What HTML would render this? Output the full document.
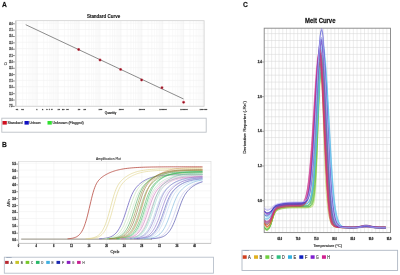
<!DOCTYPE html>
<html><head><meta charset="utf-8"><style>
html,body{margin:0;padding:0;background:#fff;}
body{width:400px;height:275px;overflow:hidden;font-family:"Liberation Sans", sans-serif;}
svg{display:block;will-change:transform;}
</style></head><body>
<svg width="400" height="275" viewBox="0 0 400 275">
<rect x="0" y="0" width="400" height="275" fill="#fff"/>
<text x="2" y="6.95" font-size="6.7" fill="#111" text-anchor="start" font-weight="bold" font-family='"Liberation Sans", sans-serif' stroke="#111" stroke-width="0.28" stroke-opacity="0.55">A</text>
<text x="103.6" y="18.4" font-size="4.7" fill="#1a1a1a" text-anchor="middle" font-weight="bold" font-family='"Liberation Sans", sans-serif' stroke="#1a1a1a" stroke-width="0.22" stroke-opacity="0.55" textLength="33.4" lengthAdjust="spacingAndGlyphs">Standard Curve</text>
<line x1="15.8" y1="23.2" x2="204.1" y2="23.2" stroke="#eeeeee" stroke-width="0.5"/>
<line x1="15.8" y1="29.55" x2="204.1" y2="29.55" stroke="#eeeeee" stroke-width="0.5"/>
<line x1="15.8" y1="35.91" x2="204.1" y2="35.91" stroke="#eeeeee" stroke-width="0.5"/>
<line x1="15.8" y1="42.26" x2="204.1" y2="42.26" stroke="#eeeeee" stroke-width="0.5"/>
<line x1="15.8" y1="48.61" x2="204.1" y2="48.61" stroke="#eeeeee" stroke-width="0.5"/>
<line x1="15.8" y1="54.97" x2="204.1" y2="54.97" stroke="#eeeeee" stroke-width="0.5"/>
<line x1="15.8" y1="61.32" x2="204.1" y2="61.32" stroke="#eeeeee" stroke-width="0.5"/>
<line x1="15.8" y1="67.67" x2="204.1" y2="67.67" stroke="#eeeeee" stroke-width="0.5"/>
<line x1="15.8" y1="74.02" x2="204.1" y2="74.02" stroke="#eeeeee" stroke-width="0.5"/>
<line x1="15.8" y1="80.38" x2="204.1" y2="80.38" stroke="#eeeeee" stroke-width="0.5"/>
<line x1="15.8" y1="86.73" x2="204.1" y2="86.73" stroke="#eeeeee" stroke-width="0.5"/>
<line x1="15.8" y1="93.08" x2="204.1" y2="93.08" stroke="#eeeeee" stroke-width="0.5"/>
<line x1="15.8" y1="99.44" x2="204.1" y2="99.44" stroke="#eeeeee" stroke-width="0.5"/>
<line x1="15.8" y1="105.79" x2="204.1" y2="105.79" stroke="#eeeeee" stroke-width="0.5"/>
<line x1="16.4" y1="20.7" x2="16.4" y2="106.3" stroke="#ececec" stroke-width="0.5"/>
<line x1="22.69" y1="20.7" x2="22.69" y2="106.3" stroke="#f3f3f3" stroke-width="0.5"/>
<line x1="26.37" y1="20.7" x2="26.37" y2="106.3" stroke="#f3f3f3" stroke-width="0.5"/>
<line x1="28.98" y1="20.7" x2="28.98" y2="106.3" stroke="#f3f3f3" stroke-width="0.5"/>
<line x1="31.01" y1="20.7" x2="31.01" y2="106.3" stroke="#f3f3f3" stroke-width="0.5"/>
<line x1="32.66" y1="20.7" x2="32.66" y2="106.3" stroke="#f3f3f3" stroke-width="0.5"/>
<line x1="34.06" y1="20.7" x2="34.06" y2="106.3" stroke="#f3f3f3" stroke-width="0.5"/>
<line x1="35.27" y1="20.7" x2="35.27" y2="106.3" stroke="#f3f3f3" stroke-width="0.5"/>
<line x1="36.34" y1="20.7" x2="36.34" y2="106.3" stroke="#f3f3f3" stroke-width="0.5"/>
<line x1="37.3" y1="20.7" x2="37.3" y2="106.3" stroke="#ececec" stroke-width="0.5"/>
<line x1="43.59" y1="20.7" x2="43.59" y2="106.3" stroke="#f3f3f3" stroke-width="0.5"/>
<line x1="47.27" y1="20.7" x2="47.27" y2="106.3" stroke="#f3f3f3" stroke-width="0.5"/>
<line x1="49.88" y1="20.7" x2="49.88" y2="106.3" stroke="#f3f3f3" stroke-width="0.5"/>
<line x1="51.91" y1="20.7" x2="51.91" y2="106.3" stroke="#f3f3f3" stroke-width="0.5"/>
<line x1="53.56" y1="20.7" x2="53.56" y2="106.3" stroke="#f3f3f3" stroke-width="0.5"/>
<line x1="54.96" y1="20.7" x2="54.96" y2="106.3" stroke="#f3f3f3" stroke-width="0.5"/>
<line x1="56.17" y1="20.7" x2="56.17" y2="106.3" stroke="#f3f3f3" stroke-width="0.5"/>
<line x1="57.24" y1="20.7" x2="57.24" y2="106.3" stroke="#f3f3f3" stroke-width="0.5"/>
<line x1="58.2" y1="20.7" x2="58.2" y2="106.3" stroke="#ececec" stroke-width="0.5"/>
<line x1="64.49" y1="20.7" x2="64.49" y2="106.3" stroke="#f3f3f3" stroke-width="0.5"/>
<line x1="68.17" y1="20.7" x2="68.17" y2="106.3" stroke="#f3f3f3" stroke-width="0.5"/>
<line x1="70.78" y1="20.7" x2="70.78" y2="106.3" stroke="#f3f3f3" stroke-width="0.5"/>
<line x1="72.81" y1="20.7" x2="72.81" y2="106.3" stroke="#f3f3f3" stroke-width="0.5"/>
<line x1="74.46" y1="20.7" x2="74.46" y2="106.3" stroke="#f3f3f3" stroke-width="0.5"/>
<line x1="75.86" y1="20.7" x2="75.86" y2="106.3" stroke="#f3f3f3" stroke-width="0.5"/>
<line x1="77.07" y1="20.7" x2="77.07" y2="106.3" stroke="#f3f3f3" stroke-width="0.5"/>
<line x1="78.14" y1="20.7" x2="78.14" y2="106.3" stroke="#f3f3f3" stroke-width="0.5"/>
<line x1="79.1" y1="20.7" x2="79.1" y2="106.3" stroke="#ececec" stroke-width="0.5"/>
<line x1="85.39" y1="20.7" x2="85.39" y2="106.3" stroke="#f3f3f3" stroke-width="0.5"/>
<line x1="89.07" y1="20.7" x2="89.07" y2="106.3" stroke="#f3f3f3" stroke-width="0.5"/>
<line x1="91.68" y1="20.7" x2="91.68" y2="106.3" stroke="#f3f3f3" stroke-width="0.5"/>
<line x1="93.71" y1="20.7" x2="93.71" y2="106.3" stroke="#f3f3f3" stroke-width="0.5"/>
<line x1="95.36" y1="20.7" x2="95.36" y2="106.3" stroke="#f3f3f3" stroke-width="0.5"/>
<line x1="96.76" y1="20.7" x2="96.76" y2="106.3" stroke="#f3f3f3" stroke-width="0.5"/>
<line x1="97.97" y1="20.7" x2="97.97" y2="106.3" stroke="#f3f3f3" stroke-width="0.5"/>
<line x1="99.04" y1="20.7" x2="99.04" y2="106.3" stroke="#f3f3f3" stroke-width="0.5"/>
<line x1="100" y1="20.7" x2="100" y2="106.3" stroke="#ececec" stroke-width="0.5"/>
<line x1="106.29" y1="20.7" x2="106.29" y2="106.3" stroke="#f3f3f3" stroke-width="0.5"/>
<line x1="109.97" y1="20.7" x2="109.97" y2="106.3" stroke="#f3f3f3" stroke-width="0.5"/>
<line x1="112.58" y1="20.7" x2="112.58" y2="106.3" stroke="#f3f3f3" stroke-width="0.5"/>
<line x1="114.61" y1="20.7" x2="114.61" y2="106.3" stroke="#f3f3f3" stroke-width="0.5"/>
<line x1="116.26" y1="20.7" x2="116.26" y2="106.3" stroke="#f3f3f3" stroke-width="0.5"/>
<line x1="117.66" y1="20.7" x2="117.66" y2="106.3" stroke="#f3f3f3" stroke-width="0.5"/>
<line x1="118.87" y1="20.7" x2="118.87" y2="106.3" stroke="#f3f3f3" stroke-width="0.5"/>
<line x1="119.94" y1="20.7" x2="119.94" y2="106.3" stroke="#f3f3f3" stroke-width="0.5"/>
<line x1="120.9" y1="20.7" x2="120.9" y2="106.3" stroke="#ececec" stroke-width="0.5"/>
<line x1="127.19" y1="20.7" x2="127.19" y2="106.3" stroke="#f3f3f3" stroke-width="0.5"/>
<line x1="130.87" y1="20.7" x2="130.87" y2="106.3" stroke="#f3f3f3" stroke-width="0.5"/>
<line x1="133.48" y1="20.7" x2="133.48" y2="106.3" stroke="#f3f3f3" stroke-width="0.5"/>
<line x1="135.51" y1="20.7" x2="135.51" y2="106.3" stroke="#f3f3f3" stroke-width="0.5"/>
<line x1="137.16" y1="20.7" x2="137.16" y2="106.3" stroke="#f3f3f3" stroke-width="0.5"/>
<line x1="138.56" y1="20.7" x2="138.56" y2="106.3" stroke="#f3f3f3" stroke-width="0.5"/>
<line x1="139.77" y1="20.7" x2="139.77" y2="106.3" stroke="#f3f3f3" stroke-width="0.5"/>
<line x1="140.84" y1="20.7" x2="140.84" y2="106.3" stroke="#f3f3f3" stroke-width="0.5"/>
<line x1="141.8" y1="20.7" x2="141.8" y2="106.3" stroke="#ececec" stroke-width="0.5"/>
<line x1="148.09" y1="20.7" x2="148.09" y2="106.3" stroke="#f3f3f3" stroke-width="0.5"/>
<line x1="151.77" y1="20.7" x2="151.77" y2="106.3" stroke="#f3f3f3" stroke-width="0.5"/>
<line x1="154.38" y1="20.7" x2="154.38" y2="106.3" stroke="#f3f3f3" stroke-width="0.5"/>
<line x1="156.41" y1="20.7" x2="156.41" y2="106.3" stroke="#f3f3f3" stroke-width="0.5"/>
<line x1="158.06" y1="20.7" x2="158.06" y2="106.3" stroke="#f3f3f3" stroke-width="0.5"/>
<line x1="159.46" y1="20.7" x2="159.46" y2="106.3" stroke="#f3f3f3" stroke-width="0.5"/>
<line x1="160.67" y1="20.7" x2="160.67" y2="106.3" stroke="#f3f3f3" stroke-width="0.5"/>
<line x1="161.74" y1="20.7" x2="161.74" y2="106.3" stroke="#f3f3f3" stroke-width="0.5"/>
<line x1="162.7" y1="20.7" x2="162.7" y2="106.3" stroke="#ececec" stroke-width="0.5"/>
<line x1="168.99" y1="20.7" x2="168.99" y2="106.3" stroke="#f3f3f3" stroke-width="0.5"/>
<line x1="172.67" y1="20.7" x2="172.67" y2="106.3" stroke="#f3f3f3" stroke-width="0.5"/>
<line x1="175.28" y1="20.7" x2="175.28" y2="106.3" stroke="#f3f3f3" stroke-width="0.5"/>
<line x1="177.31" y1="20.7" x2="177.31" y2="106.3" stroke="#f3f3f3" stroke-width="0.5"/>
<line x1="178.96" y1="20.7" x2="178.96" y2="106.3" stroke="#f3f3f3" stroke-width="0.5"/>
<line x1="180.36" y1="20.7" x2="180.36" y2="106.3" stroke="#f3f3f3" stroke-width="0.5"/>
<line x1="181.57" y1="20.7" x2="181.57" y2="106.3" stroke="#f3f3f3" stroke-width="0.5"/>
<line x1="182.64" y1="20.7" x2="182.64" y2="106.3" stroke="#f3f3f3" stroke-width="0.5"/>
<line x1="183.6" y1="20.7" x2="183.6" y2="106.3" stroke="#ececec" stroke-width="0.5"/>
<line x1="189.89" y1="20.7" x2="189.89" y2="106.3" stroke="#f3f3f3" stroke-width="0.5"/>
<line x1="193.57" y1="20.7" x2="193.57" y2="106.3" stroke="#f3f3f3" stroke-width="0.5"/>
<line x1="196.18" y1="20.7" x2="196.18" y2="106.3" stroke="#f3f3f3" stroke-width="0.5"/>
<line x1="198.21" y1="20.7" x2="198.21" y2="106.3" stroke="#f3f3f3" stroke-width="0.5"/>
<line x1="199.86" y1="20.7" x2="199.86" y2="106.3" stroke="#f3f3f3" stroke-width="0.5"/>
<line x1="201.26" y1="20.7" x2="201.26" y2="106.3" stroke="#f3f3f3" stroke-width="0.5"/>
<line x1="202.47" y1="20.7" x2="202.47" y2="106.3" stroke="#f3f3f3" stroke-width="0.5"/>
<line x1="203.54" y1="20.7" x2="203.54" y2="106.3" stroke="#f3f3f3" stroke-width="0.5"/>
<rect x="15.8" y="20.7" width="188.3" height="85.6" fill="none" stroke="#cfcfcf" stroke-width="0.8"/>
<line x1="15.8" y1="20.7" x2="15.8" y2="106.3" stroke="#bdbdbd" stroke-width="1"/>
<text x="12.7" y="24.75" font-size="2.6" fill="#222" text-anchor="end" font-weight="bold" font-family='"Liberation Sans", sans-serif' stroke="#222" stroke-width="0.28" stroke-opacity="0.55" textLength="3.4" lengthAdjust="spacingAndGlyphs">40.0</text>
<line x1="13.1" y1="23.8" x2="14.7" y2="23.8" stroke="#444" stroke-width="0.7"/>
<text x="12.7" y="31.1" font-size="2.6" fill="#222" text-anchor="end" font-weight="bold" font-family='"Liberation Sans", sans-serif' stroke="#222" stroke-width="0.28" stroke-opacity="0.55" textLength="3.4" lengthAdjust="spacingAndGlyphs">37.5</text>
<line x1="13.1" y1="30.15" x2="14.7" y2="30.15" stroke="#444" stroke-width="0.7"/>
<text x="12.7" y="37.46" font-size="2.6" fill="#222" text-anchor="end" font-weight="bold" font-family='"Liberation Sans", sans-serif' stroke="#222" stroke-width="0.28" stroke-opacity="0.55" textLength="3.4" lengthAdjust="spacingAndGlyphs">35.0</text>
<line x1="13.1" y1="36.51" x2="14.7" y2="36.51" stroke="#444" stroke-width="0.7"/>
<text x="12.7" y="43.81" font-size="2.6" fill="#222" text-anchor="end" font-weight="bold" font-family='"Liberation Sans", sans-serif' stroke="#222" stroke-width="0.28" stroke-opacity="0.55" textLength="3.4" lengthAdjust="spacingAndGlyphs">32.5</text>
<line x1="13.1" y1="42.86" x2="14.7" y2="42.86" stroke="#444" stroke-width="0.7"/>
<text x="12.7" y="50.16" font-size="2.6" fill="#222" text-anchor="end" font-weight="bold" font-family='"Liberation Sans", sans-serif' stroke="#222" stroke-width="0.28" stroke-opacity="0.55" textLength="3.4" lengthAdjust="spacingAndGlyphs">30.0</text>
<line x1="13.1" y1="49.21" x2="14.7" y2="49.21" stroke="#444" stroke-width="0.7"/>
<text x="12.7" y="56.52" font-size="2.6" fill="#222" text-anchor="end" font-weight="bold" font-family='"Liberation Sans", sans-serif' stroke="#222" stroke-width="0.28" stroke-opacity="0.55" textLength="3.4" lengthAdjust="spacingAndGlyphs">27.5</text>
<line x1="13.1" y1="55.57" x2="14.7" y2="55.57" stroke="#444" stroke-width="0.7"/>
<text x="12.7" y="62.87" font-size="2.6" fill="#222" text-anchor="end" font-weight="bold" font-family='"Liberation Sans", sans-serif' stroke="#222" stroke-width="0.28" stroke-opacity="0.55" textLength="3.4" lengthAdjust="spacingAndGlyphs">25.0</text>
<line x1="13.1" y1="61.92" x2="14.7" y2="61.92" stroke="#444" stroke-width="0.7"/>
<text x="12.7" y="69.22" font-size="2.6" fill="#222" text-anchor="end" font-weight="bold" font-family='"Liberation Sans", sans-serif' stroke="#222" stroke-width="0.28" stroke-opacity="0.55" textLength="3.4" lengthAdjust="spacingAndGlyphs">22.5</text>
<line x1="13.1" y1="68.27" x2="14.7" y2="68.27" stroke="#444" stroke-width="0.7"/>
<text x="12.7" y="75.57" font-size="2.6" fill="#222" text-anchor="end" font-weight="bold" font-family='"Liberation Sans", sans-serif' stroke="#222" stroke-width="0.28" stroke-opacity="0.55" textLength="3.4" lengthAdjust="spacingAndGlyphs">20.0</text>
<line x1="13.1" y1="74.62" x2="14.7" y2="74.62" stroke="#444" stroke-width="0.7"/>
<text x="12.7" y="81.93" font-size="2.6" fill="#222" text-anchor="end" font-weight="bold" font-family='"Liberation Sans", sans-serif' stroke="#222" stroke-width="0.28" stroke-opacity="0.55" textLength="3.4" lengthAdjust="spacingAndGlyphs">17.5</text>
<line x1="13.1" y1="80.98" x2="14.7" y2="80.98" stroke="#444" stroke-width="0.7"/>
<text x="12.7" y="88.28" font-size="2.6" fill="#222" text-anchor="end" font-weight="bold" font-family='"Liberation Sans", sans-serif' stroke="#222" stroke-width="0.28" stroke-opacity="0.55" textLength="3.4" lengthAdjust="spacingAndGlyphs">15.0</text>
<line x1="13.1" y1="87.33" x2="14.7" y2="87.33" stroke="#444" stroke-width="0.7"/>
<text x="12.7" y="94.63" font-size="2.6" fill="#222" text-anchor="end" font-weight="bold" font-family='"Liberation Sans", sans-serif' stroke="#222" stroke-width="0.28" stroke-opacity="0.55" textLength="3.4" lengthAdjust="spacingAndGlyphs">12.5</text>
<line x1="13.1" y1="93.68" x2="14.7" y2="93.68" stroke="#444" stroke-width="0.7"/>
<text x="12.7" y="100.99" font-size="2.6" fill="#222" text-anchor="end" font-weight="bold" font-family='"Liberation Sans", sans-serif' stroke="#222" stroke-width="0.28" stroke-opacity="0.55" textLength="3.4" lengthAdjust="spacingAndGlyphs">10.0</text>
<line x1="13.1" y1="100.04" x2="14.7" y2="100.04" stroke="#444" stroke-width="0.7"/>
<text x="12.7" y="107.34" font-size="2.6" fill="#222" text-anchor="end" font-weight="bold" font-family='"Liberation Sans", sans-serif' stroke="#222" stroke-width="0.28" stroke-opacity="0.55" textLength="3.4" lengthAdjust="spacingAndGlyphs">7.5</text>
<line x1="13.1" y1="106.39" x2="14.7" y2="106.39" stroke="#444" stroke-width="0.7"/>
<text x="17" y="109.5" font-size="2.3" fill="#222" text-anchor="middle" font-weight="bold" font-family='"Liberation Sans", sans-serif' stroke="#222" stroke-width="0.3" stroke-opacity="0.55">01</text>
<text x="22.6" y="109.5" font-size="2.3" fill="#222" text-anchor="middle" font-weight="bold" font-family='"Liberation Sans", sans-serif' stroke="#222" stroke-width="0.3" stroke-opacity="0.55">02</text>
<text x="37" y="109.5" font-size="2.3" fill="#222" text-anchor="middle" font-weight="bold" font-family='"Liberation Sans", sans-serif' stroke="#222" stroke-width="0.3" stroke-opacity="0.55">1</text>
<text x="42.6" y="109.5" font-size="2.3" fill="#222" text-anchor="middle" font-weight="bold" font-family='"Liberation Sans", sans-serif' stroke="#222" stroke-width="0.3" stroke-opacity="0.55">2</text>
<text x="47" y="109.5" font-size="2.3" fill="#222" text-anchor="middle" font-weight="bold" font-family='"Liberation Sans", sans-serif' stroke="#222" stroke-width="0.3" stroke-opacity="0.55">3</text>
<text x="49.5" y="109.5" font-size="2.3" fill="#222" text-anchor="middle" font-weight="bold" font-family='"Liberation Sans", sans-serif' stroke="#222" stroke-width="0.3" stroke-opacity="0.55">4</text>
<text x="52" y="109.5" font-size="2.3" fill="#222" text-anchor="middle" font-weight="bold" font-family='"Liberation Sans", sans-serif' stroke="#222" stroke-width="0.3" stroke-opacity="0.55">5</text>
<text x="58.8" y="109.5" font-size="2.3" fill="#222" text-anchor="middle" font-weight="bold" font-family='"Liberation Sans", sans-serif' stroke="#222" stroke-width="0.3" stroke-opacity="0.55">10</text>
<text x="63.3" y="109.5" font-size="2.3" fill="#222" text-anchor="middle" font-weight="bold" font-family='"Liberation Sans", sans-serif' stroke="#222" stroke-width="0.3" stroke-opacity="0.55">20</text>
<text x="67.5" y="109.5" font-size="2.3" fill="#222" text-anchor="middle" font-weight="bold" font-family='"Liberation Sans", sans-serif' stroke="#222" stroke-width="0.3" stroke-opacity="0.55">30</text>
<text x="79" y="109.5" font-size="2.3" fill="#222" text-anchor="middle" font-weight="bold" font-family='"Liberation Sans", sans-serif' stroke="#222" stroke-width="0.3" stroke-opacity="0.55">10</text>
<text x="84.7" y="109.5" font-size="2.3" fill="#222" text-anchor="middle" font-weight="bold" font-family='"Liberation Sans", sans-serif' stroke="#222" stroke-width="0.3" stroke-opacity="0.55">20</text>
<text x="100.3" y="109.5" font-size="2.3" fill="#222" text-anchor="middle" font-weight="bold" font-family='"Liberation Sans", sans-serif' stroke="#222" stroke-width="0.3" stroke-opacity="0.55">100</text>
<text x="121.25" y="109.5" font-size="2.3" fill="#222" text-anchor="middle" font-weight="bold" font-family='"Liberation Sans", sans-serif' stroke="#222" stroke-width="0.3" stroke-opacity="0.55">1000</text>
<text x="141.9" y="109.5" font-size="2.3" fill="#222" text-anchor="middle" font-weight="bold" font-family='"Liberation Sans", sans-serif' stroke="#222" stroke-width="0.3" stroke-opacity="0.55">10000</text>
<text x="163" y="109.5" font-size="2.3" fill="#222" text-anchor="middle" font-weight="bold" font-family='"Liberation Sans", sans-serif' stroke="#222" stroke-width="0.3" stroke-opacity="0.55">100000</text>
<text x="184" y="109.5" font-size="2.3" fill="#222" text-anchor="middle" font-weight="bold" font-family='"Liberation Sans", sans-serif' stroke="#222" stroke-width="0.3" stroke-opacity="0.55">100000</text>
<text x="203.4" y="109.5" font-size="2.3" fill="#222" text-anchor="middle" font-weight="bold" font-family='"Liberation Sans", sans-serif' stroke="#222" stroke-width="0.3" stroke-opacity="0.55">100000</text>
<text x="110.5" y="114" font-size="3.3" fill="#111" text-anchor="middle" font-weight="normal" font-family='"Liberation Sans", sans-serif' stroke="#111" stroke-width="0.24" stroke-opacity="0.55" textLength="11.5" lengthAdjust="spacingAndGlyphs">Quantity</text>
<text x="6.6" y="63.7" font-size="3" fill="#444" text-anchor="middle" font-weight="normal" font-family='"Liberation Sans", sans-serif' stroke="#444" stroke-width="0.24" stroke-opacity="0.55" transform="rotate(-90 6.6 63.7)">Ct</text>
<line x1="25.7" y1="24.7" x2="183.6" y2="99" stroke="#666" stroke-width="0.75"/>
<circle cx="78.65" cy="49.5" r="1.45" fill="#d04050" fill-opacity="0.8"/>
<circle cx="78.65" cy="49.5" r="0.9" fill="#8a1020"/>
<circle cx="100" cy="60" r="1.45" fill="#d04050" fill-opacity="0.8"/>
<circle cx="100" cy="60" r="0.9" fill="#8a1020"/>
<circle cx="120.6" cy="69.4" r="1.45" fill="#d04050" fill-opacity="0.8"/>
<circle cx="120.6" cy="69.4" r="0.9" fill="#8a1020"/>
<circle cx="141.6" cy="80" r="1.45" fill="#d04050" fill-opacity="0.8"/>
<circle cx="141.6" cy="80" r="0.9" fill="#8a1020"/>
<circle cx="162" cy="87.7" r="1.45" fill="#d04050" fill-opacity="0.8"/>
<circle cx="162" cy="87.7" r="0.9" fill="#8a1020"/>
<circle cx="183.6" cy="102.3" r="1.45" fill="#d04050" fill-opacity="0.8"/>
<circle cx="183.6" cy="102.3" r="0.9" fill="#8a1020"/>
<rect x="1.8" y="118.2" width="204.4" height="14" fill="#fff" stroke="#bcc0c6" stroke-width="0.9"/>
<rect x="2.5" y="121" width="4.3" height="3.6" fill="#d01020" stroke="none" stroke-width="0.5"/>
<text x="7.5" y="124.4" font-size="3.6" fill="#222" text-anchor="start" font-weight="normal" font-family='"Liberation Sans", sans-serif' stroke="#222" stroke-width="0.24" stroke-opacity="0.55" textLength="15" lengthAdjust="spacingAndGlyphs">Standard</text>
<rect x="24.5" y="121" width="4.3" height="3.6" fill="#1010c0" stroke="none" stroke-width="0.5"/>
<text x="29.5" y="124.4" font-size="3.6" fill="#222" text-anchor="start" font-weight="normal" font-family='"Liberation Sans", sans-serif' stroke="#222" stroke-width="0.24" stroke-opacity="0.55" textLength="11.2" lengthAdjust="spacingAndGlyphs">Unknown</text>
<rect x="47.5" y="121" width="4.3" height="3.6" fill="#30e030" stroke="none" stroke-width="0.5"/>
<text x="52.5" y="124.4" font-size="3.6" fill="#222" text-anchor="start" font-weight="normal" font-family='"Liberation Sans", sans-serif' stroke="#222" stroke-width="0.24" stroke-opacity="0.55" textLength="31.2" lengthAdjust="spacingAndGlyphs">Unknown (Flagged)</text>
<text x="2.1" y="147" font-size="6.7" fill="#111" text-anchor="start" font-weight="bold" font-family='"Liberation Sans", sans-serif' stroke="#111" stroke-width="0.28" stroke-opacity="0.55">B</text>
<text x="108.5" y="159.8" font-size="3.3" fill="#222" text-anchor="middle" font-weight="normal" font-family='"Liberation Sans", sans-serif' stroke="#222" stroke-width="0.12" stroke-opacity="0.55" textLength="25" lengthAdjust="spacingAndGlyphs">Amplification Plot</text>
<line x1="18.6" y1="163.2" x2="211" y2="163.2" stroke="#efefef" stroke-width="0.5"/>
<line x1="18.6" y1="170.11" x2="211" y2="170.11" stroke="#efefef" stroke-width="0.5"/>
<line x1="18.6" y1="177.02" x2="211" y2="177.02" stroke="#efefef" stroke-width="0.5"/>
<line x1="18.6" y1="183.93" x2="211" y2="183.93" stroke="#efefef" stroke-width="0.5"/>
<line x1="18.6" y1="190.84" x2="211" y2="190.84" stroke="#efefef" stroke-width="0.5"/>
<line x1="18.6" y1="197.75" x2="211" y2="197.75" stroke="#efefef" stroke-width="0.5"/>
<line x1="18.6" y1="204.66" x2="211" y2="204.66" stroke="#efefef" stroke-width="0.5"/>
<line x1="18.6" y1="211.57" x2="211" y2="211.57" stroke="#efefef" stroke-width="0.5"/>
<line x1="18.6" y1="218.48" x2="211" y2="218.48" stroke="#efefef" stroke-width="0.5"/>
<line x1="18.6" y1="225.39" x2="211" y2="225.39" stroke="#efefef" stroke-width="0.5"/>
<line x1="18.6" y1="232.3" x2="211" y2="232.3" stroke="#efefef" stroke-width="0.5"/>
<line x1="18.6" y1="239.21" x2="211" y2="239.21" stroke="#efefef" stroke-width="0.5"/>
<line x1="36.2" y1="161.6" x2="36.2" y2="243.4" stroke="#eeeeee" stroke-width="0.5"/>
<line x1="53.8" y1="161.6" x2="53.8" y2="243.4" stroke="#eeeeee" stroke-width="0.5"/>
<line x1="71.4" y1="161.6" x2="71.4" y2="243.4" stroke="#eeeeee" stroke-width="0.5"/>
<line x1="89" y1="161.6" x2="89" y2="243.4" stroke="#eeeeee" stroke-width="0.5"/>
<line x1="106.6" y1="161.6" x2="106.6" y2="243.4" stroke="#eeeeee" stroke-width="0.5"/>
<line x1="124.2" y1="161.6" x2="124.2" y2="243.4" stroke="#eeeeee" stroke-width="0.5"/>
<line x1="141.8" y1="161.6" x2="141.8" y2="243.4" stroke="#eeeeee" stroke-width="0.5"/>
<line x1="159.4" y1="161.6" x2="159.4" y2="243.4" stroke="#eeeeee" stroke-width="0.5"/>
<line x1="177" y1="161.6" x2="177" y2="243.4" stroke="#eeeeee" stroke-width="0.5"/>
<line x1="194.6" y1="161.6" x2="194.6" y2="243.4" stroke="#eeeeee" stroke-width="0.5"/>
<rect x="18.6" y="161.6" width="192.4" height="81.8" fill="none" stroke="#d8d8d8" stroke-width="0.6"/>
<line x1="18.6" y1="161.6" x2="18.6" y2="243.4" stroke="#c4c4c4" stroke-width="0.9"/>
<line x1="18.6" y1="243.4" x2="211" y2="243.4" stroke="#c4c4c4" stroke-width="0.9"/>
<text x="16.1" y="165.1" font-size="2.7" fill="#1a1a1a" text-anchor="end" font-weight="bold" font-family='"Liberation Sans", sans-serif' stroke="#1a1a1a" stroke-width="0.35" stroke-opacity="0.55" textLength="3.8" lengthAdjust="spacingAndGlyphs">5.5</text>
<line x1="16.2" y1="164.1" x2="18" y2="164.1" stroke="#555" stroke-width="0.6"/>
<text x="16.1" y="172.01" font-size="2.7" fill="#1a1a1a" text-anchor="end" font-weight="bold" font-family='"Liberation Sans", sans-serif' stroke="#1a1a1a" stroke-width="0.35" stroke-opacity="0.55" textLength="3.8" lengthAdjust="spacingAndGlyphs">5.0</text>
<line x1="16.2" y1="171.01" x2="18" y2="171.01" stroke="#555" stroke-width="0.6"/>
<text x="16.1" y="178.92" font-size="2.7" fill="#1a1a1a" text-anchor="end" font-weight="bold" font-family='"Liberation Sans", sans-serif' stroke="#1a1a1a" stroke-width="0.35" stroke-opacity="0.55" textLength="3.8" lengthAdjust="spacingAndGlyphs">4.5</text>
<line x1="16.2" y1="177.92" x2="18" y2="177.92" stroke="#555" stroke-width="0.6"/>
<text x="16.1" y="185.83" font-size="2.7" fill="#1a1a1a" text-anchor="end" font-weight="bold" font-family='"Liberation Sans", sans-serif' stroke="#1a1a1a" stroke-width="0.35" stroke-opacity="0.55" textLength="3.8" lengthAdjust="spacingAndGlyphs">4.0</text>
<line x1="16.2" y1="184.83" x2="18" y2="184.83" stroke="#555" stroke-width="0.6"/>
<text x="16.1" y="192.74" font-size="2.7" fill="#1a1a1a" text-anchor="end" font-weight="bold" font-family='"Liberation Sans", sans-serif' stroke="#1a1a1a" stroke-width="0.35" stroke-opacity="0.55" textLength="3.8" lengthAdjust="spacingAndGlyphs">3.5</text>
<line x1="16.2" y1="191.74" x2="18" y2="191.74" stroke="#555" stroke-width="0.6"/>
<text x="16.1" y="199.65" font-size="2.7" fill="#1a1a1a" text-anchor="end" font-weight="bold" font-family='"Liberation Sans", sans-serif' stroke="#1a1a1a" stroke-width="0.35" stroke-opacity="0.55" textLength="3.8" lengthAdjust="spacingAndGlyphs">3.0</text>
<line x1="16.2" y1="198.65" x2="18" y2="198.65" stroke="#555" stroke-width="0.6"/>
<text x="16.1" y="206.56" font-size="2.7" fill="#1a1a1a" text-anchor="end" font-weight="bold" font-family='"Liberation Sans", sans-serif' stroke="#1a1a1a" stroke-width="0.35" stroke-opacity="0.55" textLength="3.8" lengthAdjust="spacingAndGlyphs">2.5</text>
<line x1="16.2" y1="205.56" x2="18" y2="205.56" stroke="#555" stroke-width="0.6"/>
<text x="16.1" y="213.47" font-size="2.7" fill="#1a1a1a" text-anchor="end" font-weight="bold" font-family='"Liberation Sans", sans-serif' stroke="#1a1a1a" stroke-width="0.35" stroke-opacity="0.55" textLength="3.8" lengthAdjust="spacingAndGlyphs">2.0</text>
<line x1="16.2" y1="212.47" x2="18" y2="212.47" stroke="#555" stroke-width="0.6"/>
<text x="16.1" y="220.38" font-size="2.7" fill="#1a1a1a" text-anchor="end" font-weight="bold" font-family='"Liberation Sans", sans-serif' stroke="#1a1a1a" stroke-width="0.35" stroke-opacity="0.55" textLength="3.8" lengthAdjust="spacingAndGlyphs">1.5</text>
<line x1="16.2" y1="219.38" x2="18" y2="219.38" stroke="#555" stroke-width="0.6"/>
<text x="16.1" y="227.29" font-size="2.7" fill="#1a1a1a" text-anchor="end" font-weight="bold" font-family='"Liberation Sans", sans-serif' stroke="#1a1a1a" stroke-width="0.35" stroke-opacity="0.55" textLength="3.8" lengthAdjust="spacingAndGlyphs">1.0</text>
<line x1="16.2" y1="226.29" x2="18" y2="226.29" stroke="#555" stroke-width="0.6"/>
<text x="16.1" y="234.2" font-size="2.7" fill="#1a1a1a" text-anchor="end" font-weight="bold" font-family='"Liberation Sans", sans-serif' stroke="#1a1a1a" stroke-width="0.35" stroke-opacity="0.55" textLength="3.8" lengthAdjust="spacingAndGlyphs">0.5</text>
<line x1="16.2" y1="233.2" x2="18" y2="233.2" stroke="#555" stroke-width="0.6"/>
<text x="16.1" y="241.11" font-size="2.7" fill="#1a1a1a" text-anchor="end" font-weight="bold" font-family='"Liberation Sans", sans-serif' stroke="#1a1a1a" stroke-width="0.35" stroke-opacity="0.55" textLength="3.8" lengthAdjust="spacingAndGlyphs">0.0</text>
<line x1="16.2" y1="240.11" x2="18" y2="240.11" stroke="#555" stroke-width="0.6"/>
<text x="18.6" y="247.3" font-size="2.6" fill="#222" text-anchor="middle" font-weight="bold" font-family='"Liberation Sans", sans-serif' stroke="#222" stroke-width="0.3" stroke-opacity="0.55">0</text>
<line x1="18.6" y1="243.4" x2="18.6" y2="244.6" stroke="#777" stroke-width="0.5"/>
<text x="36.2" y="247.3" font-size="2.6" fill="#222" text-anchor="middle" font-weight="bold" font-family='"Liberation Sans", sans-serif' stroke="#222" stroke-width="0.3" stroke-opacity="0.55">4</text>
<line x1="36.2" y1="243.4" x2="36.2" y2="244.6" stroke="#777" stroke-width="0.5"/>
<text x="53.8" y="247.3" font-size="2.6" fill="#222" text-anchor="middle" font-weight="bold" font-family='"Liberation Sans", sans-serif' stroke="#222" stroke-width="0.3" stroke-opacity="0.55">8</text>
<line x1="53.8" y1="243.4" x2="53.8" y2="244.6" stroke="#777" stroke-width="0.5"/>
<text x="71.4" y="247.3" font-size="2.6" fill="#222" text-anchor="middle" font-weight="bold" font-family='"Liberation Sans", sans-serif' stroke="#222" stroke-width="0.3" stroke-opacity="0.55">12</text>
<line x1="71.4" y1="243.4" x2="71.4" y2="244.6" stroke="#777" stroke-width="0.5"/>
<text x="89" y="247.3" font-size="2.6" fill="#222" text-anchor="middle" font-weight="bold" font-family='"Liberation Sans", sans-serif' stroke="#222" stroke-width="0.3" stroke-opacity="0.55">16</text>
<line x1="89" y1="243.4" x2="89" y2="244.6" stroke="#777" stroke-width="0.5"/>
<text x="106.6" y="247.3" font-size="2.6" fill="#222" text-anchor="middle" font-weight="bold" font-family='"Liberation Sans", sans-serif' stroke="#222" stroke-width="0.3" stroke-opacity="0.55">20</text>
<line x1="106.6" y1="243.4" x2="106.6" y2="244.6" stroke="#777" stroke-width="0.5"/>
<text x="124.2" y="247.3" font-size="2.6" fill="#222" text-anchor="middle" font-weight="bold" font-family='"Liberation Sans", sans-serif' stroke="#222" stroke-width="0.3" stroke-opacity="0.55">24</text>
<line x1="124.2" y1="243.4" x2="124.2" y2="244.6" stroke="#777" stroke-width="0.5"/>
<text x="141.8" y="247.3" font-size="2.6" fill="#222" text-anchor="middle" font-weight="bold" font-family='"Liberation Sans", sans-serif' stroke="#222" stroke-width="0.3" stroke-opacity="0.55">28</text>
<line x1="141.8" y1="243.4" x2="141.8" y2="244.6" stroke="#777" stroke-width="0.5"/>
<text x="159.4" y="247.3" font-size="2.6" fill="#222" text-anchor="middle" font-weight="bold" font-family='"Liberation Sans", sans-serif' stroke="#222" stroke-width="0.3" stroke-opacity="0.55">32</text>
<line x1="159.4" y1="243.4" x2="159.4" y2="244.6" stroke="#777" stroke-width="0.5"/>
<text x="177" y="247.3" font-size="2.6" fill="#222" text-anchor="middle" font-weight="bold" font-family='"Liberation Sans", sans-serif' stroke="#222" stroke-width="0.3" stroke-opacity="0.55">36</text>
<line x1="177" y1="243.4" x2="177" y2="244.6" stroke="#777" stroke-width="0.5"/>
<text x="194.6" y="247.3" font-size="2.6" fill="#222" text-anchor="middle" font-weight="bold" font-family='"Liberation Sans", sans-serif' stroke="#222" stroke-width="0.3" stroke-opacity="0.55">40</text>
<line x1="194.6" y1="243.4" x2="194.6" y2="244.6" stroke="#777" stroke-width="0.5"/>
<text x="115" y="252.5" font-size="3.9" fill="#111" text-anchor="middle" font-weight="normal" font-family='"Liberation Serif", serif' stroke="#111" stroke-width="0.3" stroke-opacity="0.55" textLength="8.8" lengthAdjust="spacingAndGlyphs">Cycle</text>
<text x="10" y="203" font-size="3.9" fill="#333" text-anchor="middle" font-weight="normal" font-family='"Liberation Sans", sans-serif' stroke="#333" stroke-width="0.24" stroke-opacity="0.55" textLength="7.6" lengthAdjust="spacingAndGlyphs" transform="rotate(-90 10.0 203)">ΔRn</text>
<line x1="21.2" y1="239.1" x2="152" y2="239.1" stroke="#6b6450" stroke-width="0.7"/>
<path d="M67.6 238.76 L68.4 238.71 L69.2 238.64 L70 238.56 L70.8 238.47 L71.6 238.35 L72.4 238.21 L73.2 238.03 L74 237.82 L74.8 237.56 L75.6 237.25 L76.4 236.88 L77.2 236.43 L78 235.88 L78.8 235.23 L79.6 234.45 L80.4 233.51 L81.2 232.41 L82 231.11 L82.8 229.6 L83.6 227.84 L84.4 225.82 L85.2 223.54 L86 220.98 L86.8 218.17 L87.6 215.12 L88.4 211.87 L89.2 208.49 L90 205.05 L90.8 201.62 L91.6 198.29 L92.4 195.14 L93.2 192.24 L94 189.64 L94.8 187.36 L95.6 185.41 L96.4 183.75 L97.2 182.36 L98 181.18 L98.8 180.17 L99.6 179.3 L100.4 178.52 L101.2 177.82 L102 177.18 L102.8 176.59 L103.6 176.04 L104.4 175.52 L105.2 175.03 L106 174.57 L106.8 174.13 L107.6 173.72 L108.4 173.33 L109.2 172.95 L110 172.6 L110.8 172.27 L111.6 171.95 L112.4 171.66 L113.2 171.37 L114 171.11 L114.8 170.85 L115.6 170.62 L116.4 170.39 L117.2 170.18 L118 169.98 L118.8 169.79 L119.6 169.61 L120.4 169.44 L121.2 169.28 L123.2 168.93 L125.2 168.62 L127.2 168.36 L129.2 168.13 L131.2 167.94 L133.2 167.77 L135.2 167.63 L137.2 167.51 L139.2 167.4 L141.2 167.31 L143.2 167.24 L145.2 167.17 L147.2 167.12 L149.2 167.07 L151.2 167.03 L153.2 166.99 L155.2 166.97 L157.2 166.94 L159.2 166.92 L161.2 166.9 L163.2 166.89 L165.2 166.87 L167.2 166.86 L169.2 166.85 L171.2 166.84 L173.2 166.84 L175.2 166.83 L177.2 166.83 L179.2 166.82 L181.2 166.82 L183.2 166.81 L185.2 166.81 L187.2 166.81 L189.2 166.81 L191.2 166.81 L193.2 166.8 L195.2 166.8 L197.2 166.8 L199.2 166.8 L201.2 166.8 L202.5 166.8" fill="none" stroke="#b84a40" stroke-width="0.8" stroke-opacity="1" stroke-linejoin="round"/>
<path d="M85.6 238.77 L86.4 238.73 L87.2 238.68 L88 238.61 L88.8 238.54 L89.6 238.45 L90.4 238.35 L91.2 238.22 L92 238.07 L92.8 237.89 L93.6 237.68 L94.4 237.43 L95.2 237.13 L96 236.78 L96.8 236.36 L97.6 235.87 L98.4 235.3 L99.2 234.62 L100 233.83 L100.8 232.91 L101.6 231.85 L102.4 230.63 L103.2 229.22 L104 227.63 L104.8 225.83 L105.6 223.83 L106.4 221.61 L107.2 219.19 L108 216.59 L108.8 213.81 L109.6 210.92 L110.4 207.93 L111.2 204.92 L112 201.94 L112.8 199.04 L113.6 196.29 L114.4 193.73 L115.2 191.4 L116 189.33 L116.8 187.5 L117.6 185.91 L118.4 184.53 L119.2 183.32 L120 182.26 L120.8 181.3 L121.6 180.44 L122.4 179.65 L123.2 178.92 L124 178.25 L124.8 177.61 L125.6 177.02 L126.4 176.47 L127.2 175.95 L128 175.46 L128.8 175 L129.6 174.57 L130.4 174.16 L131.2 173.78 L132 173.43 L132.8 173.1 L133.6 172.79 L134.4 172.5 L135.2 172.22 L136 171.97 L136.8 171.73 L137.6 171.51 L138.4 171.31 L139.2 171.11 L140 170.94 L140.8 170.77 L141.6 170.61 L143.6 170.27 L145.6 169.99 L147.6 169.75 L149.6 169.55 L151.6 169.39 L153.6 169.25 L155.6 169.14 L157.6 169.04 L159.6 168.97 L161.6 168.9 L163.6 168.85 L165.6 168.8 L167.6 168.77 L169.6 168.74 L171.6 168.71 L173.6 168.69 L175.6 168.68 L177.6 168.66 L179.6 168.65 L181.6 168.64 L183.6 168.63 L185.6 168.63 L187.6 168.62 L189.6 168.62 L191.6 168.61 L193.6 168.61 L195.6 168.61 L197.6 168.6 L199.6 168.6 L201.6 168.6 L202.5 168.6" fill="none" stroke="#dcd080" stroke-width="0.6" stroke-opacity="1" stroke-linejoin="round"/>
<path d="M88.4 238.76 L89.2 238.72 L90 238.66 L90.8 238.6 L91.6 238.52 L92.4 238.43 L93.2 238.31 L94 238.18 L94.8 238.03 L95.6 237.84 L96.4 237.62 L97.2 237.36 L98 237.05 L98.8 236.68 L99.6 236.24 L100.4 235.73 L101.2 235.13 L102 234.43 L102.8 233.61 L103.6 232.66 L104.4 231.56 L105.2 230.3 L106 228.85 L106.8 227.22 L107.6 225.38 L108.4 223.34 L109.2 221.09 L110 218.65 L110.8 216.03 L111.6 213.26 L112.4 210.38 L113.2 207.44 L114 204.5 L114.8 201.6 L115.6 198.8 L116.4 196.17 L117.2 193.75 L118 191.56 L118.8 189.61 L119.6 187.91 L120.4 186.44 L121.2 185.15 L122 184.02 L122.8 183.02 L123.6 182.12 L124.4 181.31 L125.2 180.56 L126 179.86 L126.8 179.22 L127.6 178.61 L128.4 178.05 L129.2 177.51 L130 177.01 L130.8 176.55 L131.6 176.11 L132.4 175.69 L133.2 175.31 L134 174.95 L134.8 174.61 L135.6 174.29 L136.4 173.99 L137.2 173.71 L138 173.45 L138.8 173.21 L139.6 172.99 L140.4 172.78 L141.2 172.58 L142 172.4 L142.8 172.23 L143.6 172.07 L144.4 171.92 L146.4 171.59 L148.4 171.32 L150.4 171.09 L152.4 170.91 L154.4 170.75 L156.4 170.62 L158.4 170.51 L160.4 170.42 L162.4 170.35 L164.4 170.29 L166.4 170.24 L168.4 170.19 L170.4 170.16 L172.4 170.13 L174.4 170.11 L176.4 170.09 L178.4 170.07 L180.4 170.06 L182.4 170.05 L184.4 170.04 L186.4 170.03 L188.4 170.02 L190.4 170.02 L192.4 170.01 L194.4 170.01 L196.4 170.01 L198.4 170 L200.4 170 L202.4 170 L202.5 170" fill="none" stroke="#e0d488" stroke-width="0.6" stroke-opacity="1" stroke-linejoin="round"/>
<path d="M99.2 238.77 L100 238.73 L100.8 238.69 L101.6 238.63 L102.4 238.57 L103.2 238.5 L104 238.41 L104.8 238.31 L105.6 238.19 L106.4 238.05 L107.2 237.89 L108 237.7 L108.8 237.48 L109.6 237.22 L110.4 236.93 L111.2 236.58 L112 236.18 L112.8 235.71 L113.6 235.18 L114.4 234.56 L115.2 233.85 L116 233.04 L116.8 232.12 L117.6 231.07 L118.4 229.89 L119.2 228.57 L120 227.09 L120.8 225.46 L121.6 223.67 L122.4 221.73 L123.2 219.64 L124 217.42 L124.8 215.08 L125.6 212.66 L126.4 210.18 L127.2 207.68 L128 205.2 L128.8 202.77 L129.6 200.45 L130.4 198.27 L131.2 196.25 L132 194.41 L132.8 192.75 L133.6 191.28 L134.4 189.97 L135.2 188.79 L136 187.74 L136.8 186.78 L137.6 185.9 L138.4 185.09 L139.2 184.34 L140 183.64 L140.8 182.98 L141.6 182.38 L142.4 181.81 L143.2 181.27 L144 180.78 L144.8 180.31 L145.6 179.88 L146.4 179.48 L147.2 179.11 L148 178.76 L148.8 178.43 L149.6 178.13 L150.4 177.85 L151.2 177.59 L152 177.35 L152.8 177.13 L153.6 176.93 L154.4 176.74 L155.2 176.56 L156 176.4 L156.8 176.25 L157.6 176.11 L159.6 175.81 L161.6 175.56 L163.6 175.36 L165.6 175.19 L167.6 175.06 L169.6 174.95 L171.6 174.86 L173.6 174.79 L175.6 174.73 L177.6 174.69 L179.6 174.65 L181.6 174.62 L183.6 174.59 L185.6 174.57 L187.6 174.56 L189.6 174.54 L191.6 174.53 L193.6 174.52 L195.6 174.52 L197.6 174.51 L199.6 174.51 L201.6 174.5 L202.5 174.5" fill="none" stroke="#5a50b8" stroke-width="0.7" stroke-opacity="1" stroke-linejoin="round"/>
<path d="M102 238.78 L102.8 238.74 L103.6 238.7 L104.4 238.64 L105.2 238.58 L106 238.51 L106.8 238.43 L107.6 238.33 L108.4 238.21 L109.2 238.08 L110 237.92 L110.8 237.74 L111.6 237.52 L112.4 237.27 L113.2 236.98 L114 236.65 L114.8 236.26 L115.6 235.8 L116.4 235.28 L117.2 234.68 L118 233.98 L118.8 233.19 L119.6 232.29 L120.4 231.26 L121.2 230.1 L122 228.8 L122.8 227.35 L123.6 225.74 L124.4 223.97 L125.2 222.04 L126 219.97 L126.8 217.75 L127.6 215.42 L128.4 212.99 L129.2 210.49 L130 207.97 L130.8 205.45 L131.6 202.98 L132.4 200.61 L133.2 198.36 L134 196.27 L134.8 194.37 L135.6 192.65 L136.4 191.11 L137.2 189.75 L138 188.53 L138.8 187.43 L139.6 186.44 L140.4 185.53 L141.2 184.7 L142 183.92 L142.8 183.2 L143.6 182.53 L144.4 181.91 L145.2 181.32 L146 180.77 L146.8 180.26 L147.6 179.79 L148.4 179.34 L149.2 178.93 L150 178.54 L150.8 178.18 L151.6 177.85 L152.4 177.54 L153.2 177.25 L154 176.99 L154.8 176.74 L155.6 176.51 L156.4 176.3 L157.2 176.1 L158 175.92 L158.8 175.75 L159.6 175.6 L160.4 175.45 L161.2 175.32 L163.2 175.04 L165.2 174.8 L167.2 174.61 L169.2 174.45 L171.2 174.33 L173.2 174.22 L175.2 174.14 L177.2 174.07 L179.2 174.02 L181.2 173.97 L183.2 173.94 L185.2 173.91 L187.2 173.88 L189.2 173.86 L191.2 173.85 L193.2 173.83 L195.2 173.82 L197.2 173.82 L199.2 173.81 L201.2 173.8 L202.5 173.8" fill="none" stroke="#b0dca0" stroke-width="0.5" stroke-opacity="1" stroke-linejoin="round"/>
<path d="M104.8 238.77 L105.6 238.73 L106.4 238.68 L107.2 238.63 L108 238.56 L108.8 238.49 L109.6 238.4 L110.4 238.3 L111.2 238.18 L112 238.03 L112.8 237.87 L113.6 237.68 L114.4 237.45 L115.2 237.19 L116 236.89 L116.8 236.54 L117.6 236.13 L118.4 235.66 L119.2 235.11 L120 234.48 L120.8 233.76 L121.6 232.94 L122.4 232 L123.2 230.94 L124 229.74 L124.8 228.4 L125.6 226.91 L126.4 225.26 L127.2 223.46 L128 221.5 L128.8 219.4 L129.6 217.16 L130.4 214.82 L131.2 212.39 L132 209.91 L132.8 207.41 L133.6 204.94 L134.4 202.53 L135.2 200.22 L136 198.06 L136.8 196.06 L137.6 194.25 L138.4 192.62 L139.2 191.17 L140 189.88 L140.8 188.72 L141.6 187.68 L142.4 186.73 L143.2 185.87 L144 185.06 L144.8 184.32 L145.6 183.63 L146.4 182.98 L147.2 182.38 L148 181.82 L148.8 181.29 L149.6 180.8 L150.4 180.34 L151.2 179.91 L152 179.51 L152.8 179.14 L153.6 178.8 L154.4 178.48 L155.2 178.18 L156 177.9 L156.8 177.65 L157.6 177.41 L158.4 177.19 L159.2 176.99 L160 176.8 L160.8 176.62 L161.6 176.46 L162.4 176.32 L163.2 176.18 L165.2 175.88 L167.2 175.64 L169.2 175.44 L171.2 175.27 L173.2 175.14 L175.2 175.04 L177.2 174.95 L179.2 174.88 L181.2 174.82 L183.2 174.77 L185.2 174.74 L187.2 174.71 L189.2 174.68 L191.2 174.66 L193.2 174.64 L195.2 174.63 L197.2 174.62 L199.2 174.61 L201.2 174.6 L202.5 174.6" fill="none" stroke="#c0e0b0" stroke-width="0.5" stroke-opacity="1" stroke-linejoin="round"/>
<path d="M107.2 238.76 L108 238.72 L108.8 238.67 L109.6 238.62 L110.4 238.55 L111.2 238.48 L112 238.38 L112.8 238.28 L113.6 238.16 L114.4 238.01 L115.2 237.84 L116 237.65 L116.8 237.42 L117.6 237.15 L118.4 236.84 L119.2 236.48 L120 236.06 L120.8 235.58 L121.6 235.02 L122.4 234.37 L123.2 233.63 L124 232.79 L124.8 231.83 L125.6 230.74 L126.4 229.51 L127.2 228.12 L128 226.59 L128.8 224.89 L129.6 223.02 L130.4 221 L131.2 218.82 L132 216.51 L132.8 214.07 L133.6 211.55 L134.4 208.96 L135.2 206.36 L136 203.77 L136.8 201.25 L137.6 198.83 L138.4 196.55 L139.2 194.44 L140 192.53 L140.8 190.8 L141.6 189.27 L142.4 187.9 L143.2 186.67 L144 185.57 L144.8 184.57 L145.6 183.66 L146.4 182.81 L147.2 182.03 L148 181.3 L148.8 180.62 L149.6 179.99 L150.4 179.39 L151.2 178.84 L152 178.32 L152.8 177.84 L153.6 177.39 L154.4 176.97 L155.2 176.58 L156 176.22 L156.8 175.88 L157.6 175.56 L158.4 175.27 L159.2 175 L160 174.75 L160.8 174.52 L161.6 174.31 L162.4 174.11 L163.2 173.93 L164 173.76 L164.8 173.6 L165.6 173.46 L167.6 173.14 L169.6 172.88 L171.6 172.67 L173.6 172.5 L175.6 172.36 L177.6 172.25 L179.6 172.16 L181.6 172.08 L183.6 172.02 L185.6 171.98 L187.6 171.94 L189.6 171.9 L191.6 171.88 L193.6 171.86 L195.6 171.84 L197.6 171.82 L199.6 171.81 L201.6 171.8 L202.5 171.8" fill="none" stroke="#48a858" stroke-width="0.6" stroke-opacity="1" stroke-linejoin="round"/>
<path d="M109.2 238.76 L110 238.72 L110.8 238.67 L111.6 238.61 L112.4 238.54 L113.2 238.46 L114 238.37 L114.8 238.26 L115.6 238.14 L116.4 237.99 L117.2 237.82 L118 237.62 L118.8 237.38 L119.6 237.11 L120.4 236.79 L121.2 236.43 L122 236 L122.8 235.5 L123.6 234.93 L124.4 234.28 L125.2 233.52 L126 232.66 L126.8 231.68 L127.6 230.56 L128.4 229.31 L129.2 227.9 L130 226.33 L130.8 224.59 L131.6 222.69 L132.4 220.62 L133.2 218.4 L134 216.04 L134.8 213.55 L135.6 210.97 L136.4 208.33 L137.2 205.67 L138 203.03 L138.8 200.46 L139.6 197.99 L140.4 195.66 L141.2 193.51 L142 191.55 L142.8 189.79 L143.6 188.22 L144.4 186.83 L145.2 185.58 L146 184.45 L146.8 183.43 L147.6 182.5 L148.4 181.64 L149.2 180.84 L150 180.09 L150.8 179.4 L151.6 178.75 L152.4 178.14 L153.2 177.58 L154 177.05 L154.8 176.56 L155.6 176.1 L156.4 175.67 L157.2 175.27 L158 174.9 L158.8 174.56 L159.6 174.24 L160.4 173.94 L161.2 173.66 L162 173.41 L162.8 173.17 L163.6 172.95 L164.4 172.75 L165.2 172.56 L166 172.39 L166.8 172.23 L167.6 172.08 L169.6 171.76 L171.6 171.5 L173.6 171.28 L175.6 171.11 L177.6 170.97 L179.6 170.85 L181.6 170.76 L183.6 170.68 L185.6 170.62 L187.6 170.57 L189.6 170.53 L191.6 170.5 L193.6 170.47 L195.6 170.45 L197.6 170.43 L199.6 170.42 L201.6 170.4 L202.5 170.4" fill="none" stroke="#8a9438" stroke-width="0.6" stroke-opacity="1" stroke-linejoin="round"/>
<path d="M109.2 238.83 L111.2 238.75 L112 238.7 L112.8 238.65 L113.6 238.59 L114.4 238.52 L115.2 238.44 L116 238.34 L116.8 238.23 L117.6 238.09 L118.4 237.94 L119.2 237.76 L120 237.55 L120.8 237.3 L121.6 237.01 L122.4 236.68 L123.2 236.29 L124 235.84 L124.8 235.33 L125.6 234.73 L126.4 234.04 L127.2 233.25 L128 232.35 L128.8 231.32 L129.6 230.16 L130.4 228.85 L131.2 227.38 L132 225.75 L132.8 223.96 L133.6 221.99 L134.4 219.86 L135.2 217.57 L136 215.15 L136.8 212.61 L137.6 209.98 L138.4 207.3 L139.2 204.61 L140 201.95 L140.8 199.36 L141.6 196.9 L142.4 194.59 L143.2 192.46 L144 190.53 L144.8 188.8 L145.6 187.26 L146.4 185.88 L147.2 184.65 L148 183.54 L148.8 182.53 L149.6 181.61 L150.4 180.75 L151.2 179.96 L152 179.22 L152.8 178.53 L153.6 177.88 L154.4 177.28 L155.2 176.72 L156 176.19 L156.8 175.7 L157.6 175.24 L158.4 174.82 L159.2 174.42 L160 174.05 L160.8 173.71 L161.6 173.39 L162.4 173.1 L163.2 172.83 L164 172.57 L164.8 172.34 L165.6 172.12 L166.4 171.92 L167.2 171.73 L168 171.56 L168.8 171.4 L169.6 171.26 L171.6 170.94 L173.6 170.68 L175.6 170.47 L177.6 170.29 L179.6 170.15 L181.6 170.04 L183.6 169.94 L185.6 169.87 L187.6 169.81 L189.6 169.76 L191.6 169.72 L193.6 169.69 L195.6 169.66 L197.6 169.64 L199.6 169.62 L201.6 169.61 L202.5 169.6" fill="none" stroke="#966a38" stroke-width="0.6" stroke-opacity="1" stroke-linejoin="round"/>
<path d="M112.8 238.76 L113.6 238.72 L114.4 238.67 L115.2 238.61 L116 238.55 L116.8 238.47 L117.6 238.38 L118.4 238.27 L119.2 238.15 L120 238 L120.8 237.83 L121.6 237.64 L122.4 237.4 L123.2 237.14 L124 236.82 L124.8 236.46 L125.6 236.04 L126.4 235.55 L127.2 234.99 L128 234.34 L128.8 233.6 L129.6 232.75 L130.4 231.78 L131.2 230.69 L132 229.45 L132.8 228.07 L133.6 226.53 L134.4 224.83 L135.2 222.97 L136 220.95 L136.8 218.78 L137.6 216.47 L138.4 214.05 L139.2 211.55 L140 208.99 L140.8 206.41 L141.6 203.86 L142.4 201.38 L143.2 199 L144 196.77 L144.8 194.71 L145.6 192.84 L146.4 191.16 L147.2 189.66 L148 188.33 L148.8 187.13 L149.6 186.06 L150.4 185.08 L151.2 184.19 L152 183.36 L152.8 182.59 L153.6 181.88 L154.4 181.21 L155.2 180.59 L156 180.01 L156.8 179.47 L157.6 178.96 L158.4 178.49 L159.2 178.04 L160 177.63 L160.8 177.25 L161.6 176.89 L162.4 176.56 L163.2 176.26 L164 175.97 L164.8 175.71 L165.6 175.46 L166.4 175.24 L167.2 175.03 L168 174.83 L168.8 174.65 L169.6 174.49 L170.4 174.33 L171.2 174.19 L173.2 173.88 L175.2 173.63 L177.2 173.43 L179.2 173.26 L181.2 173.12 L183.2 173.01 L185.2 172.92 L187.2 172.85 L189.2 172.79 L191.2 172.74 L193.2 172.7 L195.2 172.67 L197.2 172.65 L199.2 172.63 L201.2 172.61 L202.5 172.6" fill="none" stroke="#70b058" stroke-width="0.55" stroke-opacity="1" stroke-linejoin="round"/>
<path d="M114 238.76 L114.8 238.72 L115.6 238.67 L116.4 238.61 L117.2 238.54 L118 238.46 L118.8 238.37 L119.6 238.26 L120.4 238.14 L121.2 237.99 L122 237.81 L122.8 237.61 L123.6 237.38 L124.4 237.1 L125.2 236.79 L126 236.42 L126.8 235.99 L127.6 235.49 L128.4 234.92 L129.2 234.26 L130 233.5 L130.8 232.64 L131.6 231.65 L132.4 230.53 L133.2 229.27 L134 227.86 L134.8 226.29 L135.6 224.54 L136.4 222.64 L137.2 220.56 L138 218.33 L138.8 215.96 L139.6 213.47 L140.4 210.88 L141.2 208.23 L142 205.56 L142.8 202.91 L143.6 200.33 L144.4 197.85 L145.2 195.51 L146 193.36 L146.8 191.39 L147.6 189.63 L148.4 188.05 L149.2 186.65 L150 185.4 L150.8 184.27 L151.6 183.25 L152.4 182.31 L153.2 181.44 L154 180.64 L154.8 179.9 L155.6 179.2 L156.4 178.55 L157.2 177.94 L158 177.37 L158.8 176.84 L159.6 176.35 L160.4 175.89 L161.2 175.46 L162 175.06 L162.8 174.69 L163.6 174.34 L164.4 174.02 L165.2 173.72 L166 173.44 L166.8 173.19 L167.6 172.95 L168.4 172.73 L169.2 172.53 L170 172.34 L170.8 172.17 L171.6 172.01 L172.4 171.86 L174.4 171.54 L176.4 171.27 L178.4 171.06 L180.4 170.88 L182.4 170.74 L184.4 170.62 L186.4 170.53 L188.4 170.45 L190.4 170.39 L192.4 170.34 L194.4 170.3 L196.4 170.27 L198.4 170.24 L200.4 170.22 L202.4 170.2 L202.5 170.2" fill="none" stroke="#a09050" stroke-width="0.55" stroke-opacity="1" stroke-linejoin="round"/>
<path d="M114.8 238.75 L115.6 238.71 L116.4 238.66 L117.2 238.6 L118 238.53 L118.8 238.45 L119.6 238.36 L120.4 238.25 L121.2 238.12 L122 237.97 L122.8 237.79 L123.6 237.58 L124.4 237.34 L125.2 237.07 L126 236.74 L126.8 236.36 L127.6 235.92 L128.4 235.42 L129.2 234.83 L130 234.16 L130.8 233.38 L131.6 232.5 L132.4 231.49 L133.2 230.34 L134 229.05 L134.8 227.6 L135.6 225.98 L136.4 224.19 L137.2 222.23 L138 220.09 L138.8 217.79 L139.6 215.33 L140.4 212.75 L141.2 210.07 L142 207.32 L142.8 204.54 L143.6 201.78 L144.4 199.08 L145.2 196.48 L146 194.03 L146.8 191.76 L147.6 189.69 L148.4 187.83 L149.2 186.17 L150 184.69 L150.8 183.37 L151.6 182.18 L152.4 181.1 L153.2 180.11 L154 179.2 L154.8 178.36 L155.6 177.58 L156.4 176.85 L157.2 176.16 L158 175.53 L158.8 174.93 L159.6 174.37 L160.4 173.85 L161.2 173.37 L162 172.92 L162.8 172.5 L163.6 172.11 L164.4 171.74 L165.2 171.41 L166 171.09 L166.8 170.8 L167.6 170.53 L168.4 170.28 L169.2 170.05 L170 169.84 L170.8 169.64 L171.6 169.46 L172.4 169.29 L173.2 169.14 L175.2 168.8 L177.2 168.52 L179.2 168.3 L181.2 168.11 L183.2 167.96 L185.2 167.84 L187.2 167.74 L189.2 167.66 L191.2 167.59 L193.2 167.54 L195.2 167.5 L197.2 167.46 L199.2 167.44 L201.2 167.41 L202.5 167.4" fill="none" stroke="#d09868" stroke-width="0.5" stroke-opacity="1" stroke-linejoin="round"/>
<path d="M116 238.77 L116.8 238.73 L117.6 238.68 L118.4 238.63 L119.2 238.56 L120 238.49 L120.8 238.4 L121.6 238.3 L122.4 238.17 L123.2 238.03 L124 237.87 L124.8 237.68 L125.6 237.45 L126.4 237.19 L127.2 236.89 L128 236.53 L128.8 236.12 L129.6 235.65 L130.4 235.1 L131.2 234.47 L132 233.74 L132.8 232.91 L133.6 231.97 L134.4 230.9 L135.2 229.69 L136 228.33 L136.8 226.81 L137.6 225.14 L138.4 223.3 L139.2 221.3 L140 219.15 L140.8 216.85 L141.6 214.44 L142.4 211.93 L143.2 209.35 L144 206.75 L144.8 204.17 L145.6 201.64 L146.4 199.21 L147.2 196.92 L148 194.79 L148.8 192.85 L149.6 191.11 L150.4 189.55 L151.2 188.17 L152 186.93 L152.8 185.82 L153.6 184.81 L154.4 183.89 L155.2 183.04 L156 182.25 L156.8 181.51 L157.6 180.83 L158.4 180.19 L159.2 179.59 L160 179.04 L160.8 178.52 L161.6 178.03 L162.4 177.58 L163.2 177.15 L164 176.76 L164.8 176.4 L165.6 176.06 L166.4 175.74 L167.2 175.45 L168 175.17 L168.8 174.92 L169.6 174.69 L170.4 174.47 L171.2 174.27 L172 174.09 L172.8 173.92 L173.6 173.76 L174.4 173.61 L176.4 173.3 L178.4 173.04 L180.4 172.83 L182.4 172.65 L184.4 172.51 L186.4 172.4 L188.4 172.31 L190.4 172.23 L192.4 172.17 L194.4 172.12 L196.4 172.08 L198.4 172.05 L200.4 172.02 L202.4 172 L202.5 172" fill="none" stroke="#40b050" stroke-width="0.6" stroke-opacity="1" stroke-linejoin="round"/>
<path d="M117.2 238.78 L118 238.75 L118.8 238.7 L119.6 238.65 L120.4 238.59 L121.2 238.52 L122 238.44 L122.8 238.34 L123.6 238.23 L124.4 238.1 L125.2 237.95 L126 237.77 L126.8 237.56 L127.6 237.31 L128.4 237.03 L129.2 236.7 L130 236.31 L130.8 235.87 L131.6 235.36 L132.4 234.76 L133.2 234.08 L134 233.3 L134.8 232.41 L135.6 231.39 L136.4 230.24 L137.2 228.95 L138 227.5 L138.8 225.9 L139.6 224.13 L140.4 222.19 L141.2 220.1 L142 217.85 L142.8 215.48 L143.6 212.99 L144.4 210.43 L145.2 207.81 L146 205.2 L146.8 202.61 L147.6 200.11 L148.4 197.73 L149.2 195.5 L150 193.45 L150.8 191.6 L151.6 189.93 L152.4 188.46 L153.2 187.14 L154 185.96 L154.8 184.89 L155.6 183.92 L156.4 183.02 L157.2 182.2 L158 181.43 L158.8 180.72 L159.6 180.05 L160.4 179.43 L161.2 178.85 L162 178.31 L162.8 177.8 L163.6 177.33 L164.4 176.89 L165.2 176.48 L166 176.09 L166.8 175.74 L167.6 175.41 L168.4 175.1 L169.2 174.82 L170 174.55 L170.8 174.31 L171.6 174.08 L172.4 173.87 L173.2 173.68 L174 173.5 L174.8 173.34 L175.6 173.18 L176.4 173.04 L178.4 172.73 L180.4 172.48 L182.4 172.28 L184.4 172.11 L186.4 171.98 L188.4 171.87 L190.4 171.78 L192.4 171.7 L194.4 171.65 L196.4 171.6 L198.4 171.56 L200.4 171.53 L202.4 171.5 L202.5 171.5" fill="none" stroke="#38b868" stroke-width="0.6" stroke-opacity="1" stroke-linejoin="round"/>
<path d="M118.8 238.76 L119.6 238.72 L120.4 238.67 L121.2 238.61 L122 238.54 L122.8 238.46 L123.6 238.37 L124.4 238.26 L125.2 238.14 L126 237.99 L126.8 237.82 L127.6 237.62 L128.4 237.38 L129.2 237.11 L130 236.79 L130.8 236.42 L131.6 236 L132.4 235.51 L133.2 234.94 L134 234.28 L134.8 233.54 L135.6 232.68 L136.4 231.71 L137.2 230.61 L138 229.37 L138.8 227.98 L139.6 226.44 L140.4 224.74 L141.2 222.89 L142 220.88 L142.8 218.73 L143.6 216.45 L144.4 214.07 L145.2 211.61 L146 209.1 L146.8 206.59 L147.6 204.12 L148.4 201.72 L149.2 199.43 L150 197.3 L150.8 195.33 L151.6 193.56 L152.4 191.96 L153.2 190.55 L154 189.28 L154.8 188.15 L155.6 187.13 L156.4 186.19 L157.2 185.34 L158 184.55 L158.8 183.81 L159.6 183.13 L160.4 182.49 L161.2 181.89 L162 181.34 L162.8 180.82 L163.6 180.33 L164.4 179.88 L165.2 179.45 L166 179.06 L166.8 178.69 L167.6 178.35 L168.4 178.04 L169.2 177.74 L170 177.47 L170.8 177.22 L171.6 176.98 L172.4 176.77 L173.2 176.57 L174 176.38 L174.8 176.21 L175.6 176.05 L176.4 175.9 L177.2 175.77 L179.2 175.47 L181.2 175.23 L183.2 175.04 L185.2 174.88 L187.2 174.75 L189.2 174.64 L191.2 174.56 L193.2 174.49 L195.2 174.43 L197.2 174.38 L199.2 174.35 L201.2 174.32 L202.5 174.3" fill="none" stroke="#a8d8b0" stroke-width="0.5" stroke-opacity="1" stroke-linejoin="round"/>
<path d="M120 238.76 L120.8 238.72 L121.6 238.67 L122.4 238.62 L123.2 238.55 L124 238.47 L124.8 238.38 L125.6 238.28 L126.4 238.15 L127.2 238.01 L128 237.84 L128.8 237.64 L129.6 237.41 L130.4 237.14 L131.2 236.83 L132 236.47 L132.8 236.05 L133.6 235.57 L134.4 235.01 L135.2 234.37 L136 233.64 L136.8 232.8 L137.6 231.84 L138.4 230.76 L139.2 229.54 L140 228.18 L140.8 226.67 L141.6 225 L142.4 223.18 L143.2 221.21 L144 219.1 L144.8 216.86 L145.6 214.52 L146.4 212.11 L147.2 209.65 L148 207.19 L148.8 204.76 L149.6 202.4 L150.4 200.16 L151.2 198.06 L152 196.13 L152.8 194.39 L153.6 192.82 L154.4 191.43 L155.2 190.19 L156 189.08 L156.8 188.08 L157.6 187.16 L158.4 186.32 L159.2 185.55 L160 184.82 L160.8 184.15 L161.6 183.53 L162.4 182.94 L163.2 182.39 L164 181.88 L164.8 181.41 L165.6 180.96 L166.4 180.55 L167.2 180.16 L168 179.8 L168.8 179.46 L169.6 179.15 L170.4 178.87 L171.2 178.6 L172 178.35 L172.8 178.12 L173.6 177.91 L174.4 177.71 L175.2 177.53 L176 177.36 L176.8 177.2 L177.6 177.06 L178.4 176.93 L180.4 176.64 L182.4 176.4 L184.4 176.21 L186.4 176.05 L188.4 175.92 L190.4 175.82 L192.4 175.74 L194.4 175.67 L196.4 175.61 L198.4 175.57 L200.4 175.53 L202.4 175.5 L202.5 175.5" fill="none" stroke="#e0a8d0" stroke-width="0.5" stroke-opacity="1" stroke-linejoin="round"/>
<path d="M121.2 238.77 L122 238.73 L122.8 238.68 L123.6 238.63 L124.4 238.57 L125.2 238.49 L126 238.4 L126.8 238.3 L127.6 238.18 L128.4 238.04 L129.2 237.88 L130 237.69 L130.8 237.47 L131.6 237.21 L132.4 236.91 L133.2 236.56 L134 236.15 L134.8 235.69 L135.6 235.15 L136.4 234.53 L137.2 233.81 L138 233 L138.8 232.07 L139.6 231.03 L140.4 229.85 L141.2 228.52 L142 227.05 L142.8 225.43 L143.6 223.66 L144.4 221.74 L145.2 219.67 L146 217.49 L146.8 215.19 L147.6 212.82 L148.4 210.41 L149.2 207.98 L150 205.58 L150.8 203.25 L151.6 201.03 L152.4 198.94 L153.2 197.02 L154 195.28 L154.8 193.72 L155.6 192.33 L156.4 191.09 L157.2 189.98 L158 188.98 L158.8 188.07 L159.6 187.24 L160.4 186.46 L161.2 185.75 L162 185.08 L162.8 184.46 L163.6 183.88 L164.4 183.33 L165.2 182.83 L166 182.35 L166.8 181.91 L167.6 181.5 L168.4 181.11 L169.2 180.76 L170 180.42 L170.8 180.12 L171.6 179.83 L172.4 179.56 L173.2 179.32 L174 179.09 L174.8 178.88 L175.6 178.68 L176.4 178.5 L177.2 178.33 L178 178.18 L178.8 178.03 L179.6 177.9 L181.6 177.61 L183.6 177.38 L185.6 177.19 L187.6 177.03 L189.6 176.91 L191.6 176.8 L193.6 176.72 L195.6 176.65 L197.6 176.6 L199.6 176.55 L201.6 176.51 L202.5 176.5" fill="none" stroke="#c860b0" stroke-width="0.55" stroke-opacity="1" stroke-linejoin="round"/>
<path d="M124 238.75 L124.8 238.71 L125.6 238.66 L126.4 238.6 L127.2 238.53 L128 238.45 L128.8 238.36 L129.6 238.25 L130.4 238.12 L131.2 237.97 L132 237.8 L132.8 237.59 L133.6 237.35 L134.4 237.08 L135.2 236.76 L136 236.38 L136.8 235.95 L137.6 235.45 L138.4 234.88 L139.2 234.22 L140 233.46 L140.8 232.6 L141.6 231.62 L142.4 230.52 L143.2 229.27 L144 227.89 L144.8 226.36 L145.6 224.67 L146.4 222.84 L147.2 220.86 L148 218.74 L148.8 216.52 L149.6 214.2 L150.4 211.82 L151.2 209.41 L152 207.01 L152.8 204.66 L153.6 202.4 L154.4 200.25 L155.2 198.26 L156 196.45 L156.8 194.81 L157.6 193.34 L158.4 192.04 L159.2 190.88 L160 189.83 L160.8 188.89 L161.6 188.02 L162.4 187.23 L163.2 186.49 L164 185.8 L164.8 185.16 L165.6 184.57 L166.4 184.01 L167.2 183.49 L168 183 L168.8 182.55 L169.6 182.12 L170.4 181.73 L171.2 181.36 L172 181.02 L172.8 180.7 L173.6 180.4 L174.4 180.13 L175.2 179.88 L176 179.64 L176.8 179.42 L177.6 179.22 L178.4 179.03 L179.2 178.86 L180 178.7 L180.8 178.55 L181.6 178.42 L182.4 178.29 L184.4 178.02 L186.4 177.79 L188.4 177.61 L190.4 177.46 L192.4 177.34 L194.4 177.24 L196.4 177.16 L198.4 177.1 L200.4 177.04 L202.4 177 L202.5 177" fill="none" stroke="#e090c8" stroke-width="0.5" stroke-opacity="1" stroke-linejoin="round"/>
<path d="M124.8 238.76 L125.6 238.72 L126.4 238.67 L127.2 238.62 L128 238.55 L128.8 238.47 L129.6 238.38 L130.4 238.28 L131.2 238.15 L132 238.01 L132.8 237.84 L133.6 237.64 L134.4 237.41 L135.2 237.14 L136 236.83 L136.8 236.47 L137.6 236.05 L138.4 235.56 L139.2 235 L140 234.36 L140.8 233.62 L141.6 232.77 L142.4 231.81 L143.2 230.72 L144 229.49 L144.8 228.11 L145.6 226.57 L146.4 224.88 L147.2 223.02 L148 221.01 L148.8 218.85 L149.6 216.55 L150.4 214.14 L151.2 211.65 L152 209.1 L152.8 206.53 L153.6 203.99 L154.4 201.51 L155.2 199.14 L156 196.92 L156.8 194.87 L157.6 193 L158.4 191.33 L159.2 189.84 L160 188.51 L160.8 187.32 L161.6 186.25 L162.4 185.28 L163.2 184.39 L164 183.56 L164.8 182.8 L165.6 182.09 L166.4 181.42 L167.2 180.8 L168 180.22 L168.8 179.68 L169.6 179.18 L170.4 178.71 L171.2 178.27 L172 177.86 L172.8 177.48 L173.6 177.12 L174.4 176.79 L175.2 176.49 L176 176.2 L176.8 175.94 L177.6 175.69 L178.4 175.47 L179.2 175.26 L180 175.07 L180.8 174.89 L181.6 174.72 L182.4 174.57 L183.2 174.43 L185.2 174.12 L187.2 173.87 L189.2 173.67 L191.2 173.5 L193.2 173.36 L195.2 173.25 L197.2 173.16 L199.2 173.09 L201.2 173.03 L202.5 173" fill="none" stroke="#60c0a0" stroke-width="0.5" stroke-opacity="1" stroke-linejoin="round"/>
<path d="M126 238.76 L126.8 238.72 L127.6 238.68 L128.4 238.62 L129.2 238.55 L130 238.48 L130.8 238.39 L131.6 238.28 L132.4 238.16 L133.2 238.02 L134 237.85 L134.8 237.65 L135.6 237.43 L136.4 237.16 L137.2 236.85 L138 236.5 L138.8 236.08 L139.6 235.6 L140.4 235.05 L141.2 234.41 L142 233.68 L142.8 232.85 L143.6 231.9 L144.4 230.82 L145.2 229.61 L146 228.26 L146.8 226.75 L147.6 225.09 L148.4 223.27 L149.2 221.3 L150 219.18 L150.8 216.94 L151.6 214.59 L152.4 212.16 L153.2 209.68 L154 207.19 L154.8 204.73 L155.6 202.34 L156.4 200.06 L157.2 197.92 L158 195.95 L158.8 194.17 L159.6 192.57 L160.4 191.14 L161.2 189.87 L162 188.73 L162.8 187.71 L163.6 186.77 L164.4 185.92 L165.2 185.12 L166 184.39 L166.8 183.71 L167.6 183.07 L168.4 182.47 L169.2 181.91 L170 181.39 L170.8 180.91 L171.6 180.45 L172.4 180.03 L173.2 179.64 L174 179.27 L174.8 178.93 L175.6 178.61 L176.4 178.32 L177.2 178.05 L178 177.79 L178.8 177.56 L179.6 177.34 L180.4 177.14 L181.2 176.96 L182 176.78 L182.8 176.62 L183.6 176.48 L184.4 176.34 L186.4 176.05 L188.4 175.81 L190.4 175.61 L192.4 175.45 L194.4 175.32 L196.4 175.22 L198.4 175.13 L200.4 175.06 L202.4 175 L202.5 175" fill="none" stroke="#90d0c0" stroke-width="0.5" stroke-opacity="1" stroke-linejoin="round"/>
<path d="M128.8 238.76 L129.6 238.72 L130.4 238.67 L131.2 238.61 L132 238.55 L132.8 238.47 L133.6 238.38 L134.4 238.27 L135.2 238.15 L136 238 L136.8 237.83 L137.6 237.63 L138.4 237.4 L139.2 237.14 L140 236.82 L140.8 236.46 L141.6 236.04 L142.4 235.56 L143.2 235 L144 234.36 L144.8 233.62 L145.6 232.78 L146.4 231.83 L147.2 230.75 L148 229.54 L148.8 228.19 L149.6 226.69 L150.4 225.04 L151.2 223.25 L152 221.31 L152.8 219.23 L153.6 217.05 L154.4 214.76 L155.2 212.42 L156 210.04 L156.8 207.66 L157.6 205.32 L158.4 203.07 L159.2 200.94 L160 198.95 L160.8 197.13 L161.6 195.48 L162.4 194.02 L163.2 192.71 L164 191.54 L164.8 190.5 L165.6 189.55 L166.4 188.69 L167.2 187.89 L168 187.15 L168.8 186.47 L169.6 185.83 L170.4 185.23 L171.2 184.68 L172 184.16 L172.8 183.67 L173.6 183.22 L174.4 182.8 L175.2 182.4 L176 182.04 L176.8 181.69 L177.6 181.38 L178.4 181.08 L179.2 180.81 L180 180.55 L180.8 180.32 L181.6 180.1 L182.4 179.9 L183.2 179.71 L184 179.54 L184.8 179.38 L185.6 179.23 L186.4 179.1 L187.2 178.97 L189.2 178.7 L191.2 178.47 L193.2 178.29 L195.2 178.14 L197.2 178.02 L199.2 177.92 L201.2 177.84 L202.5 177.8" fill="none" stroke="#98c0e0" stroke-width="0.5" stroke-opacity="1" stroke-linejoin="round"/>
<path d="M130 238.77 L130.8 238.73 L131.6 238.68 L132.4 238.62 L133.2 238.56 L134 238.48 L134.8 238.39 L135.6 238.29 L136.4 238.17 L137.2 238.02 L138 237.86 L138.8 237.66 L139.6 237.44 L140.4 237.18 L141.2 236.87 L142 236.51 L142.8 236.1 L143.6 235.63 L144.4 235.08 L145.2 234.45 L146 233.73 L146.8 232.9 L147.6 231.96 L148.4 230.9 L149.2 229.7 L150 228.36 L150.8 226.88 L151.6 225.24 L152.4 223.45 L153.2 221.51 L154 219.43 L154.8 217.24 L155.6 214.94 L156.4 212.56 L157.2 210.15 L158 207.72 L158.8 205.33 L159.6 203.02 L160.4 200.81 L161.2 198.75 L162 196.86 L162.8 195.14 L163.6 193.6 L164.4 192.23 L165.2 191.02 L166 189.92 L166.8 188.94 L167.6 188.04 L168.4 187.21 L169.2 186.45 L170 185.74 L170.8 185.08 L171.6 184.46 L172.4 183.89 L173.2 183.35 L174 182.85 L174.8 182.38 L175.6 181.94 L176.4 181.53 L177.2 181.15 L178 180.8 L178.8 180.47 L179.6 180.16 L180.4 179.88 L181.2 179.62 L182 179.37 L182.8 179.15 L183.6 178.94 L184.4 178.74 L185.2 178.56 L186 178.4 L186.8 178.25 L187.6 178.1 L188.4 177.97 L190.4 177.69 L192.4 177.46 L194.4 177.27 L196.4 177.11 L198.4 176.99 L200.4 176.89 L202.4 176.8 L202.5 176.8" fill="none" stroke="#7868c0" stroke-width="0.55" stroke-opacity="1" stroke-linejoin="round"/>
<path d="M132 238.76 L132.8 238.72 L133.6 238.67 L134.4 238.62 L135.2 238.55 L136 238.47 L136.8 238.38 L137.6 238.28 L138.4 238.16 L139.2 238.01 L140 237.84 L140.8 237.65 L141.6 237.42 L142.4 237.15 L143.2 236.84 L144 236.49 L144.8 236.07 L145.6 235.59 L146.4 235.04 L147.2 234.4 L148 233.67 L148.8 232.84 L149.6 231.9 L150.4 230.83 L151.2 229.63 L152 228.29 L152.8 226.81 L153.6 225.18 L154.4 223.4 L155.2 221.48 L156 219.42 L156.8 217.25 L157.6 214.99 L158.4 212.67 L159.2 210.31 L160 207.96 L160.8 205.64 L161.6 203.41 L162.4 201.3 L163.2 199.33 L164 197.53 L164.8 195.9 L165.6 194.44 L166.4 193.15 L167.2 191.99 L168 190.96 L168.8 190.02 L169.6 189.16 L170.4 188.38 L171.2 187.65 L172 186.97 L172.8 186.34 L173.6 185.75 L174.4 185.2 L175.2 184.68 L176 184.2 L176.8 183.75 L177.6 183.33 L178.4 182.94 L179.2 182.58 L180 182.24 L180.8 181.92 L181.6 181.63 L182.4 181.36 L183.2 181.11 L184 180.88 L184.8 180.66 L185.6 180.46 L186.4 180.28 L187.2 180.11 L188 179.95 L188.8 179.8 L189.6 179.67 L190.4 179.54 L192.4 179.27 L194.4 179.05 L196.4 178.87 L198.4 178.72 L200.4 178.6 L202.4 178.5 L202.5 178.5" fill="none" stroke="#c0c8ec" stroke-width="0.5" stroke-opacity="1" stroke-linejoin="round"/>
<path d="M134 238.78 L134.8 238.74 L135.6 238.7 L136.4 238.65 L137.2 238.59 L138 238.52 L138.8 238.44 L139.6 238.34 L140.4 238.22 L141.2 238.09 L142 237.94 L142.8 237.76 L143.6 237.55 L144.4 237.3 L145.2 237.02 L146 236.68 L146.8 236.3 L147.6 235.86 L148.4 235.34 L149.2 234.75 L150 234.07 L150.8 233.3 L151.6 232.41 L152.4 231.41 L153.2 230.28 L154 229.01 L154.8 227.6 L155.6 226.04 L156.4 224.33 L157.2 222.47 L158 220.47 L158.8 218.34 L159.6 216.11 L160.4 213.79 L161.2 211.42 L162 209.02 L162.8 206.65 L163.6 204.33 L164.4 202.11 L165.2 200.02 L166 198.08 L166.8 196.32 L167.6 194.74 L168.4 193.33 L169.2 192.07 L170 190.95 L170.8 189.94 L171.6 189.02 L172.4 188.18 L173.2 187.4 L174 186.68 L174.8 186.01 L175.6 185.39 L176.4 184.81 L177.2 184.26 L178 183.75 L178.8 183.28 L179.6 182.83 L180.4 182.42 L181.2 182.03 L182 181.68 L182.8 181.34 L183.6 181.03 L184.4 180.74 L185.2 180.48 L186 180.23 L186.8 180 L187.6 179.79 L188.4 179.59 L189.2 179.41 L190 179.24 L190.8 179.08 L191.6 178.94 L192.4 178.81 L194.4 178.52 L196.4 178.28 L198.4 178.09 L200.4 177.93 L202.4 177.81 L202.5 177.8" fill="none" stroke="#7858c0" stroke-width="0.55" stroke-opacity="1" stroke-linejoin="round"/>
<path d="M136.8 238.77 L137.6 238.73 L138.4 238.68 L139.2 238.63 L140 238.56 L140.8 238.49 L141.6 238.4 L142.4 238.3 L143.2 238.18 L144 238.03 L144.8 237.87 L145.6 237.68 L146.4 237.46 L147.2 237.2 L148 236.89 L148.8 236.54 L149.6 236.14 L150.4 235.67 L151.2 235.12 L152 234.5 L152.8 233.79 L153.6 232.97 L154.4 232.05 L155.2 231 L156 229.82 L156.8 228.51 L157.6 227.05 L158.4 225.44 L159.2 223.68 L160 221.79 L160.8 219.76 L161.6 217.61 L162.4 215.37 L163.2 213.06 L164 210.71 L164.8 208.36 L165.6 206.05 L166.4 203.82 L167.2 201.69 L168 199.71 L168.8 197.89 L169.6 196.25 L170.4 194.78 L171.2 193.47 L172 192.31 L172.8 191.26 L173.6 190.31 L174.4 189.45 L175.2 188.66 L176 187.92 L176.8 187.24 L177.6 186.61 L178.4 186.02 L179.2 185.46 L180 184.94 L180.8 184.46 L181.6 184.01 L182.4 183.59 L183.2 183.2 L184 182.83 L184.8 182.49 L185.6 182.17 L186.4 181.88 L187.2 181.61 L188 181.36 L188.8 181.12 L189.6 180.9 L190.4 180.7 L191.2 180.52 L192 180.34 L192.8 180.19 L193.6 180.04 L194.4 179.9 L195.2 179.78 L197.2 179.5 L199.2 179.28 L201.2 179.1 L202.5 179" fill="none" stroke="#4858b8" stroke-width="0.6" stroke-opacity="1" stroke-linejoin="round"/>
<path d="M140 238.77 L140.8 238.73 L141.6 238.69 L142.4 238.64 L143.2 238.57 L144 238.5 L144.8 238.41 L145.6 238.31 L146.4 238.19 L147.2 238.06 L148 237.9 L148.8 237.71 L149.6 237.49 L150.4 237.24 L151.2 236.94 L152 236.6 L152.8 236.2 L153.6 235.74 L154.4 235.21 L155.2 234.6 L156 233.9 L156.8 233.1 L157.6 232.2 L158.4 231.17 L159.2 230.01 L160 228.72 L160.8 227.28 L161.6 225.7 L162.4 223.97 L163.2 222.09 L164 220.09 L164.8 217.96 L165.6 215.74 L166.4 213.44 L167.2 211.11 L168 208.77 L168.8 206.46 L169.6 204.22 L170.4 202.09 L171.2 200.09 L172 198.26 L172.8 196.6 L173.6 195.12 L174.4 193.79 L175.2 192.62 L176 191.56 L176.8 190.61 L177.6 189.74 L178.4 188.94 L179.2 188.2 L180 187.51 L180.8 186.88 L181.6 186.28 L182.4 185.72 L183.2 185.2 L184 184.72 L184.8 184.27 L185.6 183.84 L186.4 183.45 L187.2 183.08 L188 182.74 L188.8 182.42 L189.6 182.13 L190.4 181.85 L191.2 181.6 L192 181.36 L192.8 181.14 L193.6 180.94 L194.4 180.75 L195.2 180.58 L196 180.42 L196.8 180.27 L197.6 180.13 L198.4 180.01 L200.4 179.73 L202.4 179.51 L202.5 179.5" fill="none" stroke="#b0d4f0" stroke-width="0.5" stroke-opacity="1" stroke-linejoin="round"/>
<path d="M144 238.77 L144.8 238.73 L145.6 238.69 L146.4 238.64 L147.2 238.57 L148 238.5 L148.8 238.41 L149.6 238.31 L150.4 238.19 L151.2 238.06 L152 237.9 L152.8 237.71 L153.6 237.49 L154.4 237.24 L155.2 236.94 L156 236.6 L156.8 236.2 L157.6 235.74 L158.4 235.21 L159.2 234.6 L160 233.9 L160.8 233.1 L161.6 232.2 L162.4 231.17 L163.2 230.01 L164 228.72 L164.8 227.28 L165.6 225.7 L166.4 223.97 L167.2 222.1 L168 220.09 L168.8 217.96 L169.6 215.74 L170.4 213.45 L171.2 211.11 L172 208.77 L172.8 206.46 L173.6 204.22 L174.4 202.09 L175.2 200.1 L176 198.27 L176.8 196.61 L177.6 195.12 L178.4 193.8 L179.2 192.62 L180 191.56 L180.8 190.61 L181.6 189.74 L182.4 188.94 L183.2 188.21 L184 187.52 L184.8 186.88 L185.6 186.29 L186.4 185.73 L187.2 185.21 L188 184.72 L188.8 184.27 L189.6 183.85 L190.4 183.45 L191.2 183.09 L192 182.74 L192.8 182.43 L193.6 182.13 L194.4 181.86 L195.2 181.6 L196 181.37 L196.8 181.15 L197.6 180.95 L198.4 180.76 L199.2 180.59 L200 180.43 L200.8 180.28 L201.6 180.14 L202.4 180.02 L202.5 180" fill="none" stroke="#68acd8" stroke-width="0.55" stroke-opacity="1" stroke-linejoin="round"/>
<path d="M148 238.78 L148.8 238.74 L149.6 238.69 L150.4 238.64 L151.2 238.58 L152 238.51 L152.8 238.42 L153.6 238.32 L154.4 238.21 L155.2 238.07 L156 237.91 L156.8 237.73 L157.6 237.51 L158.4 237.26 L159.2 236.97 L160 236.63 L160.8 236.24 L161.6 235.78 L162.4 235.26 L163.2 234.66 L164 233.97 L164.8 233.18 L165.6 232.29 L166.4 231.27 L167.2 230.13 L168 228.85 L168.8 227.44 L169.6 225.87 L170.4 224.17 L171.2 222.32 L172 220.34 L172.8 218.24 L173.6 216.05 L174.4 213.78 L175.2 211.48 L176 209.17 L176.8 206.89 L177.6 204.68 L178.4 202.57 L179.2 200.61 L180 198.8 L180.8 197.16 L181.6 195.7 L182.4 194.39 L183.2 193.23 L184 192.19 L184.8 191.24 L185.6 190.39 L186.4 189.6 L187.2 188.87 L188 188.19 L188.8 187.56 L189.6 186.98 L190.4 186.43 L191.2 185.91 L192 185.44 L192.8 184.99 L193.6 184.57 L194.4 184.18 L195.2 183.82 L196 183.48 L196.8 183.17 L197.6 182.88 L198.4 182.61 L199.2 182.35 L200 182.12 L200.8 181.91 L201.6 181.71 L202.4 181.52 L202.5 181.5" fill="none" stroke="#b8b8e8" stroke-width="0.5" stroke-opacity="1" stroke-linejoin="round"/>
<path d="M150.8 238.78 L151.6 238.75 L152.4 238.7 L153.2 238.65 L154 238.59 L154.8 238.52 L155.6 238.44 L156.4 238.34 L157.2 238.23 L158 238.1 L158.8 237.94 L159.6 237.76 L160.4 237.56 L161.2 237.31 L162 237.03 L162.8 236.7 L163.6 236.32 L164.4 235.88 L165.2 235.37 L166 234.78 L166.8 234.11 L167.6 233.34 L168.4 232.47 L169.2 231.48 L170 230.36 L170.8 229.11 L171.6 227.71 L172.4 226.17 L173.2 224.49 L174 222.66 L174.8 220.69 L175.6 218.61 L176.4 216.42 L177.2 214.15 L178 211.83 L178.8 209.5 L179.6 207.19 L180.4 204.94 L181.2 202.79 L182 200.77 L182.8 198.91 L183.6 197.22 L184.4 195.7 L185.2 194.34 L186 193.13 L186.8 192.05 L187.6 191.08 L188.4 190.2 L189.2 189.39 L190 188.64 L190.8 187.94 L191.6 187.3 L192.4 186.69 L193.2 186.13 L194 185.61 L194.8 185.11 L195.6 184.65 L196.4 184.23 L197.2 183.83 L198 183.46 L198.8 183.11 L199.6 182.79 L200.4 182.49 L201.2 182.21 L202 181.95 L202.5 181.8" fill="none" stroke="#4848a8" stroke-width="0.65" stroke-opacity="1" stroke-linejoin="round"/>
<path d="M138 238.77 L138.8 238.73 L139.6 238.68 L140.4 238.63 L141.2 238.56 L142 238.49 L142.8 238.4 L143.6 238.3 L144.4 238.18 L145.2 238.04 L146 237.88 L146.8 237.68 L147.6 237.46 L148.4 237.2 L149.2 236.9 L150 236.55 L150.8 236.15 L151.6 235.68 L152.4 235.14 L153.2 234.52 L154 233.81 L154.8 232.99 L155.6 232.07 L156.4 231.02 L157.2 229.84 L158 228.53 L158.8 227.06 L159.6 225.45 L160.4 223.69 L161.2 221.78 L162 219.73 L162.8 217.57 L163.6 215.3 L164.4 212.96 L165.2 210.59 L166 208.2 L166.8 205.85 L167.6 203.57 L168.4 201.4 L169.2 199.36 L170 197.5 L170.8 195.81 L171.6 194.29 L172.4 192.95 L173.2 191.75 L174 190.67 L174.8 189.7 L175.6 188.81 L176.4 188 L177.2 187.25 L178 186.55 L178.8 185.9 L179.6 185.29 L180.4 184.73 L181.2 184.2 L182 183.7 L182.8 183.24 L183.6 182.81 L184.4 182.41 L185.2 182.03 L186 181.68 L186.8 181.36 L187.6 181.06 L188.4 180.78 L189.2 180.52 L190 180.28 L190.8 180.06 L191.6 179.85 L192.4 179.66 L193.2 179.48 L194 179.32 L194.8 179.17 L195.6 179.03 L196.4 178.9 L198.4 178.62 L200.4 178.39 L202.4 178.21 L202.5 178.2" fill="none" stroke="#a0a0d8" stroke-width="0.5" stroke-opacity="1" stroke-linejoin="round"/>
<rect x="4.3" y="257.2" width="209.2" height="16" fill="#fff" stroke="#b4bcc8" stroke-width="0.85"/>
<text x="6" y="257.6" font-size="1.6" fill="#8a9ab0" text-anchor="start" font-weight="normal" font-family='"Liberation Sans", sans-serif' stroke="#8a9ab0" stroke-width="0.24" stroke-opacity="0.55">Legend</text>
<rect x="5.1" y="260.9" width="3.6" height="3" fill="#b82830" stroke="none" stroke-width="0.5"/>
<text x="10.5" y="264" font-size="3.5" fill="#444" text-anchor="start" font-weight="normal" font-family='"Liberation Sans", sans-serif' stroke="#444" stroke-width="0.24" stroke-opacity="0.55" textLength="2.1" lengthAdjust="spacingAndGlyphs">A</text>
<rect x="15.38" y="260.9" width="3.6" height="3" fill="#c8c428" stroke="none" stroke-width="0.5"/>
<text x="20.78" y="264" font-size="3.5" fill="#444" text-anchor="start" font-weight="normal" font-family='"Liberation Sans", sans-serif' stroke="#444" stroke-width="0.24" stroke-opacity="0.55" textLength="2.1" lengthAdjust="spacingAndGlyphs">B</text>
<rect x="25.66" y="260.9" width="3.6" height="3" fill="#78c828" stroke="none" stroke-width="0.5"/>
<text x="31.06" y="264" font-size="3.5" fill="#444" text-anchor="start" font-weight="normal" font-family='"Liberation Sans", sans-serif' stroke="#444" stroke-width="0.24" stroke-opacity="0.55" textLength="2.1" lengthAdjust="spacingAndGlyphs">C</text>
<rect x="35.94" y="260.9" width="3.6" height="3" fill="#28b868" stroke="none" stroke-width="0.5"/>
<text x="41.34" y="264" font-size="3.5" fill="#444" text-anchor="start" font-weight="normal" font-family='"Liberation Sans", sans-serif' stroke="#444" stroke-width="0.24" stroke-opacity="0.55" textLength="2.1" lengthAdjust="spacingAndGlyphs">D</text>
<rect x="46.22" y="260.9" width="3.6" height="3" fill="#40b0e0" stroke="none" stroke-width="0.5"/>
<text x="51.62" y="264" font-size="3.5" fill="#444" text-anchor="start" font-weight="normal" font-family='"Liberation Sans", sans-serif' stroke="#444" stroke-width="0.24" stroke-opacity="0.55" textLength="2.1" lengthAdjust="spacingAndGlyphs">E</text>
<rect x="56.5" y="260.9" width="3.6" height="3" fill="#1a28b0" stroke="none" stroke-width="0.5"/>
<text x="61.9" y="264" font-size="3.5" fill="#444" text-anchor="start" font-weight="normal" font-family='"Liberation Sans", sans-serif' stroke="#444" stroke-width="0.24" stroke-opacity="0.55" textLength="2.1" lengthAdjust="spacingAndGlyphs">F</text>
<rect x="66.78" y="260.9" width="3.6" height="3" fill="#8a20c0" stroke="none" stroke-width="0.5"/>
<text x="72.18" y="264" font-size="3.5" fill="#444" text-anchor="start" font-weight="normal" font-family='"Liberation Sans", sans-serif' stroke="#444" stroke-width="0.24" stroke-opacity="0.55" textLength="2.1" lengthAdjust="spacingAndGlyphs">G</text>
<rect x="77.06" y="260.9" width="3.6" height="3" fill="#c82090" stroke="none" stroke-width="0.5"/>
<text x="82.46" y="264" font-size="3.5" fill="#444" text-anchor="start" font-weight="normal" font-family='"Liberation Sans", sans-serif' stroke="#444" stroke-width="0.24" stroke-opacity="0.55" textLength="2.1" lengthAdjust="spacingAndGlyphs">H</text>
<text x="243.1" y="6.8" font-size="6.7" fill="#111" text-anchor="start" font-weight="bold" font-family='"Liberation Sans", sans-serif' stroke="#111" stroke-width="0.28" stroke-opacity="0.55">C</text>
<text x="305.1" y="23.4" font-size="6.6" fill="#111" text-anchor="start" font-weight="bold" font-family='"Liberation Sans", sans-serif' stroke="#111" stroke-width="0.35" stroke-opacity="0.55" textLength="30.4" lengthAdjust="spacingAndGlyphs">Melt Curve</text>
<line x1="267.91" y1="28.2" x2="267.91" y2="232.6" stroke="#d9d9d9" stroke-width="0.5"/>
<line x1="271.63" y1="28.2" x2="271.63" y2="232.6" stroke="#d9d9d9" stroke-width="0.5"/>
<line x1="275.34" y1="28.2" x2="275.34" y2="232.6" stroke="#d9d9d9" stroke-width="0.5"/>
<line x1="279.06" y1="28.2" x2="279.06" y2="232.6" stroke="#d9d9d9" stroke-width="0.5"/>
<line x1="282.77" y1="28.2" x2="282.77" y2="232.6" stroke="#d9d9d9" stroke-width="0.5"/>
<line x1="286.49" y1="28.2" x2="286.49" y2="232.6" stroke="#d9d9d9" stroke-width="0.5"/>
<line x1="290.2" y1="28.2" x2="290.2" y2="232.6" stroke="#d9d9d9" stroke-width="0.5"/>
<line x1="293.92" y1="28.2" x2="293.92" y2="232.6" stroke="#d9d9d9" stroke-width="0.5"/>
<line x1="297.63" y1="28.2" x2="297.63" y2="232.6" stroke="#d9d9d9" stroke-width="0.5"/>
<line x1="301.35" y1="28.2" x2="301.35" y2="232.6" stroke="#d9d9d9" stroke-width="0.5"/>
<line x1="305.06" y1="28.2" x2="305.06" y2="232.6" stroke="#d9d9d9" stroke-width="0.5"/>
<line x1="308.78" y1="28.2" x2="308.78" y2="232.6" stroke="#d9d9d9" stroke-width="0.5"/>
<line x1="312.49" y1="28.2" x2="312.49" y2="232.6" stroke="#d9d9d9" stroke-width="0.5"/>
<line x1="316.21" y1="28.2" x2="316.21" y2="232.6" stroke="#d9d9d9" stroke-width="0.5"/>
<line x1="319.92" y1="28.2" x2="319.92" y2="232.6" stroke="#d9d9d9" stroke-width="0.5"/>
<line x1="323.64" y1="28.2" x2="323.64" y2="232.6" stroke="#d9d9d9" stroke-width="0.5"/>
<line x1="327.35" y1="28.2" x2="327.35" y2="232.6" stroke="#d9d9d9" stroke-width="0.5"/>
<line x1="331.06" y1="28.2" x2="331.06" y2="232.6" stroke="#d9d9d9" stroke-width="0.5"/>
<line x1="334.78" y1="28.2" x2="334.78" y2="232.6" stroke="#d9d9d9" stroke-width="0.5"/>
<line x1="338.49" y1="28.2" x2="338.49" y2="232.6" stroke="#d9d9d9" stroke-width="0.5"/>
<line x1="342.21" y1="28.2" x2="342.21" y2="232.6" stroke="#d9d9d9" stroke-width="0.5"/>
<line x1="345.92" y1="28.2" x2="345.92" y2="232.6" stroke="#d9d9d9" stroke-width="0.5"/>
<line x1="349.64" y1="28.2" x2="349.64" y2="232.6" stroke="#d9d9d9" stroke-width="0.5"/>
<line x1="353.35" y1="28.2" x2="353.35" y2="232.6" stroke="#d9d9d9" stroke-width="0.5"/>
<line x1="357.07" y1="28.2" x2="357.07" y2="232.6" stroke="#d9d9d9" stroke-width="0.5"/>
<line x1="360.78" y1="28.2" x2="360.78" y2="232.6" stroke="#d9d9d9" stroke-width="0.5"/>
<line x1="364.5" y1="28.2" x2="364.5" y2="232.6" stroke="#d9d9d9" stroke-width="0.5"/>
<line x1="368.21" y1="28.2" x2="368.21" y2="232.6" stroke="#d9d9d9" stroke-width="0.5"/>
<line x1="371.93" y1="28.2" x2="371.93" y2="232.6" stroke="#d9d9d9" stroke-width="0.5"/>
<line x1="375.64" y1="28.2" x2="375.64" y2="232.6" stroke="#d9d9d9" stroke-width="0.5"/>
<line x1="379.36" y1="28.2" x2="379.36" y2="232.6" stroke="#d9d9d9" stroke-width="0.5"/>
<line x1="383.07" y1="28.2" x2="383.07" y2="232.6" stroke="#d9d9d9" stroke-width="0.5"/>
<line x1="386.79" y1="28.2" x2="386.79" y2="232.6" stroke="#d9d9d9" stroke-width="0.5"/>
<line x1="264.2" y1="33.6" x2="390.5" y2="33.6" stroke="#d4d4d4" stroke-width="0.5"/>
<line x1="264.2" y1="40.53" x2="390.5" y2="40.53" stroke="#d4d4d4" stroke-width="0.5"/>
<line x1="264.2" y1="47.46" x2="390.5" y2="47.46" stroke="#d4d4d4" stroke-width="0.5"/>
<line x1="264.2" y1="54.39" x2="390.5" y2="54.39" stroke="#d4d4d4" stroke-width="0.5"/>
<line x1="264.2" y1="61.32" x2="390.5" y2="61.32" stroke="#d4d4d4" stroke-width="0.5"/>
<line x1="264.2" y1="68.25" x2="390.5" y2="68.25" stroke="#d4d4d4" stroke-width="0.5"/>
<line x1="264.2" y1="75.18" x2="390.5" y2="75.18" stroke="#d4d4d4" stroke-width="0.5"/>
<line x1="264.2" y1="82.11" x2="390.5" y2="82.11" stroke="#d4d4d4" stroke-width="0.5"/>
<line x1="264.2" y1="89.04" x2="390.5" y2="89.04" stroke="#d4d4d4" stroke-width="0.5"/>
<line x1="264.2" y1="95.97" x2="390.5" y2="95.97" stroke="#d4d4d4" stroke-width="0.5"/>
<line x1="264.2" y1="102.9" x2="390.5" y2="102.9" stroke="#d4d4d4" stroke-width="0.5"/>
<line x1="264.2" y1="109.83" x2="390.5" y2="109.83" stroke="#d4d4d4" stroke-width="0.5"/>
<line x1="264.2" y1="116.76" x2="390.5" y2="116.76" stroke="#d4d4d4" stroke-width="0.5"/>
<line x1="264.2" y1="123.69" x2="390.5" y2="123.69" stroke="#d4d4d4" stroke-width="0.5"/>
<line x1="264.2" y1="130.62" x2="390.5" y2="130.62" stroke="#d4d4d4" stroke-width="0.5"/>
<line x1="264.2" y1="137.55" x2="390.5" y2="137.55" stroke="#d4d4d4" stroke-width="0.5"/>
<line x1="264.2" y1="144.48" x2="390.5" y2="144.48" stroke="#d4d4d4" stroke-width="0.5"/>
<line x1="264.2" y1="151.41" x2="390.5" y2="151.41" stroke="#d4d4d4" stroke-width="0.5"/>
<line x1="264.2" y1="158.34" x2="390.5" y2="158.34" stroke="#d4d4d4" stroke-width="0.5"/>
<line x1="264.2" y1="165.27" x2="390.5" y2="165.27" stroke="#d4d4d4" stroke-width="0.5"/>
<line x1="264.2" y1="172.2" x2="390.5" y2="172.2" stroke="#d4d4d4" stroke-width="0.5"/>
<line x1="264.2" y1="179.13" x2="390.5" y2="179.13" stroke="#d4d4d4" stroke-width="0.5"/>
<line x1="264.2" y1="186.06" x2="390.5" y2="186.06" stroke="#d4d4d4" stroke-width="0.5"/>
<line x1="264.2" y1="192.99" x2="390.5" y2="192.99" stroke="#d4d4d4" stroke-width="0.5"/>
<line x1="264.2" y1="199.92" x2="390.5" y2="199.92" stroke="#d4d4d4" stroke-width="0.5"/>
<line x1="264.2" y1="206.85" x2="390.5" y2="206.85" stroke="#d4d4d4" stroke-width="0.5"/>
<line x1="264.2" y1="213.78" x2="390.5" y2="213.78" stroke="#d4d4d4" stroke-width="0.5"/>
<line x1="264.2" y1="220.71" x2="390.5" y2="220.71" stroke="#d4d4d4" stroke-width="0.5"/>
<line x1="264.2" y1="227.64" x2="390.5" y2="227.64" stroke="#d4d4d4" stroke-width="0.5"/>
<rect x="264.2" y="28.2" width="126.3" height="204.4" fill="none" stroke="#858585" stroke-width="0.9"/>
<text x="261.7" y="63" font-size="2.7" fill="#1a1a1a" text-anchor="end" font-weight="bold" font-family='"Liberation Sans", sans-serif' stroke="#1a1a1a" stroke-width="0.35" stroke-opacity="0.55" textLength="3.9" lengthAdjust="spacingAndGlyphs">2.4</text>
<line x1="262" y1="62" x2="264" y2="62" stroke="#555" stroke-width="0.5"/>
<text x="261.7" y="97.7" font-size="2.7" fill="#1a1a1a" text-anchor="end" font-weight="bold" font-family='"Liberation Sans", sans-serif' stroke="#1a1a1a" stroke-width="0.35" stroke-opacity="0.55" textLength="3.9" lengthAdjust="spacingAndGlyphs">2.0</text>
<line x1="262" y1="96.7" x2="264" y2="96.7" stroke="#555" stroke-width="0.5"/>
<text x="261.7" y="132.3" font-size="2.7" fill="#1a1a1a" text-anchor="end" font-weight="bold" font-family='"Liberation Sans", sans-serif' stroke="#1a1a1a" stroke-width="0.35" stroke-opacity="0.55" textLength="3.9" lengthAdjust="spacingAndGlyphs">1.6</text>
<line x1="262" y1="131.3" x2="264" y2="131.3" stroke="#555" stroke-width="0.5"/>
<text x="261.7" y="167" font-size="2.7" fill="#1a1a1a" text-anchor="end" font-weight="bold" font-family='"Liberation Sans", sans-serif' stroke="#1a1a1a" stroke-width="0.35" stroke-opacity="0.55" textLength="3.9" lengthAdjust="spacingAndGlyphs">1.2</text>
<line x1="262" y1="166" x2="264" y2="166" stroke="#555" stroke-width="0.5"/>
<text x="261.7" y="201.7" font-size="2.7" fill="#1a1a1a" text-anchor="end" font-weight="bold" font-family='"Liberation Sans", sans-serif' stroke="#1a1a1a" stroke-width="0.35" stroke-opacity="0.55" textLength="3.9" lengthAdjust="spacingAndGlyphs">0.8</text>
<line x1="262" y1="200.7" x2="264" y2="200.7" stroke="#555" stroke-width="0.5"/>
<text x="279.8" y="239.8" font-size="2.7" fill="#1a1a1a" text-anchor="middle" font-weight="bold" font-family='"Liberation Sans", sans-serif' stroke="#1a1a1a" stroke-width="0.35" stroke-opacity="0.55" textLength="4.6" lengthAdjust="spacingAndGlyphs">65.0</text>
<text x="298" y="239.8" font-size="2.7" fill="#1a1a1a" text-anchor="middle" font-weight="bold" font-family='"Liberation Sans", sans-serif' stroke="#1a1a1a" stroke-width="0.35" stroke-opacity="0.55" textLength="4.6" lengthAdjust="spacingAndGlyphs">70.0</text>
<text x="316.3" y="239.8" font-size="2.7" fill="#1a1a1a" text-anchor="middle" font-weight="bold" font-family='"Liberation Sans", sans-serif' stroke="#1a1a1a" stroke-width="0.35" stroke-opacity="0.55" textLength="4.6" lengthAdjust="spacingAndGlyphs">75.0</text>
<text x="334.5" y="239.8" font-size="2.7" fill="#1a1a1a" text-anchor="middle" font-weight="bold" font-family='"Liberation Sans", sans-serif' stroke="#1a1a1a" stroke-width="0.35" stroke-opacity="0.55" textLength="4.6" lengthAdjust="spacingAndGlyphs">80.0</text>
<text x="352.7" y="239.8" font-size="2.7" fill="#1a1a1a" text-anchor="middle" font-weight="bold" font-family='"Liberation Sans", sans-serif' stroke="#1a1a1a" stroke-width="0.35" stroke-opacity="0.55" textLength="4.6" lengthAdjust="spacingAndGlyphs">85.0</text>
<text x="371" y="239.8" font-size="2.7" fill="#1a1a1a" text-anchor="middle" font-weight="bold" font-family='"Liberation Sans", sans-serif' stroke="#1a1a1a" stroke-width="0.35" stroke-opacity="0.55" textLength="4.6" lengthAdjust="spacingAndGlyphs">90.0</text>
<text x="389" y="239.8" font-size="2.7" fill="#1a1a1a" text-anchor="middle" font-weight="bold" font-family='"Liberation Sans", sans-serif' stroke="#1a1a1a" stroke-width="0.35" stroke-opacity="0.55" textLength="4.6" lengthAdjust="spacingAndGlyphs">95.0</text>
<text x="327.7" y="247.4" font-size="3.9" fill="#222" text-anchor="middle" font-weight="normal" font-family='"Liberation Sans", sans-serif' stroke="#222" stroke-width="0.24" stroke-opacity="0.55" textLength="28.6" lengthAdjust="spacingAndGlyphs">Temperature (°C)</text>
<text x="246.4" y="127.4" font-size="4" fill="#222" text-anchor="middle" font-weight="normal" font-family='"Liberation Sans", sans-serif' stroke="#222" stroke-width="0.24" stroke-opacity="0.55" textLength="52.8" lengthAdjust="spacingAndGlyphs" transform="rotate(-90 246.4 127.4)">Derivative Reporter (-Rn')</text>
<path d="M264.6 228.35 L265.4 229.71 L266.2 230.22 L267 230.26 L267.8 229.93 L268.6 229.25 L269.4 228.15 L270.2 226.53 L271 224.38 L271.8 221.77 L272.6 218.95 L273.4 216.24 L274.2 213.92 L275 212.12 L275.8 210.81 L276.6 209.89 L277.4 209.25 L278.2 208.8 L279 208.46 L279.8 208.19 L280.6 207.97 L281.4 207.77 L282.2 207.6 L283 207.44 L283.8 207.31 L284.6 207.19 L285.4 207.09 L286.2 207 L287 206.93 L287.8 206.88 L288.6 206.83 L289.4 206.8 L290.2 206.77 L291 206.75 L291.8 206.73 L292.6 206.71 L293.4 206.7 L294.2 206.7 L295 206.69 L295.8 206.69 L296.6 206.68 L297 206.68 L297.4 206.68 L297.8 206.68 L298.2 206.68 L298.6 206.68 L299 206.67 L299.4 206.67 L299.8 206.67 L300.2 206.67 L300.6 206.67 L301 206.67 L301.4 206.67 L301.8 206.67 L302.2 206.67 L302.6 206.67 L303 206.67 L303.4 206.67 L303.8 206.67 L304.2 206.67 L304.6 206.67 L305 206.67 L305.4 206.67 L305.8 206.67 L306.2 206.67 L306.6 206.66 L307 206.66 L307.4 206.65 L307.8 206.64 L308.2 206.62 L308.6 206.6 L309 206.55 L309.4 206.48 L309.8 206.38 L310.2 206.23 L310.6 206 L311 205.68 L311.4 205.22 L311.8 204.58 L312.2 203.71 L312.6 202.54 L313 200.99 L313.4 198.98 L313.8 196.42 L314.2 193.21 L314.6 189.26 L315 184.49 L315.4 178.84 L315.8 172.28 L316.2 164.81 L316.6 156.5 L317 147.45 L317.4 137.82 L317.8 127.83 L318.2 117.77 L318.6 107.94 L319 98.68 L319.4 90.34 L319.8 83.26 L320.2 77.73 L320.6 73.99 L321 72.22 L321.4 72.42 L321.8 74.31 L322.2 77.81 L322.6 82.77 L323 89.02 L323.4 96.33 L323.8 104.48 L324.2 113.2 L324.6 122.27 L325 131.44 L325.4 140.54 L325.8 149.38 L326.2 157.85 L326.6 165.85 L327 173.33 L327.4 180.24 L327.8 186.59 L328.2 192.37 L328.6 197.6 L329 202.28 L329.4 206.43 L329.8 210.07 L330.2 213.2 L330.6 215.87 L331 218.1 L331.4 219.94 L331.8 221.43 L332.2 222.64 L332.6 223.59 L333 224.35 L333.4 224.94 L333.8 225.4 L334.2 225.76 L334.6 226.04 L335 226.26 L335.4 226.44 L335.8 226.57 L336.2 226.68 L336.6 226.76 L337 226.83 L337.4 226.89 L337.8 226.93 L338.2 226.97 L338.6 227 L339 227.03 L339.4 227.05 L339.8 227.07 L340.2 227.08 L341 227.11 L341.8 227.13 L342.6 227.15 L343.4 227.16 L344.2 227.17 L345 227.17 L345.8 227.18 L346.6 227.18 L347.4 227.19 L348.2 227.19 L349 227.19 L349.8 227.19 L350.6 227.19 L351.4 227.19 L352.2 227.18 L353 227.17 L353.8 227.16 L354.6 227.14 L355.4 227.11 L356.2 227.07 L357 227.01 L357.8 226.94 L358.6 226.85 L359.4 226.75 L360.2 226.63 L361 226.5 L361.8 226.36 L362.6 226.23 L363.4 226.12 L364.2 226.02 L365 225.96 L365.8 225.93 L366.6 225.94 L367.4 225.99 L368.2 226.07 L369 226.17 L369.8 226.3 L370.6 226.43 L371.4 226.56 L372.2 226.69 L373 226.8 L373.8 226.9 L374.6 226.98 L375.4 227.04 L376.2 227.09 L377 227.12 L377.8 227.15 L378.6 227.17 L379.4 227.18 L380.2 227.19 L381 227.19 L381.8 227.19 L382.6 227.19 L383.4 227.2 L384.2 227.2 L385 227.2 L385.8 227.2" fill="none" stroke="#a8d84a" stroke-width="0.5" stroke-opacity="0.9" stroke-linejoin="round"/>
<path d="M264.6 227.95 L265.4 229.15 L266.2 229.6 L267 229.62 L267.8 229.32 L268.6 228.69 L269.4 227.68 L270.2 226.21 L271 224.25 L271.8 221.87 L272.6 219.29 L273.4 216.82 L274.2 214.71 L275 213.06 L275.8 211.86 L276.6 211.01 L277.4 210.42 L278.2 210 L279 209.68 L279.8 209.42 L280.6 209.21 L281.4 209.02 L282.2 208.84 L283 208.69 L283.8 208.56 L284.6 208.44 L285.4 208.34 L286.2 208.25 L287 208.18 L287.8 208.13 L288.6 208.08 L289.4 208.05 L290.2 208.02 L291 208 L291.8 207.98 L292.6 207.96 L293.4 207.95 L294.2 207.95 L295 207.94 L295.8 207.94 L296.6 207.93 L297 207.93 L297.4 207.93 L297.8 207.93 L298.2 207.93 L298.6 207.93 L299 207.92 L299.4 207.92 L299.8 207.92 L300.2 207.92 L300.6 207.92 L301 207.92 L301.4 207.92 L301.8 207.92 L302.2 207.92 L302.6 207.92 L303 207.92 L303.4 207.92 L303.8 207.92 L304.2 207.92 L304.6 207.92 L305 207.92 L305.4 207.92 L305.8 207.92 L306.2 207.92 L306.6 207.92 L307 207.92 L307.4 207.91 L307.8 207.91 L308.2 207.9 L308.6 207.88 L309 207.85 L309.4 207.81 L309.8 207.74 L310.2 207.64 L310.6 207.48 L311 207.25 L311.4 206.92 L311.8 206.44 L312.2 205.76 L312.6 204.83 L313 203.57 L313.4 201.89 L313.8 199.7 L314.2 196.89 L314.6 193.37 L315 189.02 L315.4 183.78 L315.8 177.59 L316.2 170.42 L316.6 162.3 L317 153.33 L317.4 143.64 L317.8 133.46 L318.2 123.06 L318.6 112.77 L319 102.95 L319.4 94 L319.8 86.28 L320.2 80.13 L320.6 75.85 L321 73.64 L321.4 73.59 L321.8 75.71 L322.2 79.88 L322.6 85.91 L323 93.5 L323.4 102.31 L323.8 111.99 L324.2 122.16 L324.6 132.48 L325 142.66 L325.4 152.43 L325.8 161.62 L326.2 170.1 L326.6 177.81 L327 184.73 L327.4 190.88 L327.8 196.32 L328.2 201.09 L328.6 205.27 L329 208.91 L329.4 212.07 L329.8 214.79 L330.2 217.11 L330.6 219.06 L331 220.68 L331.4 222.01 L331.8 223.08 L332.2 223.95 L332.6 224.63 L333 225.18 L333.4 225.61 L333.8 225.95 L334.2 226.21 L334.6 226.42 L335 226.59 L335.4 226.72 L335.8 226.83 L336.2 226.92 L336.6 226.99 L337 227.05 L337.4 227.11 L337.8 227.15 L338.2 227.19 L338.6 227.22 L339 227.25 L339.4 227.28 L339.8 227.3 L340.2 227.33 L341 227.36 L341.8 227.39 L342.6 227.42 L343.4 227.44 L344.2 227.46 L345 227.47 L345.8 227.48 L346.6 227.49 L347.4 227.5 L348.2 227.5 L349 227.51 L349.8 227.51 L350.6 227.51 L351.4 227.51 L352.2 227.51 L353 227.5 L353.8 227.5 L354.6 227.49 L355.4 227.47 L356.2 227.45 L357 227.43 L357.8 227.39 L358.6 227.35 L359.4 227.3 L360.2 227.24 L361 227.18 L361.8 227.11 L362.6 227.05 L363.4 227 L364.2 226.95 L365 226.92 L365.8 226.9 L366.6 226.91 L367.4 226.93 L368.2 226.97 L369 227.02 L369.8 227.08 L370.6 227.15 L371.4 227.21 L372.2 227.27 L373 227.33 L373.8 227.37 L374.6 227.41 L375.4 227.44 L376.2 227.47 L377 227.48 L377.8 227.5 L378.6 227.51 L379.4 227.51 L380.2 227.51 L381 227.52 L381.8 227.52 L382.6 227.52 L383.4 227.52 L384.2 227.52 L385 227.52 L385.8 227.52" fill="none" stroke="#a8d84a" stroke-width="0.5" stroke-opacity="0.9" stroke-linejoin="round"/>
<path d="M264.6 228.64 L265.4 229.87 L266.2 230.32 L267 230.32 L267.8 229.98 L268.6 229.29 L269.4 228.18 L270.2 226.56 L271 224.39 L271.8 221.77 L272.6 218.94 L273.4 216.22 L274.2 213.89 L275 212.08 L275.8 210.77 L276.6 209.84 L277.4 209.2 L278.2 208.75 L279 208.41 L279.8 208.14 L280.6 207.91 L281.4 207.72 L282.2 207.54 L283 207.39 L283.8 207.25 L284.6 207.13 L285.4 207.03 L286.2 206.95 L287 206.88 L287.8 206.82 L288.6 206.78 L289.4 206.74 L290.2 206.71 L291 206.69 L291.8 206.67 L292.6 206.66 L293.4 206.65 L294.2 206.64 L295 206.64 L295.8 206.63 L296.6 206.63 L297 206.63 L297.4 206.62 L297.8 206.62 L298.2 206.62 L298.6 206.62 L299 206.62 L299.4 206.62 L299.8 206.62 L300.2 206.62 L300.6 206.62 L301 206.62 L301.4 206.62 L301.8 206.62 L302.2 206.62 L302.6 206.62 L303 206.62 L303.4 206.62 L303.8 206.62 L304.2 206.62 L304.6 206.62 L305 206.62 L305.4 206.61 L305.8 206.61 L306.2 206.61 L306.6 206.61 L307 206.61 L307.4 206.6 L307.8 206.59 L308.2 206.57 L308.6 206.54 L309 206.5 L309.4 206.43 L309.8 206.33 L310.2 206.18 L310.6 205.96 L311 205.65 L311.4 205.2 L311.8 204.59 L312.2 203.74 L312.6 202.61 L313 201.1 L313.4 199.15 L313.8 196.65 L314.2 193.51 L314.6 189.63 L315 184.94 L315.4 179.34 L315.8 172.81 L316.2 165.34 L316.6 156.95 L317 147.74 L317.4 137.84 L317.8 127.46 L318.2 116.86 L318.6 106.33 L319 96.22 L319.4 86.88 L319.8 78.66 L320.2 71.89 L320.6 66.85 L321 63.76 L321.4 62.76 L321.8 63.5 L322.2 65.61 L322.6 69.03 L323 73.66 L323.4 79.36 L323.8 86 L324.2 93.4 L324.6 101.39 L325 109.78 L325.4 118.42 L325.8 127.15 L326.2 135.83 L326.6 144.36 L327 152.63 L327.4 160.58 L327.8 168.15 L328.2 175.29 L328.6 181.97 L329 188.16 L329.4 193.83 L329.8 198.95 L330.2 203.52 L330.6 207.54 L331 211.01 L331.4 213.97 L331.8 216.46 L332.2 218.53 L332.6 220.23 L333 221.61 L333.4 222.73 L333.8 223.62 L334.2 224.33 L334.6 224.9 L335 225.34 L335.4 225.7 L335.8 225.97 L336.2 226.2 L336.6 226.37 L337 226.51 L337.4 226.62 L337.8 226.71 L338.2 226.79 L338.6 226.85 L339 226.9 L339.4 226.94 L339.8 226.97 L340.2 227 L341 227.05 L341.8 227.09 L342.6 227.11 L343.4 227.13 L344.2 227.15 L345 227.16 L345.8 227.17 L346.6 227.18 L347.4 227.18 L348.2 227.18 L349 227.19 L349.8 227.19 L350.6 227.19 L351.4 227.18 L352.2 227.18 L353 227.17 L353.8 227.15 L354.6 227.12 L355.4 227.08 L356.2 227.03 L357 226.96 L357.8 226.87 L358.6 226.76 L359.4 226.63 L360.2 226.48 L361 226.31 L361.8 226.14 L362.6 225.98 L363.4 225.83 L364.2 225.72 L365 225.63 L365.8 225.6 L366.6 225.61 L367.4 225.67 L368.2 225.77 L369 225.9 L369.8 226.06 L370.6 226.23 L371.4 226.39 L372.2 226.55 L373 226.7 L373.8 226.82 L374.6 226.92 L375.4 227 L376.2 227.06 L377 227.11 L377.8 227.14 L378.6 227.16 L379.4 227.17 L380.2 227.18 L381 227.19 L381.8 227.19 L382.6 227.19 L383.4 227.2 L384.2 227.2 L385 227.2 L385.8 227.2" fill="none" stroke="#a8d84a" stroke-width="0.5" stroke-opacity="0.9" stroke-linejoin="round"/>
<path d="M264.6 227.83 L265.4 229.03 L266.2 229.49 L267 229.5 L267.8 229.19 L268.6 228.55 L269.4 227.51 L270.2 226 L271 223.97 L271.8 221.52 L272.6 218.87 L273.4 216.33 L274.2 214.16 L275 212.46 L275.8 211.23 L276.6 210.36 L277.4 209.76 L278.2 209.32 L279 209 L279.8 208.74 L280.6 208.52 L281.4 208.33 L282.2 208.15 L283 208 L283.8 207.86 L284.6 207.75 L285.4 207.65 L286.2 207.56 L287 207.49 L287.8 207.44 L288.6 207.39 L289.4 207.35 L290.2 207.33 L291 207.3 L291.8 207.29 L292.6 207.27 L293.4 207.26 L294.2 207.25 L295 207.25 L295.8 207.24 L296.6 207.24 L297 207.24 L297.4 207.24 L297.8 207.24 L298.2 207.23 L298.6 207.23 L299 207.23 L299.4 207.23 L299.8 207.23 L300.2 207.23 L300.6 207.23 L301 207.23 L301.4 207.23 L301.8 207.23 L302.2 207.23 L302.6 207.23 L303 207.23 L303.4 207.23 L303.8 207.23 L304.2 207.23 L304.6 207.23 L305 207.23 L305.4 207.23 L305.8 207.23 L306.2 207.23 L306.6 207.23 L307 207.23 L307.4 207.23 L307.8 207.23 L308.2 207.23 L308.6 207.23 L309 207.22 L309.4 207.22 L309.8 207.21 L310.2 207.2 L310.6 207.18 L311 207.13 L311.4 207.06 L311.8 206.93 L312.2 206.72 L312.6 206.38 L313 205.84 L313.4 205.03 L313.8 203.82 L314.2 202.07 L314.6 199.61 L315 196.26 L315.4 191.82 L315.8 186.11 L316.2 178.99 L316.6 170.39 L317 160.33 L317.4 148.99 L317.8 136.67 L318.2 123.82 L318.6 111.03 L319 98.98 L319.4 88.39 L319.8 79.95 L320.2 74.23 L320.6 71.64 L321 72.33 L321.4 76.1 L321.8 82.69 L322.2 91.63 L322.6 102.35 L323 114.21 L323.4 126.56 L323.8 138.84 L324.2 150.58 L324.6 161.42 L325 171.14 L325.4 179.66 L325.8 186.95 L326.2 193.12 L326.6 198.28 L327 202.6 L327.4 206.23 L327.8 209.31 L328.2 211.97 L328.6 214.28 L329 216.32 L329.4 218.11 L329.8 219.67 L330.2 221.02 L330.6 222.18 L331 223.14 L331.4 223.94 L331.8 224.6 L332.2 225.13 L332.6 225.55 L333 225.89 L333.4 226.16 L333.8 226.37 L334.2 226.54 L334.6 226.67 L335 226.78 L335.4 226.86 L335.8 226.93 L336.2 226.99 L336.6 227.03 L337 227.07 L337.4 227.1 L337.8 227.13 L338.2 227.16 L338.6 227.18 L339 227.2 L339.4 227.22 L339.8 227.23 L340.2 227.25 L341 227.27 L341.8 227.29 L342.6 227.31 L343.4 227.32 L344.2 227.34 L345 227.35 L345.8 227.35 L346.6 227.36 L347.4 227.36 L348.2 227.37 L349 227.37 L349.8 227.37 L350.6 227.37 L351.4 227.37 L352.2 227.37 L353 227.36 L353.8 227.35 L354.6 227.33 L355.4 227.31 L356.2 227.28 L357 227.24 L357.8 227.18 L358.6 227.11 L359.4 227.03 L360.2 226.94 L361 226.84 L361.8 226.73 L362.6 226.63 L363.4 226.54 L364.2 226.47 L365 226.42 L365.8 226.4 L366.6 226.41 L367.4 226.44 L368.2 226.51 L369 226.59 L369.8 226.68 L370.6 226.79 L371.4 226.89 L372.2 226.99 L373 227.07 L373.8 227.15 L374.6 227.21 L375.4 227.26 L376.2 227.3 L377 227.32 L377.8 227.34 L378.6 227.36 L379.4 227.37 L380.2 227.37 L381 227.38 L381.8 227.38 L382.6 227.38 L383.4 227.38 L384.2 227.38 L385 227.38 L385.8 227.38" fill="none" stroke="#a8d84a" stroke-width="0.5" stroke-opacity="0.9" stroke-linejoin="round"/>
<path d="M264.6 226.84 L265.4 228.61 L266.2 229.33 L267 229.46 L267.8 229.19 L268.6 228.55 L269.4 227.48 L270.2 225.91 L271 223.81 L271.8 221.25 L272.6 218.49 L273.4 215.85 L274.2 213.58 L275 211.82 L275.8 210.53 L276.6 209.63 L277.4 209.01 L278.2 208.56 L279 208.23 L279.8 207.96 L280.6 207.74 L281.4 207.54 L282.2 207.37 L283 207.22 L283.8 207.08 L284.6 206.96 L285.4 206.86 L286.2 206.78 L287 206.71 L287.8 206.65 L288.6 206.61 L289.4 206.57 L290.2 206.54 L291 206.52 L291.8 206.5 L292.6 206.49 L293.4 206.48 L294.2 206.47 L295 206.46 L295.8 206.46 L296.6 206.46 L297 206.45 L297.4 206.45 L297.8 206.45 L298.2 206.45 L298.6 206.45 L299 206.45 L299.4 206.45 L299.8 206.45 L300.2 206.45 L300.6 206.45 L301 206.45 L301.4 206.45 L301.8 206.45 L302.2 206.45 L302.6 206.44 L303 206.44 L303.4 206.44 L303.8 206.44 L304.2 206.44 L304.6 206.44 L305 206.44 L305.4 206.44 L305.8 206.44 L306.2 206.43 L306.6 206.43 L307 206.42 L307.4 206.4 L307.8 206.38 L308.2 206.34 L308.6 206.28 L309 206.2 L309.4 206.07 L309.8 205.89 L310.2 205.63 L310.6 205.27 L311 204.77 L311.4 204.09 L311.8 203.18 L312.2 201.98 L312.6 200.42 L313 198.43 L313.4 195.92 L313.8 192.82 L314.2 189.04 L314.6 184.52 L315 179.19 L315.4 173.03 L315.8 166.04 L316.2 158.25 L316.6 149.74 L317 140.65 L317.4 131.13 L317.8 121.4 L318.2 111.74 L318.6 102.41 L319 93.72 L319.4 85.97 L319.8 79.44 L320.2 74.38 L320.6 71 L321 69.43 L321.4 69.64 L321.8 71.29 L322.2 74.29 L322.6 78.57 L323 83.98 L323.4 90.38 L323.8 97.57 L324.2 105.39 L324.6 113.64 L325 122.15 L325.4 130.74 L325.8 139.28 L326.2 147.65 L326.6 155.74 L327 163.49 L327.4 170.84 L327.8 177.75 L328.2 184.2 L328.6 190.15 L329 195.59 L329.4 200.51 L329.8 204.89 L330.2 208.73 L330.6 212.06 L331 214.89 L331.4 217.26 L331.8 219.23 L332.2 220.84 L332.6 222.14 L333 223.19 L333.4 224.02 L333.8 224.69 L334.2 225.21 L334.6 225.63 L335 225.96 L335.4 226.22 L335.8 226.43 L336.2 226.59 L336.6 226.73 L337 226.84 L337.4 226.93 L337.8 227.01 L338.2 227.08 L338.6 227.13 L339 227.18 L339.4 227.23 L339.8 227.26 L340.2 227.3 L341 227.35 L341.8 227.4 L342.6 227.44 L343.4 227.47 L344.2 227.49 L345 227.51 L345.8 227.52 L346.6 227.53 L347.4 227.54 L348.2 227.55 L349 227.55 L349.8 227.56 L350.6 227.56 L351.4 227.55 L352.2 227.55 L353 227.54 L353.8 227.52 L354.6 227.5 L355.4 227.46 L356.2 227.41 L357 227.34 L357.8 227.25 L358.6 227.14 L359.4 227.01 L360.2 226.86 L361 226.7 L361.8 226.53 L362.6 226.37 L363.4 226.23 L364.2 226.11 L365 226.03 L365.8 226 L366.6 226.01 L367.4 226.07 L368.2 226.17 L369 226.3 L369.8 226.45 L370.6 226.62 L371.4 226.78 L372.2 226.94 L373 227.08 L373.8 227.2 L374.6 227.3 L375.4 227.38 L376.2 227.44 L377 227.48 L377.8 227.51 L378.6 227.54 L379.4 227.55 L380.2 227.56 L381 227.56 L381.8 227.57 L382.6 227.57 L383.4 227.57 L384.2 227.57 L385 227.57 L385.8 227.57" fill="none" stroke="#48b848" stroke-width="0.5" stroke-opacity="0.9" stroke-linejoin="round"/>
<path d="M264.6 227.46 L265.4 228.46 L266.2 228.81 L267 228.77 L267.8 228.42 L268.6 227.75 L269.4 226.67 L270.2 225.11 L271 223.03 L271.8 220.51 L272.6 217.79 L273.4 215.18 L274.2 212.94 L275 211.2 L275.8 209.93 L276.6 209.05 L277.4 208.43 L278.2 207.98 L279 207.65 L279.8 207.39 L280.6 207.17 L281.4 206.97 L282.2 206.8 L283 206.65 L283.8 206.51 L284.6 206.39 L285.4 206.29 L286.2 206.21 L287 206.14 L287.8 206.08 L288.6 206.04 L289.4 206 L290.2 205.97 L291 205.95 L291.8 205.93 L292.6 205.92 L293.4 205.91 L294.2 205.9 L295 205.89 L295.8 205.89 L296.6 205.89 L297 205.88 L297.4 205.88 L297.8 205.88 L298.2 205.88 L298.6 205.88 L299 205.88 L299.4 205.88 L299.8 205.88 L300.2 205.88 L300.6 205.88 L301 205.88 L301.4 205.88 L301.8 205.88 L302.2 205.88 L302.6 205.87 L303 205.87 L303.4 205.87 L303.8 205.87 L304.2 205.87 L304.6 205.86 L305 205.86 L305.4 205.85 L305.8 205.83 L306.2 205.81 L306.6 205.77 L307 205.72 L307.4 205.65 L307.8 205.55 L308.2 205.41 L308.6 205.22 L309 204.95 L309.4 204.59 L309.8 204.12 L310.2 203.49 L310.6 202.68 L311 201.64 L311.4 200.31 L311.8 198.66 L312.2 196.62 L312.6 194.13 L313 191.14 L313.4 187.59 L313.8 183.44 L314.2 178.65 L314.6 173.2 L315 167.08 L315.4 160.34 L315.8 153.01 L316.2 145.18 L316.6 136.95 L317 128.48 L317.4 119.93 L317.8 111.48 L318.2 103.35 L318.6 95.75 L319 88.9 L319.4 82.99 L319.8 78.21 L320.2 74.71 L320.6 72.6 L321 71.97 L321.4 72.56 L321.8 74.17 L322.2 76.76 L322.6 80.27 L323 84.63 L323.4 89.74 L323.8 95.5 L324.2 101.81 L324.6 108.55 L325 115.62 L325.4 122.91 L325.8 130.33 L326.2 137.79 L326.6 145.22 L327 152.55 L327.4 159.73 L327.8 166.68 L328.2 173.38 L328.6 179.74 L329 185.73 L329.4 191.29 L329.8 196.37 L330.2 200.96 L330.6 205.03 L331 208.61 L331.4 211.7 L331.8 214.35 L332.2 216.6 L332.6 218.49 L333 220.08 L333.4 221.39 L333.8 222.47 L334.2 223.37 L334.6 224.1 L335 224.7 L335.4 225.2 L335.8 225.6 L336.2 225.93 L336.6 226.21 L337 226.43 L337.4 226.62 L337.8 226.78 L338.2 226.91 L338.6 227.02 L339 227.12 L339.4 227.2 L339.8 227.28 L340.2 227.34 L341 227.44 L341.8 227.53 L342.6 227.59 L343.4 227.64 L344.2 227.68 L345 227.72 L345.8 227.74 L346.6 227.76 L347.4 227.78 L348.2 227.79 L349 227.8 L349.8 227.8 L350.6 227.81 L351.4 227.81 L352.2 227.8 L353 227.8 L353.8 227.78 L354.6 227.76 L355.4 227.73 L356.2 227.68 L357 227.61 L357.8 227.53 L358.6 227.43 L359.4 227.31 L360.2 227.17 L361 227.02 L361.8 226.87 L362.6 226.72 L363.4 226.59 L364.2 226.48 L365 226.41 L365.8 226.37 L366.6 226.38 L367.4 226.44 L368.2 226.53 L369 226.65 L369.8 226.79 L370.6 226.95 L371.4 227.1 L372.2 227.24 L373 227.37 L373.8 227.49 L374.6 227.58 L375.4 227.65 L376.2 227.71 L377 227.75 L377.8 227.78 L378.6 227.8 L379.4 227.81 L380.2 227.82 L381 227.82 L381.8 227.83 L382.6 227.83 L383.4 227.83 L384.2 227.83 L385 227.83 L385.8 227.83" fill="none" stroke="#48b848" stroke-width="0.5" stroke-opacity="0.9" stroke-linejoin="round"/>
<path d="M264.6 227.88 L265.4 228.77 L266.2 229.08 L267 229.03 L267.8 228.7 L268.6 228.08 L269.4 227.08 L270.2 225.64 L271 223.72 L271.8 221.39 L272.6 218.87 L273.4 216.45 L274.2 214.38 L275 212.77 L275.8 211.59 L276.6 210.76 L277.4 210.18 L278.2 209.76 L279 209.45 L279.8 209.2 L280.6 208.98 L281.4 208.79 L282.2 208.62 L283 208.47 L283.8 208.33 L284.6 208.21 L285.4 208.11 L286.2 208.03 L287 207.96 L287.8 207.9 L288.6 207.86 L289.4 207.82 L290.2 207.79 L291 207.77 L291.8 207.75 L292.6 207.74 L293.4 207.73 L294.2 207.72 L295 207.72 L295.8 207.71 L296.6 207.71 L297 207.71 L297.4 207.7 L297.8 207.7 L298.2 207.7 L298.6 207.7 L299 207.7 L299.4 207.7 L299.8 207.7 L300.2 207.7 L300.6 207.7 L301 207.7 L301.4 207.7 L301.8 207.7 L302.2 207.7 L302.6 207.7 L303 207.7 L303.4 207.7 L303.8 207.69 L304.2 207.69 L304.6 207.69 L305 207.69 L305.4 207.68 L305.8 207.67 L306.2 207.66 L306.6 207.64 L307 207.61 L307.4 207.57 L307.8 207.5 L308.2 207.41 L308.6 207.27 L309 207.08 L309.4 206.81 L309.8 206.44 L310.2 205.94 L310.6 205.27 L311 204.38 L311.4 203.22 L311.8 201.72 L312.2 199.83 L312.6 197.46 L313 194.54 L313.4 191 L313.8 186.76 L314.2 181.76 L314.6 175.95 L315 169.32 L315.4 161.88 L315.8 153.65 L316.2 144.72 L316.6 135.22 L317 125.29 L317.4 115.15 L317.8 105.02 L318.2 95.18 L318.6 85.89 L319 77.44 L319.4 70.11 L319.8 64.14 L320.2 59.73 L320.6 57.05 L321 56.2 L321.4 57.05 L321.8 59.45 L322.2 63.33 L322.6 68.55 L323 74.97 L323.4 82.4 L323.8 90.64 L324.2 99.47 L324.6 108.7 L325 118.12 L325.4 127.57 L325.8 136.87 L326.2 145.93 L326.6 154.62 L327 162.88 L327.4 170.65 L327.8 177.9 L328.2 184.6 L328.6 190.73 L329 196.29 L329.4 201.25 L329.8 205.64 L330.2 209.45 L330.6 212.72 L331 215.48 L331.4 217.77 L331.8 219.67 L332.2 221.21 L332.6 222.45 L333 223.45 L333.4 224.25 L333.8 224.88 L334.2 225.38 L334.6 225.78 L335 226.09 L335.4 226.35 L335.8 226.55 L336.2 226.72 L336.6 226.86 L337 226.98 L337.4 227.07 L337.8 227.16 L338.2 227.23 L338.6 227.3 L339 227.36 L339.4 227.41 L339.8 227.46 L340.2 227.5 L341 227.57 L341.8 227.63 L342.6 227.68 L343.4 227.72 L344.2 227.76 L345 227.78 L345.8 227.8 L346.6 227.82 L347.4 227.83 L348.2 227.84 L349 227.85 L349.8 227.85 L350.6 227.85 L351.4 227.85 L352.2 227.85 L353 227.84 L353.8 227.83 L354.6 227.81 L355.4 227.79 L356.2 227.75 L357 227.7 L357.8 227.64 L358.6 227.56 L359.4 227.46 L360.2 227.35 L361 227.23 L361.8 227.11 L362.6 227 L363.4 226.89 L364.2 226.81 L365 226.75 L365.8 226.72 L366.6 226.73 L367.4 226.77 L368.2 226.84 L369 226.94 L369.8 227.05 L370.6 227.17 L371.4 227.29 L372.2 227.41 L373 227.51 L373.8 227.6 L374.6 227.67 L375.4 227.73 L376.2 227.77 L377 227.81 L377.8 227.83 L378.6 227.84 L379.4 227.85 L380.2 227.86 L381 227.87 L381.8 227.87 L382.6 227.87 L383.4 227.87 L384.2 227.87 L385 227.87 L385.8 227.87" fill="none" stroke="#48b848" stroke-width="0.5" stroke-opacity="0.9" stroke-linejoin="round"/>
<path d="M264.6 226.75 L265.4 228.97 L266.2 229.9 L267 230.13 L267.8 229.89 L268.6 229.24 L269.4 228.13 L270.2 226.5 L271 224.31 L271.8 221.65 L272.6 218.77 L273.4 216.01 L274.2 213.65 L275 211.82 L275.8 210.48 L276.6 209.54 L277.4 208.89 L278.2 208.43 L279 208.09 L279.8 207.82 L280.6 207.59 L281.4 207.4 L282.2 207.22 L283 207.07 L283.8 206.93 L284.6 206.81 L285.4 206.71 L286.2 206.63 L287 206.56 L287.8 206.5 L288.6 206.46 L289.4 206.42 L290.2 206.39 L291 206.37 L291.8 206.35 L292.6 206.34 L293.4 206.33 L294.2 206.32 L295 206.31 L295.8 206.31 L296.6 206.31 L297 206.3 L297.4 206.3 L297.8 206.3 L298.2 206.3 L298.6 206.3 L299 206.3 L299.4 206.3 L299.8 206.3 L300.2 206.3 L300.6 206.3 L301 206.3 L301.4 206.3 L301.8 206.3 L302.2 206.3 L302.6 206.3 L303 206.29 L303.4 206.29 L303.8 206.29 L304.2 206.29 L304.6 206.29 L305 206.29 L305.4 206.29 L305.8 206.29 L306.2 206.29 L306.6 206.29 L307 206.29 L307.4 206.29 L307.8 206.28 L308.2 206.27 L308.6 206.26 L309 206.23 L309.4 206.2 L309.8 206.14 L310.2 206.05 L310.6 205.91 L311 205.7 L311.4 205.4 L311.8 204.96 L312.2 204.35 L312.6 203.49 L313 202.32 L313.4 200.75 L313.8 198.69 L314.2 196.02 L314.6 192.63 L315 188.41 L315.4 183.26 L315.8 177.1 L316.2 169.88 L316.6 161.58 L317 152.27 L317.4 142.05 L317.8 131.1 L318.2 119.68 L318.6 108.11 L319 96.75 L319.4 86.01 L319.8 76.3 L320.2 68.04 L320.6 61.58 L321 57.22 L321.4 55.16 L321.8 55.35 L322.2 57.18 L322.6 60.56 L323 65.36 L323.4 71.45 L323.8 78.64 L324.2 86.73 L324.6 95.49 L325 104.72 L325.4 114.21 L325.8 123.77 L326.2 133.23 L326.6 142.47 L327 151.36 L327.4 159.84 L327.8 167.83 L328.2 175.3 L328.6 182.22 L329 188.58 L329.4 194.36 L329.8 199.56 L330.2 204.16 L330.6 208.18 L331 211.64 L331.4 214.57 L331.8 217.02 L332.2 219.04 L332.6 220.69 L333 222.02 L333.4 223.08 L333.8 223.92 L334.2 224.58 L334.6 225.1 L335 225.51 L335.4 225.83 L335.8 226.07 L336.2 226.27 L336.6 226.42 L337 226.55 L337.4 226.64 L337.8 226.72 L338.2 226.78 L338.6 226.83 L339 226.87 L339.4 226.91 L339.8 226.93 L340.2 226.96 L341 226.99 L341.8 227.02 L342.6 227.04 L343.4 227.05 L344.2 227.06 L345 227.07 L345.8 227.08 L346.6 227.08 L347.4 227.09 L348.2 227.09 L349 227.09 L349.8 227.09 L350.6 227.09 L351.4 227.08 L352.2 227.07 L353 227.06 L353.8 227.04 L354.6 227.01 L355.4 226.96 L356.2 226.9 L357 226.82 L357.8 226.72 L358.6 226.58 L359.4 226.43 L360.2 226.25 L361 226.06 L361.8 225.86 L362.6 225.67 L363.4 225.5 L364.2 225.37 L365 225.27 L365.8 225.23 L366.6 225.24 L367.4 225.31 L368.2 225.43 L369 225.59 L369.8 225.77 L370.6 225.96 L371.4 226.16 L372.2 226.34 L373 226.51 L373.8 226.65 L374.6 226.77 L375.4 226.87 L376.2 226.94 L377 226.99 L377.8 227.03 L378.6 227.05 L379.4 227.07 L380.2 227.08 L381 227.09 L381.8 227.09 L382.6 227.09 L383.4 227.09 L384.2 227.1 L385 227.1 L385.8 227.1" fill="none" stroke="#48b848" stroke-width="0.5" stroke-opacity="0.9" stroke-linejoin="round"/>
<path d="M264.6 223.23 L265.4 225.52 L266.2 226.52 L267 226.82 L267.8 226.68 L268.6 226.18 L269.4 225.3 L270.2 223.98 L271 222.2 L271.8 220.05 L272.6 217.72 L273.4 215.48 L274.2 213.56 L275 212.06 L275.8 210.97 L276.6 210.2 L277.4 209.65 L278.2 209.26 L279 208.96 L279.8 208.71 L280.6 208.5 L281.4 208.32 L282.2 208.15 L283 208 L283.8 207.86 L284.6 207.75 L285.4 207.65 L286.2 207.56 L287 207.49 L287.8 207.44 L288.6 207.39 L289.4 207.35 L290.2 207.33 L291 207.3 L291.8 207.29 L292.6 207.27 L293.4 207.26 L294.2 207.25 L295 207.25 L295.8 207.24 L296.6 207.24 L297 207.24 L297.4 207.24 L297.8 207.24 L298.2 207.24 L298.6 207.23 L299 207.23 L299.4 207.23 L299.8 207.23 L300.2 207.23 L300.6 207.23 L301 207.23 L301.4 207.23 L301.8 207.23 L302.2 207.22 L302.6 207.22 L303 207.21 L303.4 207.2 L303.8 207.19 L304.2 207.17 L304.6 207.14 L305 207.1 L305.4 207.04 L305.8 206.96 L306.2 206.86 L306.6 206.7 L307 206.5 L307.4 206.23 L307.8 205.87 L308.2 205.39 L308.6 204.78 L309 203.99 L309.4 203 L309.8 201.75 L310.2 200.2 L310.6 198.3 L311 196 L311.4 193.24 L311.8 189.99 L312.2 186.18 L312.6 181.78 L313 176.77 L313.4 171.13 L313.8 164.87 L314.2 158.01 L314.6 150.6 L315 142.72 L315.4 134.46 L315.8 125.96 L316.2 117.35 L316.6 108.81 L317 100.52 L317.4 92.67 L317.8 85.45 L318.2 79.05 L318.6 73.65 L319 69.39 L319.4 66.39 L319.8 64.76 L320.2 64.53 L320.6 65.82 L321 68.61 L321.4 72.81 L321.8 78.28 L322.2 84.87 L322.6 92.37 L323 100.58 L323.4 109.28 L323.8 118.28 L324.2 127.38 L324.6 136.43 L325 145.27 L325.4 153.8 L325.8 161.94 L326.2 169.62 L326.6 176.81 L327 183.47 L327.4 189.6 L327.8 195.18 L328.2 200.2 L328.6 204.67 L329 208.58 L329.4 211.96 L329.8 214.83 L330.2 217.24 L330.6 219.23 L331 220.85 L331.4 222.17 L331.8 223.22 L332.2 224.06 L332.6 224.72 L333 225.25 L333.4 225.66 L333.8 225.99 L334.2 226.25 L334.6 226.45 L335 226.62 L335.4 226.76 L335.8 226.87 L336.2 226.97 L336.6 227.05 L337 227.12 L337.4 227.18 L337.8 227.24 L338.2 227.29 L338.6 227.34 L339 227.38 L339.4 227.42 L339.8 227.45 L340.2 227.49 L341 227.54 L341.8 227.59 L342.6 227.63 L343.4 227.67 L344.2 227.7 L345 227.72 L345.8 227.73 L346.6 227.75 L347.4 227.76 L348.2 227.77 L349 227.77 L349.8 227.77 L350.6 227.78 L351.4 227.77 L352.2 227.77 L353 227.75 L353.8 227.73 L354.6 227.7 L355.4 227.66 L356.2 227.6 L357 227.51 L357.8 227.41 L358.6 227.27 L359.4 227.11 L360.2 226.93 L361 226.74 L361.8 226.54 L362.6 226.34 L363.4 226.17 L364.2 226.03 L365 225.93 L365.8 225.89 L366.6 225.91 L367.4 225.98 L368.2 226.1 L369 226.25 L369.8 226.44 L370.6 226.64 L371.4 226.84 L372.2 227.03 L373 227.2 L373.8 227.34 L374.6 227.46 L375.4 227.56 L376.2 227.63 L377 227.69 L377.8 227.72 L378.6 227.75 L379.4 227.77 L380.2 227.78 L381 227.79 L381.8 227.79 L382.6 227.79 L383.4 227.79 L384.2 227.79 L385 227.79 L385.8 227.79" fill="none" stroke="#e0c848" stroke-width="0.5" stroke-opacity="0.9" stroke-linejoin="round"/>
<path d="M264.6 223.11 L265.4 226.16 L266.2 227.5 L267 227.94 L267.8 227.83 L268.6 227.27 L269.4 226.26 L270.2 224.74 L271 222.68 L271.8 220.19 L272.6 217.49 L273.4 214.9 L274.2 212.68 L275 210.95 L275.8 209.7 L276.6 208.82 L277.4 208.2 L278.2 207.76 L279 207.43 L279.8 207.17 L280.6 206.95 L281.4 206.75 L282.2 206.58 L283 206.43 L283.8 206.29 L284.6 206.17 L285.4 206.07 L286.2 205.99 L287 205.92 L287.8 205.86 L288.6 205.82 L289.4 205.78 L290.2 205.75 L291 205.73 L291.8 205.71 L292.6 205.7 L293.4 205.69 L294.2 205.68 L295 205.68 L295.8 205.67 L296.6 205.67 L297 205.67 L297.4 205.66 L297.8 205.66 L298.2 205.66 L298.6 205.66 L299 205.66 L299.4 205.66 L299.8 205.66 L300.2 205.66 L300.6 205.66 L301 205.66 L301.4 205.66 L301.8 205.66 L302.2 205.66 L302.6 205.66 L303 205.66 L303.4 205.66 L303.8 205.65 L304.2 205.65 L304.6 205.65 L305 205.65 L305.4 205.64 L305.8 205.63 L306.2 205.61 L306.6 205.59 L307 205.56 L307.4 205.5 L307.8 205.43 L308.2 205.32 L308.6 205.16 L309 204.94 L309.4 204.64 L309.8 204.22 L310.2 203.65 L310.6 202.89 L311 201.9 L311.4 200.6 L311.8 198.95 L312.2 196.87 L312.6 194.27 L313 191.1 L313.4 187.27 L313.8 182.71 L314.2 177.38 L314.6 171.24 L315 164.28 L315.4 156.53 L315.8 148.03 L316.2 138.9 L316.6 129.28 L317 119.34 L317.4 109.3 L317.8 99.43 L318.2 89.97 L318.6 81.23 L319 73.47 L319.4 66.96 L319.8 61.91 L320.2 58.52 L320.6 56.9 L321 57.19 L321.4 59.63 L321.8 64.14 L322.2 70.52 L322.6 78.5 L323 87.75 L323.4 97.91 L323.8 108.64 L324.2 119.59 L324.6 130.46 L325 141.01 L325.4 151.04 L325.8 160.4 L326.2 169.03 L326.6 176.87 L327 183.94 L327.4 190.26 L327.8 195.88 L328.2 200.85 L328.6 205.22 L329 209.03 L329.4 212.31 L329.8 215.11 L330.2 217.47 L330.6 219.42 L331 221.02 L331.4 222.31 L331.8 223.35 L332.2 224.17 L332.6 224.81 L333 225.32 L333.4 225.72 L333.8 226.03 L334.2 226.27 L334.6 226.47 L335 226.62 L335.4 226.74 L335.8 226.84 L336.2 226.92 L336.6 226.99 L337 227.05 L337.4 227.1 L337.8 227.14 L338.2 227.18 L338.6 227.21 L339 227.24 L339.4 227.26 L339.8 227.29 L340.2 227.31 L341 227.35 L341.8 227.38 L342.6 227.4 L343.4 227.42 L344.2 227.44 L345 227.45 L345.8 227.46 L346.6 227.47 L347.4 227.48 L348.2 227.48 L349 227.49 L349.8 227.49 L350.6 227.49 L351.4 227.49 L352.2 227.49 L353 227.48 L353.8 227.47 L354.6 227.46 L355.4 227.44 L356.2 227.42 L357 227.38 L357.8 227.34 L358.6 227.28 L359.4 227.22 L360.2 227.15 L361 227.07 L361.8 226.98 L362.6 226.9 L363.4 226.83 L364.2 226.77 L365 226.74 L365.8 226.72 L366.6 226.72 L367.4 226.75 L368.2 226.8 L369 226.87 L369.8 226.94 L370.6 227.03 L371.4 227.11 L372.2 227.18 L373 227.25 L373.8 227.31 L374.6 227.36 L375.4 227.4 L376.2 227.43 L377 227.45 L377.8 227.47 L378.6 227.48 L379.4 227.49 L380.2 227.49 L381 227.5 L381.8 227.5 L382.6 227.5 L383.4 227.5 L384.2 227.5 L385 227.5 L385.8 227.5" fill="none" stroke="#e0c848" stroke-width="0.5" stroke-opacity="0.9" stroke-linejoin="round"/>
<path d="M264.6 223.39 L265.4 226.06 L266.2 227.22 L267 227.58 L267.8 227.43 L268.6 226.86 L269.4 225.85 L270.2 224.35 L271 222.33 L271.8 219.87 L272.6 217.21 L273.4 214.66 L274.2 212.48 L275 210.78 L275.8 209.54 L276.6 208.67 L277.4 208.06 L278.2 207.63 L279 207.3 L279.8 207.04 L280.6 206.82 L281.4 206.63 L282.2 206.46 L283 206.31 L283.8 206.17 L284.6 206.05 L285.4 205.95 L286.2 205.87 L287 205.8 L287.8 205.74 L288.6 205.7 L289.4 205.66 L290.2 205.63 L291 205.61 L291.8 205.59 L292.6 205.58 L293.4 205.57 L294.2 205.56 L295 205.55 L295.8 205.55 L296.6 205.55 L297 205.54 L297.4 205.54 L297.8 205.54 L298.2 205.54 L298.6 205.54 L299 205.54 L299.4 205.54 L299.8 205.54 L300.2 205.54 L300.6 205.54 L301 205.54 L301.4 205.54 L301.8 205.54 L302.2 205.53 L302.6 205.53 L303 205.53 L303.4 205.53 L303.8 205.53 L304.2 205.53 L304.6 205.53 L305 205.52 L305.4 205.52 L305.8 205.51 L306.2 205.49 L306.6 205.47 L307 205.43 L307.4 205.38 L307.8 205.31 L308.2 205.19 L308.6 205.04 L309 204.81 L309.4 204.5 L309.8 204.07 L310.2 203.48 L310.6 202.71 L311 201.68 L311.4 200.35 L311.8 198.65 L312.2 196.5 L312.6 193.83 L313 190.57 L313.4 186.64 L313.8 181.98 L314.2 176.54 L314.6 170.29 L315 163.23 L315.4 155.4 L315.8 146.87 L316.2 137.75 L316.6 128.2 L317 118.41 L317.4 108.63 L317.8 99.1 L318.2 90.11 L318.6 81.94 L319 74.86 L319.4 69.12 L319.8 64.92 L320.2 62.43 L320.6 61.73 L321 62.71 L321.4 65.26 L321.8 69.29 L322.2 74.66 L322.6 81.2 L323 88.72 L323.4 97 L323.8 105.83 L324.2 114.98 L324.6 124.27 L325 133.51 L325.4 142.56 L325.8 151.3 L326.2 159.64 L326.6 167.52 L327 174.9 L327.4 181.76 L327.8 188.07 L328.2 193.83 L328.6 199.03 L329 203.66 L329.4 207.73 L329.8 211.26 L330.2 214.27 L330.6 216.79 L331 218.88 L331.4 220.59 L331.8 221.98 L332.2 223.09 L332.6 223.97 L333 224.67 L333.4 225.22 L333.8 225.66 L334.2 226.01 L334.6 226.29 L335 226.51 L335.4 226.69 L335.8 226.84 L336.2 226.96 L336.6 227.07 L337 227.16 L337.4 227.24 L337.8 227.31 L338.2 227.37 L338.6 227.43 L339 227.48 L339.4 227.53 L339.8 227.58 L340.2 227.62 L341 227.69 L341.8 227.75 L342.6 227.8 L343.4 227.84 L344.2 227.88 L345 227.9 L345.8 227.93 L346.6 227.94 L347.4 227.96 L348.2 227.97 L349 227.97 L349.8 227.98 L350.6 227.98 L351.4 227.98 L352.2 227.98 L353 227.97 L353.8 227.95 L354.6 227.93 L355.4 227.89 L356.2 227.85 L357 227.78 L357.8 227.7 L358.6 227.6 L359.4 227.47 L360.2 227.33 L361 227.18 L361.8 227.03 L362.6 226.88 L363.4 226.74 L364.2 226.63 L365 226.56 L365.8 226.53 L366.6 226.54 L367.4 226.59 L368.2 226.68 L369 226.81 L369.8 226.95 L370.6 227.11 L371.4 227.26 L372.2 227.41 L373 227.54 L373.8 227.65 L374.6 227.74 L375.4 227.82 L376.2 227.88 L377 227.92 L377.8 227.95 L378.6 227.97 L379.4 227.98 L380.2 227.99 L381 227.99 L381.8 228 L382.6 228 L383.4 228 L384.2 228 L385 228 L385.8 228" fill="none" stroke="#e0c848" stroke-width="0.5" stroke-opacity="0.9" stroke-linejoin="round"/>
<path d="M264.6 222.1 L265.4 222.79 L266.2 223.03 L267 223 L267.8 222.76 L268.6 222.29 L269.4 221.55 L270.2 220.47 L271 219.02 L271.8 217.28 L272.6 215.39 L273.4 213.57 L274.2 212.01 L275 210.79 L275.8 209.9 L276.6 209.26 L277.4 208.8 L278.2 208.46 L279 208.19 L279.8 207.97 L280.6 207.77 L281.4 207.59 L282.2 207.43 L283 207.28 L283.8 207.14 L284.6 207.03 L285.4 206.93 L286.2 206.85 L287 206.78 L287.8 206.72 L288.6 206.67 L289.4 206.64 L290.2 206.61 L291 206.59 L291.8 206.57 L292.6 206.56 L293.4 206.55 L294.2 206.54 L295 206.53 L295.8 206.53 L296.6 206.52 L297 206.52 L297.4 206.52 L297.8 206.52 L298.2 206.52 L298.6 206.52 L299 206.52 L299.4 206.52 L299.8 206.52 L300.2 206.52 L300.6 206.52 L301 206.51 L301.4 206.51 L301.8 206.51 L302.2 206.51 L302.6 206.51 L303 206.51 L303.4 206.51 L303.8 206.51 L304.2 206.5 L304.6 206.5 L305 206.49 L305.4 206.48 L305.8 206.46 L306.2 206.44 L306.6 206.4 L307 206.35 L307.4 206.27 L307.8 206.16 L308.2 206.01 L308.6 205.8 L309 205.52 L309.4 205.14 L309.8 204.62 L310.2 203.95 L310.6 203.07 L311 201.94 L311.4 200.51 L311.8 198.71 L312.2 196.49 L312.6 193.78 L313 190.51 L313.4 186.62 L313.8 182.06 L314.2 176.77 L314.6 170.74 L315 163.96 L315.4 156.44 L315.8 148.24 L316.2 139.44 L316.6 130.15 L317 120.53 L317.4 110.75 L317.8 101.03 L318.2 91.59 L318.6 82.68 L319 74.53 L319.4 67.38 L319.8 61.46 L320.2 56.93 L320.6 53.96 L321 52.63 L321.4 52.82 L321.8 54.05 L322.2 56.26 L322.6 59.41 L323 63.45 L323.4 68.29 L323.8 73.85 L324.2 80.05 L324.6 86.78 L325 93.95 L325.4 101.45 L325.8 109.2 L326.2 117.11 L326.6 125.1 L327 133.1 L327.4 141.03 L327.8 148.84 L328.2 156.46 L328.6 163.82 L329 170.85 L329.4 177.48 L329.8 183.67 L330.2 189.35 L330.6 194.51 L331 199.14 L331.4 203.25 L331.8 206.85 L332.2 209.99 L332.6 212.7 L333 215.03 L333.4 217.01 L333.8 218.7 L334.2 220.13 L334.6 221.33 L335 222.34 L335.4 223.18 L335.8 223.89 L336.2 224.47 L336.6 224.96 L337 225.37 L337.4 225.71 L337.8 225.99 L338.2 226.23 L338.6 226.43 L339 226.59 L339.4 226.73 L339.8 226.85 L340.2 226.95 L341 227.11 L341.8 227.23 L342.6 227.32 L343.4 227.39 L344.2 227.44 L345 227.48 L345.8 227.51 L346.6 227.54 L347.4 227.56 L348.2 227.57 L349 227.58 L349.8 227.59 L350.6 227.6 L351.4 227.6 L352.2 227.6 L353 227.59 L353.8 227.58 L354.6 227.57 L355.4 227.54 L356.2 227.51 L357 227.46 L357.8 227.39 L358.6 227.32 L359.4 227.22 L360.2 227.12 L361 227 L361.8 226.88 L362.6 226.77 L363.4 226.66 L364.2 226.58 L365 226.52 L365.8 226.5 L366.6 226.51 L367.4 226.55 L368.2 226.62 L369 226.71 L369.8 226.82 L370.6 226.94 L371.4 227.06 L372.2 227.17 L373 227.27 L373.8 227.36 L374.6 227.43 L375.4 227.49 L376.2 227.53 L377 227.56 L377.8 227.58 L378.6 227.6 L379.4 227.61 L380.2 227.62 L381 227.62 L381.8 227.62 L382.6 227.62 L383.4 227.62 L384.2 227.63 L385 227.63 L385.8 227.63" fill="none" stroke="#40b8a0" stroke-width="0.5" stroke-opacity="0.9" stroke-linejoin="round"/>
<path d="M264.6 219.29 L265.4 222.57 L266.2 224.03 L267 224.56 L267.8 224.52 L268.6 224.06 L269.4 223.18 L270.2 221.85 L271 220.05 L271.8 217.86 L272.6 215.48 L273.4 213.2 L274.2 211.25 L275 209.72 L275.8 208.61 L276.6 207.83 L277.4 207.27 L278.2 206.87 L279 206.57 L279.8 206.32 L280.6 206.11 L281.4 205.92 L282.2 205.75 L283 205.6 L283.8 205.47 L284.6 205.35 L285.4 205.25 L286.2 205.17 L287 205.1 L287.8 205.04 L288.6 205 L289.4 204.96 L290.2 204.93 L291 204.91 L291.8 204.89 L292.6 204.88 L293.4 204.87 L294.2 204.86 L295 204.85 L295.8 204.85 L296.6 204.85 L297 204.84 L297.4 204.84 L297.8 204.84 L298.2 204.84 L298.6 204.84 L299 204.84 L299.4 204.84 L299.8 204.84 L300.2 204.84 L300.6 204.83 L301 204.83 L301.4 204.83 L301.8 204.83 L302.2 204.82 L302.6 204.82 L303 204.81 L303.4 204.8 L303.8 204.78 L304.2 204.76 L304.6 204.73 L305 204.68 L305.4 204.62 L305.8 204.54 L306.2 204.42 L306.6 204.27 L307 204.06 L307.4 203.8 L307.8 203.45 L308.2 202.99 L308.6 202.42 L309 201.69 L309.4 200.77 L309.8 199.64 L310.2 198.24 L310.6 196.54 L311 194.5 L311.4 192.06 L311.8 189.19 L312.2 185.84 L312.6 181.96 L313 177.54 L313.4 172.54 L313.8 166.96 L314.2 160.81 L314.6 154.09 L315 146.86 L315.4 139.18 L315.8 131.12 L316.2 122.79 L316.6 114.31 L317 105.83 L317.4 97.49 L317.8 89.46 L318.2 81.9 L318.6 74.99 L319 68.88 L319.4 63.72 L319.8 59.64 L320.2 56.75 L320.6 55.11 L321 54.76 L321.4 55.45 L321.8 57.03 L322.2 59.48 L322.6 62.76 L323 66.81 L323.4 71.58 L323.8 76.98 L324.2 82.94 L324.6 89.37 L325 96.2 L325.4 103.34 L325.8 110.72 L326.2 118.27 L326.6 125.92 L327 133.61 L327.4 141.27 L327.8 148.85 L328.2 156.28 L328.6 163.47 L329 170.36 L329.4 176.88 L329.8 182.96 L330.2 188.56 L330.6 193.65 L331 198.23 L331.4 202.31 L331.8 205.9 L332.2 209.05 L332.6 211.78 L333 214.15 L333.4 216.19 L333.8 217.94 L334.2 219.44 L334.6 220.71 L335 221.79 L335.4 222.7 L335.8 223.48 L336.2 224.13 L336.6 224.68 L337 225.15 L337.4 225.54 L337.8 225.87 L338.2 226.15 L338.6 226.38 L339 226.58 L339.4 226.75 L339.8 226.9 L340.2 227.02 L341 227.22 L341.8 227.37 L342.6 227.48 L343.4 227.57 L344.2 227.64 L345 227.69 L345.8 227.73 L346.6 227.76 L347.4 227.79 L348.2 227.8 L349 227.82 L349.8 227.83 L350.6 227.84 L351.4 227.84 L352.2 227.84 L353 227.83 L353.8 227.81 L354.6 227.78 L355.4 227.74 L356.2 227.68 L357 227.6 L357.8 227.5 L358.6 227.37 L359.4 227.22 L360.2 227.05 L361 226.86 L361.8 226.67 L362.6 226.48 L363.4 226.32 L364.2 226.18 L365 226.09 L365.8 226.05 L366.6 226.06 L367.4 226.13 L368.2 226.24 L369 226.4 L369.8 226.58 L370.6 226.77 L371.4 226.96 L372.2 227.14 L373 227.3 L373.8 227.44 L374.6 227.56 L375.4 227.65 L376.2 227.72 L377 227.77 L377.8 227.81 L378.6 227.83 L379.4 227.85 L380.2 227.86 L381 227.87 L381.8 227.87 L382.6 227.87 L383.4 227.88 L384.2 227.88 L385 227.88 L385.8 227.88" fill="none" stroke="#40b8a0" stroke-width="0.5" stroke-opacity="0.9" stroke-linejoin="round"/>
<path d="M264.6 219.19 L265.4 220.7 L266.2 221.33 L267 221.5 L267.8 221.36 L268.6 220.95 L269.4 220.26 L270.2 219.23 L271 217.85 L271.8 216.17 L272.6 214.36 L273.4 212.61 L274.2 211.12 L275 209.94 L275.8 209.08 L276.6 208.46 L277.4 208.02 L278.2 207.69 L279 207.43 L279.8 207.21 L280.6 207.01 L281.4 206.83 L282.2 206.67 L283 206.52 L283.8 206.39 L284.6 206.27 L285.4 206.17 L286.2 206.09 L287 206.02 L287.8 205.96 L288.6 205.92 L289.4 205.88 L290.2 205.85 L291 205.83 L291.8 205.82 L292.6 205.8 L293.4 205.79 L294.2 205.78 L295 205.78 L295.8 205.77 L296.6 205.77 L297 205.77 L297.4 205.77 L297.8 205.76 L298.2 205.76 L298.6 205.76 L299 205.76 L299.4 205.76 L299.8 205.76 L300.2 205.76 L300.6 205.76 L301 205.76 L301.4 205.76 L301.8 205.76 L302.2 205.76 L302.6 205.76 L303 205.76 L303.4 205.75 L303.8 205.75 L304.2 205.75 L304.6 205.74 L305 205.73 L305.4 205.71 L305.8 205.69 L306.2 205.66 L306.6 205.61 L307 205.54 L307.4 205.45 L307.8 205.31 L308.2 205.13 L308.6 204.88 L309 204.54 L309.4 204.09 L309.8 203.5 L310.2 202.72 L310.6 201.73 L311 200.47 L311.4 198.89 L311.8 196.93 L312.2 194.54 L312.6 191.64 L313 188.2 L313.4 184.14 L313.8 179.42 L314.2 174.02 L314.6 167.93 L315 161.14 L315.4 153.69 L315.8 145.65 L316.2 137.11 L316.6 128.19 L317 119.04 L317.4 109.86 L317.8 100.83 L318.2 92.17 L318.6 84.11 L319 76.87 L319.4 70.66 L319.8 65.66 L320.2 62.03 L320.6 59.88 L321 59.28 L321.4 60.09 L321.8 62.16 L322.2 65.44 L322.6 69.85 L323 75.27 L323.4 81.59 L323.8 88.64 L324.2 96.28 L324.6 104.36 L325 112.73 L325.4 121.25 L325.8 129.8 L326.2 138.27 L326.6 146.57 L327 154.64 L327.4 162.4 L327.8 169.8 L328.2 176.8 L328.6 183.34 L329 189.4 L329.4 194.93 L329.8 199.91 L330.2 204.33 L330.6 208.19 L331 211.51 L331.4 214.34 L331.8 216.72 L332.2 218.69 L332.6 220.32 L333 221.66 L333.4 222.74 L333.8 223.62 L334.2 224.32 L334.6 224.89 L335 225.34 L335.4 225.71 L335.8 226 L336.2 226.24 L336.6 226.43 L337 226.59 L337.4 226.71 L337.8 226.82 L338.2 226.91 L338.6 226.98 L339 227.05 L339.4 227.1 L339.8 227.15 L340.2 227.19 L341 227.26 L341.8 227.32 L342.6 227.36 L343.4 227.39 L344.2 227.42 L345 227.44 L345.8 227.46 L346.6 227.47 L347.4 227.48 L348.2 227.48 L349 227.49 L349.8 227.49 L350.6 227.49 L351.4 227.49 L352.2 227.48 L353 227.47 L353.8 227.45 L354.6 227.42 L355.4 227.37 L356.2 227.31 L357 227.23 L357.8 227.12 L358.6 226.98 L359.4 226.82 L360.2 226.64 L361 226.45 L361.8 226.24 L362.6 226.05 L363.4 225.87 L364.2 225.73 L365 225.63 L365.8 225.59 L366.6 225.6 L367.4 225.68 L368.2 225.8 L369 225.96 L369.8 226.14 L370.6 226.35 L371.4 226.55 L372.2 226.74 L373 226.91 L373.8 227.05 L374.6 227.18 L375.4 227.27 L376.2 227.35 L377 227.4 L377.8 227.44 L378.6 227.47 L379.4 227.48 L380.2 227.49 L381 227.5 L381.8 227.5 L382.6 227.51 L383.4 227.51 L384.2 227.51 L385 227.51 L385.8 227.51" fill="none" stroke="#40b8a0" stroke-width="0.5" stroke-opacity="0.9" stroke-linejoin="round"/>
<path d="M264.6 222.71 L265.4 223.39 L266.2 223.62 L267 223.58 L267.8 223.3 L268.6 222.79 L269.4 221.97 L270.2 220.79 L271 219.22 L271.8 217.31 L272.6 215.24 L273.4 213.26 L274.2 211.56 L275 210.23 L275.8 209.26 L276.6 208.57 L277.4 208.08 L278.2 207.72 L279 207.44 L279.8 207.2 L280.6 207 L281.4 206.82 L282.2 206.65 L283 206.5 L283.8 206.37 L284.6 206.25 L285.4 206.15 L286.2 206.07 L287 206 L287.8 205.94 L288.6 205.9 L289.4 205.86 L290.2 205.83 L291 205.81 L291.8 205.8 L292.6 205.78 L293.4 205.77 L294.2 205.76 L295 205.76 L295.8 205.75 L296.6 205.75 L297 205.75 L297.4 205.75 L297.8 205.74 L298.2 205.74 L298.6 205.74 L299 205.74 L299.4 205.74 L299.8 205.74 L300.2 205.74 L300.6 205.74 L301 205.74 L301.4 205.74 L301.8 205.74 L302.2 205.74 L302.6 205.74 L303 205.73 L303.4 205.73 L303.8 205.73 L304.2 205.72 L304.6 205.71 L305 205.7 L305.4 205.68 L305.8 205.66 L306.2 205.62 L306.6 205.57 L307 205.49 L307.4 205.38 L307.8 205.23 L308.2 205.03 L308.6 204.75 L309 204.38 L309.4 203.89 L309.8 203.24 L310.2 202.41 L310.6 201.34 L311 200 L311.4 198.32 L311.8 196.25 L312.2 193.73 L312.6 190.71 L313 187.11 L313.4 182.9 L313.8 178.03 L314.2 172.47 L314.6 166.21 L315 159.27 L315.4 151.68 L315.8 143.52 L316.2 134.87 L316.6 125.86 L317 116.66 L317.4 107.43 L317.8 98.38 L318.2 89.74 L318.6 81.71 L319 74.51 L319.4 68.35 L319.8 63.42 L320.2 59.85 L320.6 57.77 L321 57.23 L321.4 58.02 L321.8 59.97 L322.2 63.05 L322.6 67.17 L323 72.26 L323.4 78.18 L323.8 84.83 L324.2 92.07 L324.6 99.77 L325 107.8 L325.4 116.03 L325.8 124.36 L326.2 132.69 L326.6 140.93 L327 149 L327.4 156.85 L327.8 164.4 L328.2 171.62 L328.6 178.43 L329 184.79 L329.4 190.64 L329.8 195.97 L330.2 200.74 L330.6 204.95 L331 208.62 L331.4 211.78 L331.8 214.46 L332.2 216.73 L332.6 218.62 L333 220.19 L333.4 221.48 L333.8 222.54 L334.2 223.4 L334.6 224.1 L335 224.67 L335.4 225.13 L335.8 225.5 L336.2 225.8 L336.6 226.04 L337 226.23 L337.4 226.39 L337.8 226.52 L338.2 226.63 L338.6 226.71 L339 226.79 L339.4 226.85 L339.8 226.9 L340.2 226.94 L341 227.01 L341.8 227.06 L342.6 227.1 L343.4 227.13 L344.2 227.15 L345 227.17 L345.8 227.18 L346.6 227.19 L347.4 227.2 L348.2 227.2 L349 227.21 L349.8 227.21 L350.6 227.21 L351.4 227.21 L352.2 227.2 L353 227.19 L353.8 227.18 L354.6 227.15 L355.4 227.12 L356.2 227.07 L357 227 L357.8 226.92 L358.6 226.81 L359.4 226.69 L360.2 226.54 L361 226.39 L361.8 226.23 L362.6 226.08 L363.4 225.94 L364.2 225.83 L365 225.75 L365.8 225.71 L366.6 225.73 L367.4 225.78 L368.2 225.88 L369 226 L369.8 226.15 L370.6 226.31 L371.4 226.47 L372.2 226.62 L373 226.75 L373.8 226.87 L374.6 226.96 L375.4 227.04 L376.2 227.1 L377 227.14 L377.8 227.17 L378.6 227.19 L379.4 227.2 L380.2 227.21 L381 227.22 L381.8 227.22 L382.6 227.22 L383.4 227.22 L384.2 227.22 L385 227.23 L385.8 227.23" fill="none" stroke="#40b8a0" stroke-width="0.5" stroke-opacity="0.9" stroke-linejoin="round"/>
<path d="M264.6 217.98 L265.4 218.68 L266.2 218.94 L267 218.93 L267.8 218.71 L268.6 218.29 L269.4 217.62 L270.2 216.64 L271 215.33 L271.8 213.74 L272.6 212.02 L273.4 210.37 L274.2 208.95 L275 207.84 L275.8 207.02 L276.6 206.43 L277.4 206 L278.2 205.69 L279 205.43 L279.8 205.22 L280.6 205.02 L281.4 204.85 L282.2 204.69 L283 204.54 L283.8 204.41 L284.6 204.29 L285.4 204.19 L286.2 204.11 L287 204.04 L287.8 203.98 L288.6 203.94 L289.4 203.9 L290.2 203.87 L291 203.85 L291.8 203.83 L292.6 203.82 L293.4 203.81 L294.2 203.8 L295 203.8 L295.8 203.79 L296.6 203.79 L297 203.79 L297.4 203.78 L297.8 203.78 L298.2 203.78 L298.6 203.78 L299 203.78 L299.4 203.78 L299.8 203.78 L300.2 203.78 L300.6 203.78 L301 203.77 L301.4 203.77 L301.8 203.77 L302.2 203.77 L302.6 203.76 L303 203.75 L303.4 203.74 L303.8 203.73 L304.2 203.71 L304.6 203.69 L305 203.65 L305.4 203.6 L305.8 203.54 L306.2 203.46 L306.6 203.35 L307 203.21 L307.4 203.03 L307.8 202.79 L308.2 202.49 L308.6 202.11 L309 201.63 L309.4 201.04 L309.8 200.3 L310.2 199.4 L310.6 198.31 L311 196.99 L311.4 195.41 L311.8 193.54 L312.2 191.33 L312.6 188.76 L313 185.8 L313.4 182.39 L313.8 178.53 L314.2 174.18 L314.6 169.33 L315 163.97 L315.4 158.1 L315.8 151.75 L316.2 144.93 L316.6 137.7 L317 130.11 L317.4 122.23 L317.8 114.15 L318.2 105.98 L318.6 97.83 L319 89.82 L319.4 82.08 L319.8 74.74 L320.2 67.94 L320.6 61.8 L321 56.45 L321.4 51.99 L321.8 48.52 L322.2 46.1 L322.6 44.8 L323 44.62 L323.4 45.29 L323.8 46.72 L324.2 48.89 L324.6 51.78 L325 55.34 L325.4 59.54 L325.8 64.33 L326.2 69.65 L326.6 75.45 L327 81.66 L327.4 88.25 L327.8 95.14 L328.2 102.3 L328.6 109.66 L329 117.18 L329.4 124.8 L329.8 132.46 L330.2 140.08 L330.6 147.58 L331 154.89 L331.4 161.92 L331.8 168.59 L332.2 174.85 L332.6 180.65 L333 185.99 L333.4 190.84 L333.8 195.24 L334.2 199.19 L334.6 202.73 L335 205.88 L335.4 208.69 L335.8 211.17 L336.2 213.36 L336.6 215.29 L337 216.98 L337.4 218.46 L337.8 219.75 L338.2 220.88 L338.6 221.86 L339 222.7 L339.4 223.43 L339.8 224.06 L340.2 224.6 L341 225.47 L341.8 226.1 L342.6 226.56 L343.4 226.9 L344.2 227.14 L345 227.32 L345.8 227.46 L346.6 227.55 L347.4 227.63 L348.2 227.68 L349 227.73 L349.8 227.76 L350.6 227.79 L351.4 227.8 L352.2 227.81 L353 227.81 L353.8 227.81 L354.6 227.79 L355.4 227.76 L356.2 227.71 L357 227.64 L357.8 227.56 L358.6 227.45 L359.4 227.32 L360.2 227.17 L361 227 L361.8 226.83 L362.6 226.67 L363.4 226.52 L364.2 226.41 L365 226.32 L365.8 226.29 L366.6 226.3 L367.4 226.36 L368.2 226.46 L369 226.6 L369.8 226.76 L370.6 226.92 L371.4 227.09 L372.2 227.25 L373 227.39 L373.8 227.52 L374.6 227.62 L375.4 227.7 L376.2 227.76 L377 227.81 L377.8 227.84 L378.6 227.86 L379.4 227.88 L380.2 227.89 L381 227.89 L381.8 227.9 L382.6 227.9 L383.4 227.9 L384.2 227.9 L385 227.9 L385.8 227.9" fill="none" stroke="#58b8e8" stroke-width="0.5" stroke-opacity="0.9" stroke-linejoin="round"/>
<path d="M264.6 218.31 L265.4 219.01 L266.2 219.26 L267 219.26 L267.8 219.05 L268.6 218.64 L269.4 217.97 L270.2 217.01 L271 215.73 L271.8 214.17 L272.6 212.48 L273.4 210.86 L274.2 209.47 L275 208.38 L275.8 207.57 L276.6 206.99 L277.4 206.57 L278.2 206.26 L279 206.01 L279.8 205.79 L280.6 205.6 L281.4 205.43 L282.2 205.26 L283 205.12 L283.8 204.98 L284.6 204.87 L285.4 204.77 L286.2 204.69 L287 204.62 L287.8 204.56 L288.6 204.52 L289.4 204.48 L290.2 204.45 L291 204.43 L291.8 204.41 L292.6 204.4 L293.4 204.39 L294.2 204.38 L295 204.37 L295.8 204.37 L296.6 204.37 L297 204.36 L297.4 204.36 L297.8 204.36 L298.2 204.36 L298.6 204.36 L299 204.36 L299.4 204.36 L299.8 204.36 L300.2 204.36 L300.6 204.35 L301 204.35 L301.4 204.35 L301.8 204.35 L302.2 204.34 L302.6 204.34 L303 204.33 L303.4 204.32 L303.8 204.3 L304.2 204.28 L304.6 204.25 L305 204.21 L305.4 204.16 L305.8 204.09 L306.2 204 L306.6 203.88 L307 203.73 L307.4 203.53 L307.8 203.28 L308.2 202.96 L308.6 202.55 L309 202.05 L309.4 201.42 L309.8 200.66 L310.2 199.73 L310.6 198.6 L311 197.25 L311.4 195.64 L311.8 193.74 L312.2 191.52 L312.6 188.95 L313 185.99 L313.4 182.62 L313.8 178.81 L314.2 174.54 L314.6 169.81 L315 164.61 L315.4 158.94 L315.8 152.83 L316.2 146.31 L316.6 139.43 L317 132.25 L317.4 124.83 L317.8 117.27 L318.2 109.66 L318.6 102.12 L319 94.75 L319.4 87.67 L319.8 81.02 L320.2 74.9 L320.6 69.44 L321 64.75 L321.4 60.91 L321.8 58 L322.2 56.09 L322.6 55.22 L323 55.34 L323.4 56.17 L323.8 57.69 L324.2 59.87 L324.6 62.7 L325 66.13 L325.4 70.14 L325.8 74.67 L326.2 79.68 L326.6 85.12 L327 90.94 L327.4 97.09 L327.8 103.53 L328.2 110.22 L328.6 117.1 L329 124.13 L329.4 131.26 L329.8 138.42 L330.2 145.55 L330.6 152.57 L331 159.39 L331.4 165.94 L331.8 172.14 L332.2 177.96 L332.6 183.35 L333 188.3 L333.4 192.81 L333.8 196.89 L334.2 200.57 L334.6 203.86 L335 206.81 L335.4 209.43 L335.8 211.76 L336.2 213.82 L336.6 215.64 L337 217.24 L337.4 218.65 L337.8 219.88 L338.2 220.96 L338.6 221.89 L339 222.71 L339.4 223.41 L339.8 224.02 L340.2 224.55 L341 225.39 L341.8 226.01 L342.6 226.46 L343.4 226.79 L344.2 227.04 L345 227.21 L345.8 227.35 L346.6 227.44 L347.4 227.52 L348.2 227.57 L349 227.62 L349.8 227.65 L350.6 227.67 L351.4 227.69 L352.2 227.7 L353 227.7 L353.8 227.7 L354.6 227.68 L355.4 227.65 L356.2 227.61 L357 227.55 L357.8 227.47 L358.6 227.37 L359.4 227.24 L360.2 227.1 L361 226.95 L361.8 226.8 L362.6 226.64 L363.4 226.51 L364.2 226.4 L365 226.32 L365.8 226.29 L366.6 226.3 L367.4 226.36 L368.2 226.45 L369 226.58 L369.8 226.72 L370.6 226.88 L371.4 227.04 L372.2 227.19 L373 227.32 L373.8 227.43 L374.6 227.53 L375.4 227.6 L376.2 227.66 L377 227.7 L377.8 227.73 L378.6 227.75 L379.4 227.77 L380.2 227.78 L381 227.78 L381.8 227.79 L382.6 227.79 L383.4 227.79 L384.2 227.79 L385 227.79 L385.8 227.79" fill="none" stroke="#58b8e8" stroke-width="0.5" stroke-opacity="0.9" stroke-linejoin="round"/>
<path d="M264.6 217.43 L265.4 218.14 L266.2 218.42 L267 218.44 L267.8 218.27 L268.6 217.92 L269.4 217.35 L270.2 216.53 L271 215.42 L271.8 214.08 L272.6 212.63 L273.4 211.23 L274.2 210.03 L275 209.09 L275.8 208.39 L276.6 207.88 L277.4 207.5 L278.2 207.22 L279 206.98 L279.8 206.78 L280.6 206.6 L281.4 206.42 L282.2 206.27 L283 206.12 L283.8 205.99 L284.6 205.87 L285.4 205.77 L286.2 205.69 L287 205.62 L287.8 205.57 L288.6 205.52 L289.4 205.49 L290.2 205.46 L291 205.44 L291.8 205.42 L292.6 205.4 L293.4 205.39 L294.2 205.39 L295 205.38 L295.8 205.37 L296.6 205.37 L297 205.37 L297.4 205.36 L297.8 205.36 L298.2 205.36 L298.6 205.35 L299 205.35 L299.4 205.34 L299.8 205.33 L300.2 205.32 L300.6 205.31 L301 205.29 L301.4 205.27 L301.8 205.23 L302.2 205.19 L302.6 205.14 L303 205.07 L303.4 204.98 L303.8 204.87 L304.2 204.73 L304.6 204.56 L305 204.34 L305.4 204.07 L305.8 203.74 L306.2 203.33 L306.6 202.84 L307 202.24 L307.4 201.52 L307.8 200.67 L308.2 199.65 L308.6 198.46 L309 197.06 L309.4 195.43 L309.8 193.55 L310.2 191.4 L310.6 188.93 L311 186.15 L311.4 183.01 L311.8 179.5 L312.2 175.61 L312.6 171.33 L313 166.64 L313.4 161.55 L313.8 156.07 L314.2 150.2 L314.6 143.98 L315 137.44 L315.4 130.62 L315.8 123.56 L316.2 116.33 L316.6 109.01 L317 101.65 L317.4 94.35 L317.8 87.2 L318.2 80.28 L318.6 73.69 L319 67.51 L319.4 61.85 L319.8 56.79 L320.2 52.39 L320.6 48.74 L321 45.9 L321.4 43.9 L321.8 42.79 L322.2 42.58 L322.6 43.22 L323 44.7 L323.4 46.98 L323.8 50.04 L324.2 53.84 L324.6 58.31 L325 63.41 L325.4 69.07 L325.8 75.23 L326.2 81.82 L326.6 88.77 L327 96.02 L327.4 103.51 L327.8 111.18 L328.2 118.96 L328.6 126.81 L329 134.65 L329.4 142.41 L329.8 150.02 L330.2 157.39 L330.6 164.45 L331 171.12 L331.4 177.36 L331.8 183.12 L332.2 188.39 L332.6 193.17 L333 197.47 L333.4 201.32 L333.8 204.74 L334.2 207.77 L334.6 210.45 L335 212.8 L335.4 214.86 L335.8 216.67 L336.2 218.23 L336.6 219.6 L337 220.78 L337.4 221.8 L337.8 222.68 L338.2 223.43 L338.6 224.08 L339 224.64 L339.4 225.11 L339.8 225.52 L340.2 225.86 L341 226.41 L341.8 226.81 L342.6 227.1 L343.4 227.32 L344.2 227.47 L345 227.59 L345.8 227.68 L346.6 227.75 L347.4 227.8 L348.2 227.84 L349 227.87 L349.8 227.89 L350.6 227.91 L351.4 227.92 L352.2 227.93 L353 227.93 L353.8 227.93 L354.6 227.92 L355.4 227.91 L356.2 227.88 L357 227.84 L357.8 227.8 L358.6 227.74 L359.4 227.66 L360.2 227.58 L361 227.49 L361.8 227.39 L362.6 227.3 L363.4 227.22 L364.2 227.16 L365 227.11 L365.8 227.09 L366.6 227.1 L367.4 227.13 L368.2 227.19 L369 227.26 L369.8 227.35 L370.6 227.45 L371.4 227.54 L372.2 227.63 L373 227.71 L373.8 227.78 L374.6 227.83 L375.4 227.88 L376.2 227.91 L377 227.94 L377.8 227.96 L378.6 227.97 L379.4 227.98 L380.2 227.98 L381 227.99 L381.8 227.99 L382.6 227.99 L383.4 227.99 L384.2 227.99 L385 227.99 L385.8 227.99" fill="none" stroke="#58b8e8" stroke-width="0.5" stroke-opacity="0.9" stroke-linejoin="round"/>
<path d="M264.6 214.27 L265.4 216.05 L266.2 216.84 L267 217.12 L267.8 217.08 L268.6 216.8 L269.4 216.28 L270.2 215.5 L271 214.44 L271.8 213.16 L272.6 211.76 L273.4 210.42 L274.2 209.27 L275 208.36 L275.8 207.68 L276.6 207.19 L277.4 206.83 L278.2 206.55 L279 206.32 L279.8 206.12 L280.6 205.93 L281.4 205.76 L282.2 205.6 L283 205.46 L283.8 205.33 L284.6 205.21 L285.4 205.11 L286.2 205.03 L287 204.96 L287.8 204.91 L288.6 204.86 L289.4 204.82 L290.2 204.8 L291 204.77 L291.8 204.76 L292.6 204.74 L293.4 204.73 L294.2 204.73 L295 204.72 L295.8 204.71 L296.6 204.71 L297 204.71 L297.4 204.71 L297.8 204.71 L298.2 204.71 L298.6 204.7 L299 204.7 L299.4 204.7 L299.8 204.7 L300.2 204.7 L300.6 204.7 L301 204.7 L301.4 204.69 L301.8 204.69 L302.2 204.69 L302.6 204.68 L303 204.67 L303.4 204.66 L303.8 204.64 L304.2 204.61 L304.6 204.58 L305 204.54 L305.4 204.48 L305.8 204.4 L306.2 204.3 L306.6 204.16 L307 203.99 L307.4 203.77 L307.8 203.48 L308.2 203.12 L308.6 202.67 L309 202.1 L309.4 201.4 L309.8 200.55 L310.2 199.5 L310.6 198.24 L311 196.74 L311.4 194.95 L311.8 192.84 L312.2 190.37 L312.6 187.52 L313 184.25 L313.4 180.53 L313.8 176.33 L314.2 171.64 L314.6 166.45 L315 160.75 L315.4 154.57 L315.8 147.92 L316.2 140.85 L316.6 133.4 L317 125.65 L317.4 117.68 L317.8 109.59 L318.2 101.48 L318.6 93.48 L319 85.7 L319.4 78.29 L319.8 71.37 L320.2 65.06 L320.6 59.5 L321 54.79 L321.4 51.03 L321.8 48.29 L322.2 46.64 L322.6 46.11 L323 46.56 L323.4 47.83 L323.8 49.91 L324.2 52.75 L324.6 56.34 L325 60.6 L325.4 65.5 L325.8 70.96 L326.2 76.92 L326.6 83.33 L327 90.1 L327.4 97.19 L327.8 104.52 L328.2 112.04 L328.6 119.69 L329 127.42 L329.4 135.16 L329.8 142.84 L330.2 150.38 L330.6 157.7 L331 164.73 L331.4 171.4 L331.8 177.63 L332.2 183.4 L332.6 188.68 L333 193.47 L333.4 197.78 L333.8 201.63 L334.2 205.05 L334.6 208.08 L335 210.75 L335.4 213.09 L335.8 215.14 L336.2 216.93 L336.6 218.48 L337 219.83 L337.4 221 L337.8 222.01 L338.2 222.88 L338.6 223.62 L339 224.26 L339.4 224.81 L339.8 225.27 L340.2 225.67 L341 226.3 L341.8 226.76 L342.6 227.09 L343.4 227.33 L344.2 227.51 L345 227.64 L345.8 227.74 L346.6 227.81 L347.4 227.87 L348.2 227.91 L349 227.94 L349.8 227.97 L350.6 227.99 L351.4 228 L352.2 228 L353 228 L353.8 227.98 L354.6 227.96 L355.4 227.92 L356.2 227.85 L357 227.77 L357.8 227.66 L358.6 227.53 L359.4 227.36 L360.2 227.18 L361 226.98 L361.8 226.77 L362.6 226.57 L363.4 226.39 L364.2 226.25 L365 226.15 L365.8 226.1 L366.6 226.12 L367.4 226.19 L368.2 226.32 L369 226.48 L369.8 226.67 L370.6 226.88 L371.4 227.09 L372.2 227.28 L373 227.46 L373.8 227.61 L374.6 227.73 L375.4 227.83 L376.2 227.91 L377 227.96 L377.8 228 L378.6 228.03 L379.4 228.05 L380.2 228.06 L381 228.07 L381.8 228.07 L382.6 228.07 L383.4 228.07 L384.2 228.07 L385 228.07 L385.8 228.07" fill="none" stroke="#58b8e8" stroke-width="0.5" stroke-opacity="0.9" stroke-linejoin="round"/>
<path d="M264.6 214.94 L265.4 215.93 L266.2 216.35 L267 216.44 L267.8 216.32 L268.6 216 L269.4 215.47 L270.2 214.69 L271 213.64 L271.8 212.36 L272.6 210.98 L273.4 209.66 L274.2 208.51 L275 207.61 L275.8 206.94 L276.6 206.45 L277.4 206.1 L278.2 205.82 L279 205.59 L279.8 205.39 L280.6 205.21 L281.4 205.04 L282.2 204.88 L283 204.73 L283.8 204.6 L284.6 204.49 L285.4 204.39 L286.2 204.31 L287 204.24 L287.8 204.18 L288.6 204.14 L289.4 204.1 L290.2 204.07 L291 204.05 L291.8 204.03 L292.6 204.02 L293.4 204.01 L294.2 204 L295 203.99 L295.8 203.99 L296.6 203.99 L297 203.98 L297.4 203.98 L297.8 203.98 L298.2 203.98 L298.6 203.98 L299 203.98 L299.4 203.98 L299.8 203.98 L300.2 203.97 L300.6 203.97 L301 203.97 L301.4 203.97 L301.8 203.96 L302.2 203.96 L302.6 203.95 L303 203.94 L303.4 203.93 L303.8 203.91 L304.2 203.89 L304.6 203.85 L305 203.81 L305.4 203.75 L305.8 203.68 L306.2 203.58 L306.6 203.45 L307 203.28 L307.4 203.07 L307.8 202.79 L308.2 202.45 L308.6 202.02 L309 201.49 L309.4 200.83 L309.8 200.02 L310.2 199.05 L310.6 197.87 L311 196.47 L311.4 194.8 L311.8 192.85 L312.2 190.57 L312.6 187.93 L313 184.9 L313.4 181.46 L313.8 177.58 L314.2 173.25 L314.6 168.44 L315 163.17 L315.4 157.43 L315.8 151.25 L316.2 144.66 L316.6 137.71 L317 130.44 L317.4 122.94 L317.8 115.29 L318.2 107.57 L318.6 99.91 L319 92.4 L319.4 85.18 L319.8 78.35 L320.2 72.04 L320.6 66.37 L321 61.43 L321.4 57.34 L321.8 54.16 L322.2 51.96 L322.6 50.8 L323 50.67 L323.4 51.31 L323.8 52.65 L324.2 54.68 L324.6 57.37 L325 60.69 L325.4 64.6 L325.8 69.05 L326.2 74.01 L326.6 79.42 L327 85.24 L327.4 91.41 L327.8 97.9 L328.2 104.65 L328.6 111.62 L329 118.76 L329.4 126.02 L329.8 133.34 L330.2 140.65 L330.6 147.87 L331 154.92 L331.4 161.73 L331.8 168.2 L332.2 174.3 L332.6 179.97 L333 185.2 L333.4 189.98 L333.8 194.32 L334.2 198.24 L334.6 201.77 L335 204.93 L335.4 207.75 L335.8 210.26 L336.2 212.49 L336.6 214.46 L337 216.2 L337.4 217.74 L337.8 219.09 L338.2 220.27 L338.6 221.3 L339 222.19 L339.4 222.97 L339.8 223.65 L340.2 224.23 L341 225.17 L341.8 225.87 L342.6 226.38 L343.4 226.75 L344.2 227.02 L345 227.23 L345.8 227.37 L346.6 227.49 L347.4 227.57 L348.2 227.63 L349 227.68 L349.8 227.72 L350.6 227.74 L351.4 227.76 L352.2 227.78 L353 227.78 L353.8 227.78 L354.6 227.76 L355.4 227.74 L356.2 227.7 L357 227.65 L357.8 227.58 L358.6 227.48 L359.4 227.38 L360.2 227.25 L361 227.11 L361.8 226.97 L362.6 226.84 L363.4 226.71 L364.2 226.61 L365 226.55 L365.8 226.52 L366.6 226.53 L367.4 226.58 L368.2 226.66 L369 226.78 L369.8 226.91 L370.6 227.05 L371.4 227.19 L372.2 227.33 L373 227.45 L373.8 227.55 L374.6 227.63 L375.4 227.7 L376.2 227.75 L377 227.79 L377.8 227.82 L378.6 227.84 L379.4 227.85 L380.2 227.86 L381 227.86 L381.8 227.87 L382.6 227.87 L383.4 227.87 L384.2 227.87 L385 227.87 L385.8 227.87" fill="none" stroke="#58b8e8" stroke-width="0.5" stroke-opacity="0.9" stroke-linejoin="round"/>
<path d="M264.6 223.72 L265.4 224.48 L266.2 224.74 L267 224.69 L267.8 224.39 L268.6 223.82 L269.4 222.92 L270.2 221.62 L271 219.88 L271.8 217.77 L272.6 215.49 L273.4 213.31 L274.2 211.43 L275 209.97 L275.8 208.9 L276.6 208.15 L277.4 207.61 L278.2 207.23 L279 206.93 L279.8 206.69 L280.6 206.48 L281.4 206.29 L282.2 206.13 L283 205.97 L283.8 205.84 L284.6 205.72 L285.4 205.62 L286.2 205.54 L287 205.47 L287.8 205.41 L288.6 205.37 L289.4 205.33 L290.2 205.3 L291 205.28 L291.8 205.26 L292.6 205.25 L293.4 205.24 L294.2 205.23 L295 205.23 L295.8 205.22 L296.6 205.22 L297 205.21 L297.4 205.21 L297.8 205.21 L298.2 205.21 L298.6 205.2 L299 205.2 L299.4 205.19 L299.8 205.19 L300.2 205.18 L300.6 205.16 L301 205.15 L301.4 205.12 L301.8 205.09 L302.2 205.04 L302.6 204.98 L303 204.9 L303.4 204.8 L303.8 204.66 L304.2 204.48 L304.6 204.26 L305 203.97 L305.4 203.6 L305.8 203.14 L306.2 202.57 L306.6 201.86 L307 200.99 L307.4 199.94 L307.8 198.67 L308.2 197.15 L308.6 195.34 L309 193.22 L309.4 190.75 L309.8 187.89 L310.2 184.61 L310.6 180.88 L311 176.69 L311.4 172 L311.8 166.82 L312.2 161.15 L312.6 155 L313 148.39 L313.4 141.37 L313.8 134 L314.2 126.33 L314.6 118.46 L315 110.48 L315.4 102.5 L315.8 94.63 L316.2 87.01 L316.6 79.77 L317 73.02 L317.4 66.9 L317.8 61.52 L318.2 56.99 L318.6 53.41 L319 50.85 L319.4 49.36 L319.8 48.99 L320.2 50.33 L320.6 53.66 L321 58.87 L321.4 65.74 L321.8 74.02 L322.2 83.41 L322.6 93.6 L323 104.28 L323.4 115.16 L323.8 125.98 L324.2 136.51 L324.6 146.6 L325 156.1 L325.4 164.95 L325.8 173.09 L326.2 180.52 L326.6 187.24 L327 193.28 L327.4 198.67 L327.8 203.43 L328.2 207.59 L328.6 211.18 L329 214.23 L329.4 216.79 L329.8 218.91 L330.2 220.64 L330.6 222.03 L331 223.14 L331.4 224.02 L331.8 224.71 L332.2 225.25 L332.6 225.68 L333 226.01 L333.4 226.28 L333.8 226.49 L334.2 226.66 L334.6 226.8 L335 226.92 L335.4 227.01 L335.8 227.1 L336.2 227.17 L336.6 227.24 L337 227.3 L337.4 227.35 L337.8 227.4 L338.2 227.45 L338.6 227.5 L339 227.54 L339.4 227.58 L339.8 227.62 L340.2 227.65 L341 227.72 L341.8 227.77 L342.6 227.82 L343.4 227.85 L344.2 227.88 L345 227.91 L345.8 227.93 L346.6 227.95 L347.4 227.96 L348.2 227.97 L349 227.97 L349.8 227.98 L350.6 227.98 L351.4 227.98 L352.2 227.98 L353 227.98 L353.8 227.96 L354.6 227.95 L355.4 227.92 L356.2 227.89 L357 227.85 L357.8 227.79 L358.6 227.71 L359.4 227.63 L360.2 227.53 L361 227.42 L361.8 227.31 L362.6 227.2 L363.4 227.11 L364.2 227.03 L365 226.98 L365.8 226.95 L366.6 226.96 L367.4 227 L368.2 227.07 L369 227.15 L369.8 227.26 L370.6 227.37 L371.4 227.48 L372.2 227.58 L373 227.67 L373.8 227.75 L374.6 227.82 L375.4 227.87 L376.2 227.91 L377 227.94 L377.8 227.96 L378.6 227.98 L379.4 227.99 L380.2 227.99 L381 228 L381.8 228 L382.6 228 L383.4 228 L384.2 228 L385 228 L385.8 228" fill="none" stroke="#d04838" stroke-width="0.5" stroke-opacity="0.9" stroke-linejoin="round"/>
<path d="M264.6 223.77 L265.4 224.52 L266.2 224.76 L267 224.7 L267.8 224.38 L268.6 223.78 L269.4 222.84 L270.2 221.47 L271 219.65 L271.8 217.45 L272.6 215.06 L273.4 212.77 L274.2 210.82 L275 209.29 L275.8 208.17 L276.6 207.38 L277.4 206.83 L278.2 206.43 L279 206.13 L279.8 205.88 L280.6 205.67 L281.4 205.48 L282.2 205.31 L283 205.16 L283.8 205.02 L284.6 204.91 L285.4 204.81 L286.2 204.72 L287 204.65 L287.8 204.6 L288.6 204.55 L289.4 204.51 L290.2 204.49 L291 204.46 L291.8 204.45 L292.6 204.43 L293.4 204.42 L294.2 204.41 L295 204.41 L295.8 204.4 L296.6 204.4 L297 204.39 L297.4 204.39 L297.8 204.39 L298.2 204.38 L298.6 204.37 L299 204.37 L299.4 204.35 L299.8 204.34 L300.2 204.32 L300.6 204.3 L301 204.26 L301.4 204.22 L301.8 204.16 L302.2 204.09 L302.6 204 L303 203.88 L303.4 203.73 L303.8 203.54 L304.2 203.3 L304.6 203.01 L305 202.65 L305.4 202.2 L305.8 201.65 L306.2 200.99 L306.6 200.2 L307 199.25 L307.4 198.13 L307.8 196.81 L308.2 195.26 L308.6 193.47 L309 191.4 L309.4 189.04 L309.8 186.35 L310.2 183.32 L310.6 179.94 L311 176.18 L311.4 172.04 L311.8 167.52 L312.2 162.62 L312.6 157.36 L313 151.76 L313.4 145.85 L313.8 139.67 L314.2 133.27 L314.6 126.72 L315 120.08 L315.4 113.42 L315.8 106.84 L316.2 100.41 L316.6 94.23 L317 88.4 L317.4 83 L317.8 78.12 L318.2 73.84 L318.6 70.24 L319 67.38 L319.4 65.31 L319.8 64.07 L320.2 63.69 L320.6 64.43 L321 66.51 L321.4 69.87 L321.8 74.41 L322.2 80.01 L322.6 86.53 L323 93.79 L323.4 101.63 L323.8 109.87 L324.2 118.36 L324.6 126.95 L325 135.5 L325.4 143.92 L325.8 152.1 L326.2 159.98 L326.6 167.51 L327 174.64 L327.4 181.33 L327.8 187.55 L328.2 193.27 L328.6 198.46 L329 203.09 L329.4 207.18 L329.8 210.71 L330.2 213.73 L330.6 216.28 L331 218.39 L331.4 220.12 L331.8 221.53 L332.2 222.67 L332.6 223.58 L333 224.31 L333.4 224.89 L333.8 225.34 L334.2 225.71 L334.6 225.99 L335 226.22 L335.4 226.4 L335.8 226.55 L336.2 226.67 L336.6 226.76 L337 226.84 L337.4 226.91 L337.8 226.97 L338.2 227.02 L338.6 227.06 L339 227.09 L339.4 227.13 L339.8 227.16 L340.2 227.18 L341 227.22 L341.8 227.26 L342.6 227.28 L343.4 227.31 L344.2 227.32 L345 227.34 L345.8 227.35 L346.6 227.36 L347.4 227.36 L348.2 227.37 L349 227.37 L349.8 227.37 L350.6 227.37 L351.4 227.37 L352.2 227.36 L353 227.35 L353.8 227.33 L354.6 227.3 L355.4 227.26 L356.2 227.2 L357 227.12 L357.8 227.02 L358.6 226.89 L359.4 226.74 L360.2 226.57 L361 226.39 L361.8 226.2 L362.6 226.02 L363.4 225.85 L364.2 225.72 L365 225.63 L365.8 225.59 L366.6 225.6 L367.4 225.67 L368.2 225.78 L369 225.93 L369.8 226.11 L370.6 226.29 L371.4 226.48 L372.2 226.66 L373 226.82 L373.8 226.96 L374.6 227.07 L375.4 227.16 L376.2 227.23 L377 227.28 L377.8 227.32 L378.6 227.34 L379.4 227.36 L380.2 227.37 L381 227.37 L381.8 227.38 L382.6 227.38 L383.4 227.38 L384.2 227.38 L385 227.38 L385.8 227.38" fill="none" stroke="#d04838" stroke-width="0.5" stroke-opacity="0.9" stroke-linejoin="round"/>
<path d="M264.6 220.99 L265.4 224.2 L266.2 225.63 L267 226.13 L267.8 226.06 L268.6 225.57 L269.4 224.65 L270.2 223.25 L271 221.36 L271.8 219.06 L272.6 216.57 L273.4 214.18 L274.2 212.14 L275 210.54 L275.8 209.38 L276.6 208.56 L277.4 207.98 L278.2 207.57 L279 207.26 L279.8 207 L280.6 206.79 L281.4 206.6 L282.2 206.43 L283 206.28 L283.8 206.14 L284.6 206.02 L285.4 205.92 L286.2 205.84 L287 205.77 L287.8 205.71 L288.6 205.67 L289.4 205.63 L290.2 205.6 L291 205.58 L291.8 205.56 L292.6 205.55 L293.4 205.54 L294.2 205.53 L295 205.52 L295.8 205.52 L296.6 205.51 L297 205.5 L297.4 205.5 L297.8 205.49 L298.2 205.48 L298.6 205.47 L299 205.45 L299.4 205.43 L299.8 205.4 L300.2 205.36 L300.6 205.31 L301 205.25 L301.4 205.16 L301.8 205.06 L302.2 204.92 L302.6 204.75 L303 204.54 L303.4 204.28 L303.8 203.95 L304.2 203.55 L304.6 203.06 L305 202.46 L305.4 201.74 L305.8 200.88 L306.2 199.85 L306.6 198.64 L307 197.22 L307.4 195.56 L307.8 193.65 L308.2 191.46 L308.6 188.95 L309 186.12 L309.4 182.94 L309.8 179.39 L310.2 175.47 L310.6 171.16 L311 166.48 L311.4 161.42 L311.8 156 L312.2 150.25 L312.6 144.2 L313 137.89 L313.4 131.39 L313.8 124.74 L314.2 118.03 L314.6 111.32 L315 104.71 L315.4 98.28 L315.8 92.13 L316.2 86.34 L316.6 81 L317 76.21 L317.4 72.03 L317.8 68.55 L318.2 65.83 L318.6 63.9 L319 62.82 L319.4 62.6 L319.8 63.47 L320.2 65.53 L320.6 68.73 L321 72.98 L321.4 78.18 L321.8 84.22 L322.2 90.96 L322.6 98.26 L323 105.99 L323.4 114.01 L323.8 122.18 L324.2 130.41 L324.6 138.6 L325 146.65 L325.4 154.5 L325.8 162.09 L326.2 169.36 L326.6 176.26 L327 182.74 L327.4 188.76 L327.8 194.28 L328.2 199.26 L328.6 203.69 L329 207.58 L329.4 210.94 L329.8 213.81 L330.2 216.23 L330.6 218.25 L331 219.93 L331.4 221.3 L331.8 222.43 L332.2 223.34 L332.6 224.08 L333 224.67 L333.4 225.15 L333.8 225.53 L334.2 225.84 L334.6 226.09 L335 226.29 L335.4 226.46 L335.8 226.59 L336.2 226.71 L336.6 226.8 L337 226.88 L337.4 226.95 L337.8 227 L338.2 227.05 L338.6 227.1 L339 227.14 L339.4 227.18 L339.8 227.21 L340.2 227.24 L341 227.29 L341.8 227.33 L342.6 227.36 L343.4 227.39 L344.2 227.41 L345 227.43 L345.8 227.44 L346.6 227.45 L347.4 227.46 L348.2 227.46 L349 227.47 L349.8 227.47 L350.6 227.47 L351.4 227.47 L352.2 227.47 L353 227.47 L353.8 227.46 L354.6 227.45 L355.4 227.43 L356.2 227.41 L357 227.38 L357.8 227.34 L358.6 227.29 L359.4 227.23 L360.2 227.16 L361 227.09 L361.8 227.01 L362.6 226.94 L363.4 226.87 L364.2 226.82 L365 226.79 L365.8 226.77 L366.6 226.78 L367.4 226.8 L368.2 226.85 L369 226.91 L369.8 226.98 L370.6 227.05 L371.4 227.13 L372.2 227.2 L373 227.26 L373.8 227.32 L374.6 227.36 L375.4 227.4 L376.2 227.42 L377 227.44 L377.8 227.46 L378.6 227.47 L379.4 227.47 L380.2 227.48 L381 227.48 L381.8 227.48 L382.6 227.48 L383.4 227.48 L384.2 227.48 L385 227.48 L385.8 227.48" fill="none" stroke="#d04838" stroke-width="0.5" stroke-opacity="0.9" stroke-linejoin="round"/>
<path d="M264.6 223.6 L265.4 225.67 L266.2 226.55 L267 226.79 L267.8 226.62 L268.6 226.08 L269.4 225.16 L270.2 223.8 L271 221.96 L271.8 219.74 L272.6 217.32 L273.4 215.01 L274.2 213.03 L275 211.49 L275.8 210.36 L276.6 209.56 L277.4 209 L278.2 208.6 L279 208.29 L279.8 208.04 L280.6 207.83 L281.4 207.64 L282.2 207.47 L283 207.32 L283.8 207.19 L284.6 207.07 L285.4 206.97 L286.2 206.88 L287 206.81 L287.8 206.76 L288.6 206.71 L289.4 206.68 L290.2 206.65 L291 206.63 L291.8 206.61 L292.6 206.6 L293.4 206.58 L294.2 206.58 L295 206.57 L295.8 206.56 L296.6 206.55 L297 206.54 L297.4 206.54 L297.8 206.53 L298.2 206.51 L298.6 206.5 L299 206.48 L299.4 206.45 L299.8 206.42 L300.2 206.37 L300.6 206.32 L301 206.25 L301.4 206.15 L301.8 206.04 L302.2 205.89 L302.6 205.71 L303 205.49 L303.4 205.21 L303.8 204.88 L304.2 204.46 L304.6 203.96 L305 203.36 L305.4 202.64 L305.8 201.79 L306.2 200.78 L306.6 199.59 L307 198.2 L307.4 196.6 L307.8 194.74 L308.2 192.63 L308.6 190.22 L309 187.5 L309.4 184.44 L309.8 181.04 L310.2 177.28 L310.6 173.14 L311 168.63 L311.4 163.75 L311.8 158.5 L312.2 152.9 L312.6 146.98 L313 140.77 L313.4 134.31 L313.8 127.65 L314.2 120.84 L314.6 113.96 L315 107.07 L315.4 100.25 L315.8 93.59 L316.2 87.17 L316.6 81.08 L317 75.39 L317.4 70.2 L317.8 65.59 L318.2 61.61 L318.6 58.34 L319 55.83 L319.4 54.11 L319.8 53.23 L320.2 53.28 L320.6 54.98 L321 58.43 L321.4 63.5 L321.8 70.02 L322.2 77.78 L322.6 86.52 L323 95.98 L323.4 105.91 L323.8 116.06 L324.2 126.2 L324.6 136.16 L325 145.77 L325.4 154.92 L325.8 163.53 L326.2 171.55 L326.6 178.94 L327 185.71 L327.4 191.84 L327.8 197.36 L328.2 202.26 L328.6 206.57 L329 210.3 L329.4 213.48 L329.8 216.16 L330.2 218.38 L330.6 220.2 L331 221.66 L331.4 222.84 L331.8 223.77 L332.2 224.51 L332.6 225.09 L333 225.54 L333.4 225.9 L333.8 226.18 L334.2 226.4 L334.6 226.58 L335 226.73 L335.4 226.85 L335.8 226.95 L336.2 227.04 L336.6 227.11 L337 227.18 L337.4 227.24 L337.8 227.29 L338.2 227.34 L338.6 227.38 L339 227.43 L339.4 227.46 L339.8 227.5 L340.2 227.53 L341 227.59 L341.8 227.64 L342.6 227.68 L343.4 227.72 L344.2 227.74 L345 227.77 L345.8 227.78 L346.6 227.8 L347.4 227.81 L348.2 227.82 L349 227.82 L349.8 227.83 L350.6 227.83 L351.4 227.83 L352.2 227.82 L353 227.81 L353.8 227.8 L354.6 227.78 L355.4 227.75 L356.2 227.7 L357 227.64 L357.8 227.56 L358.6 227.47 L359.4 227.36 L360.2 227.23 L361 227.09 L361.8 226.94 L362.6 226.8 L363.4 226.68 L364.2 226.58 L365 226.51 L365.8 226.48 L366.6 226.49 L367.4 226.54 L368.2 226.62 L369 226.74 L369.8 226.87 L370.6 227.01 L371.4 227.16 L372.2 227.29 L373 227.42 L373.8 227.52 L374.6 227.61 L375.4 227.68 L376.2 227.73 L377 227.77 L377.8 227.79 L378.6 227.81 L379.4 227.83 L380.2 227.83 L381 227.84 L381.8 227.84 L382.6 227.84 L383.4 227.84 L384.2 227.84 L385 227.84 L385.8 227.84" fill="none" stroke="#d04838" stroke-width="0.5" stroke-opacity="0.9" stroke-linejoin="round"/>
<path d="M264.6 222.64 L265.4 225.1 L266.2 226.18 L267 226.51 L267.8 226.38 L268.6 225.88 L269.4 224.98 L270.2 223.63 L271 221.82 L271.8 219.62 L272.6 217.23 L273.4 214.94 L274.2 212.98 L275 211.45 L275.8 210.34 L276.6 209.55 L277.4 209 L278.2 208.59 L279 208.29 L279.8 208.04 L280.6 207.83 L281.4 207.64 L282.2 207.47 L283 207.32 L283.8 207.19 L284.6 207.07 L285.4 206.97 L286.2 206.89 L287 206.82 L287.8 206.76 L288.6 206.71 L289.4 206.68 L290.2 206.65 L291 206.63 L291.8 206.61 L292.6 206.6 L293.4 206.59 L294.2 206.58 L295 206.57 L295.8 206.56 L296.6 206.56 L297 206.55 L297.4 206.55 L297.8 206.54 L298.2 206.53 L298.6 206.52 L299 206.51 L299.4 206.49 L299.8 206.47 L300.2 206.44 L300.6 206.41 L301 206.36 L301.4 206.29 L301.8 206.21 L302.2 206.11 L302.6 205.98 L303 205.82 L303.4 205.61 L303.8 205.35 L304.2 205.04 L304.6 204.65 L305 204.17 L305.4 203.6 L305.8 202.9 L306.2 202.07 L306.6 201.09 L307 199.92 L307.4 198.56 L307.8 196.96 L308.2 195.12 L308.6 193 L309 190.59 L309.4 187.85 L309.8 184.78 L310.2 181.34 L310.6 177.53 L311 173.34 L311.4 168.77 L311.8 163.82 L312.2 158.5 L312.6 152.83 L313 146.84 L313.4 140.58 L313.8 134.08 L314.2 127.4 L314.6 120.61 L315 113.79 L315.4 107 L315.8 100.34 L316.2 93.89 L316.6 87.75 L317 82.01 L317.4 76.74 L317.8 72.05 L318.2 67.99 L318.6 64.65 L319 62.07 L319.4 60.31 L319.8 59.4 L320.2 59.37 L320.6 60.51 L321 62.86 L321.4 66.35 L321.8 70.9 L322.2 76.4 L322.6 82.73 L323 89.75 L323.4 97.32 L323.8 105.29 L324.2 113.53 L324.6 121.92 L325 130.33 L325.4 138.67 L325.8 146.86 L326.2 154.82 L326.6 162.49 L327 169.82 L327.4 176.75 L327.8 183.25 L328.2 189.25 L328.6 194.74 L329 199.67 L329.4 204.05 L329.8 207.88 L330.2 211.18 L330.6 214 L331 216.37 L331.4 218.35 L331.8 219.99 L332.2 221.33 L332.6 222.43 L333 223.32 L333.4 224.04 L333.8 224.62 L334.2 225.08 L334.6 225.45 L335 225.75 L335.4 225.98 L335.8 226.17 L336.2 226.32 L336.6 226.45 L337 226.54 L337.4 226.62 L337.8 226.69 L338.2 226.74 L338.6 226.78 L339 226.82 L339.4 226.85 L339.8 226.87 L340.2 226.9 L341 226.93 L341.8 226.95 L342.6 226.97 L343.4 226.99 L344.2 227 L345 227.01 L345.8 227.01 L346.6 227.02 L347.4 227.02 L348.2 227.02 L349 227.02 L349.8 227.02 L350.6 227.02 L351.4 227.02 L352.2 227.01 L353 227.01 L353.8 226.99 L354.6 226.97 L355.4 226.94 L356.2 226.9 L357 226.84 L357.8 226.77 L358.6 226.68 L359.4 226.57 L360.2 226.45 L361 226.32 L361.8 226.19 L362.6 226.06 L363.4 225.94 L364.2 225.84 L365 225.78 L365.8 225.75 L366.6 225.76 L367.4 225.81 L368.2 225.89 L369 225.99 L369.8 226.12 L370.6 226.25 L371.4 226.39 L372.2 226.51 L373 226.63 L373.8 226.73 L374.6 226.81 L375.4 226.87 L376.2 226.92 L377 226.96 L377.8 226.98 L378.6 227 L379.4 227.01 L380.2 227.02 L381 227.03 L381.8 227.03 L382.6 227.03 L383.4 227.03 L384.2 227.03 L385 227.03 L385.8 227.03" fill="none" stroke="#d04838" stroke-width="0.5" stroke-opacity="0.9" stroke-linejoin="round"/>
<path d="M264.6 219.75 L265.4 221.53 L266.2 222.29 L267 222.49 L267.8 222.33 L268.6 221.86 L269.4 221.05 L270.2 219.85 L271 218.24 L271.8 216.28 L272.6 214.16 L273.4 212.12 L274.2 210.38 L275 209.02 L275.8 208.02 L276.6 207.31 L277.4 206.81 L278.2 206.44 L279 206.15 L279.8 205.92 L280.6 205.71 L281.4 205.53 L282.2 205.36 L283 205.21 L283.8 205.08 L284.6 204.96 L285.4 204.86 L286.2 204.78 L287 204.71 L287.8 204.65 L288.6 204.61 L289.4 204.57 L290.2 204.54 L291 204.52 L291.8 204.5 L292.6 204.49 L293.4 204.48 L294.2 204.46 L295 204.45 L295.8 204.43 L296.6 204.41 L297 204.39 L297.4 204.37 L297.8 204.34 L298.2 204.31 L298.6 204.27 L299 204.21 L299.4 204.14 L299.8 204.06 L300.2 203.96 L300.6 203.83 L301 203.67 L301.4 203.48 L301.8 203.24 L302.2 202.96 L302.6 202.62 L303 202.2 L303.4 201.72 L303.8 201.14 L304.2 200.45 L304.6 199.65 L305 198.71 L305.4 197.62 L305.8 196.36 L306.2 194.92 L306.6 193.27 L307 191.4 L307.4 189.29 L307.8 186.91 L308.2 184.26 L308.6 181.32 L309 178.07 L309.4 174.51 L309.8 170.63 L310.2 166.42 L310.6 161.89 L311 157.05 L311.4 151.9 L311.8 146.46 L312.2 140.76 L312.6 134.83 L313 128.71 L313.4 122.43 L313.8 116.05 L314.2 109.62 L314.6 103.2 L315 96.86 L315.4 90.65 L315.8 84.65 L316.2 78.92 L316.6 73.54 L317 68.57 L317.4 64.08 L317.8 60.11 L318.2 56.74 L318.6 53.99 L319 51.92 L319.4 50.55 L319.8 49.9 L320.2 50.01 L320.6 51.05 L321 53 L321.4 55.85 L321.8 59.53 L322.2 64 L322.6 69.17 L323 74.97 L323.4 81.31 L323.8 88.12 L324.2 95.29 L324.6 102.77 L325 110.45 L325.4 118.28 L325.8 126.19 L326.2 134.11 L326.6 141.98 L327 149.72 L327.4 157.27 L327.8 164.56 L328.2 171.5 L328.6 178.02 L329 184.08 L329.4 189.63 L329.8 194.65 L330.2 199.15 L330.6 203.13 L331 206.62 L331.4 209.67 L331.8 212.32 L332.2 214.59 L332.6 216.55 L333 218.22 L333.4 219.63 L333.8 220.83 L334.2 221.85 L334.6 222.7 L335 223.42 L335.4 224.01 L335.8 224.51 L336.2 224.93 L336.6 225.27 L337 225.56 L337.4 225.8 L337.8 225.99 L338.2 226.16 L338.6 226.29 L339 226.41 L339.4 226.5 L339.8 226.58 L340.2 226.65 L341 226.75 L341.8 226.83 L342.6 226.88 L343.4 226.92 L344.2 226.96 L345 226.98 L345.8 227 L346.6 227.01 L347.4 227.03 L348.2 227.03 L349 227.04 L349.8 227.04 L350.6 227.05 L351.4 227.05 L352.2 227.04 L353 227.03 L353.8 227.01 L354.6 226.99 L355.4 226.94 L356.2 226.89 L357 226.81 L357.8 226.72 L358.6 226.59 L359.4 226.45 L360.2 226.29 L361 226.11 L361.8 225.93 L362.6 225.75 L363.4 225.59 L364.2 225.47 L365 225.38 L365.8 225.34 L366.6 225.35 L367.4 225.42 L368.2 225.53 L369 225.67 L369.8 225.84 L370.6 226.02 L371.4 226.2 L372.2 226.37 L373 226.53 L373.8 226.66 L374.6 226.77 L375.4 226.86 L376.2 226.92 L377 226.97 L377.8 227.01 L378.6 227.03 L379.4 227.05 L380.2 227.06 L381 227.06 L381.8 227.07 L382.6 227.07 L383.4 227.07 L384.2 227.07 L385 227.07 L385.8 227.07" fill="none" stroke="#c83090" stroke-width="0.5" stroke-opacity="0.9" stroke-linejoin="round"/>
<path d="M264.6 221.84 L265.4 223.07 L266.2 223.56 L267 223.63 L267.8 223.41 L268.6 222.91 L269.4 222.08 L270.2 220.88 L271 219.26 L271.8 217.31 L272.6 215.19 L273.4 213.16 L274.2 211.41 L275 210.05 L275.8 209.05 L276.6 208.34 L277.4 207.84 L278.2 207.47 L279 207.19 L279.8 206.96 L280.6 206.75 L281.4 206.57 L282.2 206.4 L283 206.25 L283.8 206.12 L284.6 206 L285.4 205.9 L286.2 205.82 L287 205.75 L287.8 205.69 L288.6 205.65 L289.4 205.61 L290.2 205.58 L291 205.56 L291.8 205.54 L292.6 205.53 L293.4 205.52 L294.2 205.51 L295 205.5 L295.8 205.5 L296.6 205.49 L297 205.48 L297.4 205.47 L297.8 205.47 L298.2 205.45 L298.6 205.44 L299 205.42 L299.4 205.4 L299.8 205.37 L300.2 205.33 L300.6 205.27 L301 205.21 L301.4 205.12 L301.8 205.01 L302.2 204.87 L302.6 204.7 L303 204.48 L303.4 204.21 L303.8 203.87 L304.2 203.46 L304.6 202.96 L305 202.36 L305.4 201.63 L305.8 200.76 L306.2 199.73 L306.6 198.51 L307 197.08 L307.4 195.42 L307.8 193.51 L308.2 191.3 L308.6 188.8 L309 185.96 L309.4 182.77 L309.8 179.21 L310.2 175.27 L310.6 170.94 L311 166.21 L311.4 161.09 L311.8 155.6 L312.2 149.75 L312.6 143.57 L313 137.11 L313.4 130.4 L313.8 123.51 L314.2 116.5 L314.6 109.45 L315 102.44 L315.4 95.55 L315.8 88.88 L316.2 82.52 L316.6 76.55 L317 71.08 L317.4 66.18 L317.8 61.93 L318.2 58.41 L318.6 55.67 L319 53.77 L319.4 52.73 L319.8 52.59 L320.2 53.61 L320.6 55.88 L321 59.32 L321.4 63.87 L321.8 69.41 L322.2 75.82 L322.6 82.95 L323 90.68 L323.4 98.84 L323.8 107.31 L324.2 115.95 L324.6 124.65 L325 133.3 L325.4 141.81 L325.8 150.11 L326.2 158.13 L326.6 165.81 L327 173.1 L327.4 179.95 L327.8 186.31 L328.2 192.13 L328.6 197.39 L329 202.07 L329.4 206.18 L329.8 209.74 L330.2 212.78 L330.6 215.35 L331 217.5 L331.4 219.29 L331.8 220.76 L332.2 221.96 L332.6 222.94 L333 223.74 L333.4 224.38 L333.8 224.89 L334.2 225.31 L334.6 225.64 L335 225.91 L335.4 226.12 L335.8 226.3 L336.2 226.44 L336.6 226.55 L337 226.64 L337.4 226.72 L337.8 226.78 L338.2 226.84 L338.6 226.88 L339 226.92 L339.4 226.96 L339.8 226.98 L340.2 227.01 L341 227.05 L341.8 227.08 L342.6 227.11 L343.4 227.12 L344.2 227.14 L345 227.15 L345.8 227.16 L346.6 227.17 L347.4 227.17 L348.2 227.18 L349 227.18 L349.8 227.18 L350.6 227.18 L351.4 227.17 L352.2 227.17 L353 227.16 L353.8 227.14 L354.6 227.11 L355.4 227.07 L356.2 227.01 L357 226.94 L357.8 226.84 L358.6 226.72 L359.4 226.58 L360.2 226.41 L361 226.24 L361.8 226.06 L362.6 225.88 L363.4 225.72 L364.2 225.6 L365 225.51 L365.8 225.47 L366.6 225.48 L367.4 225.55 L368.2 225.66 L369 225.8 L369.8 225.97 L370.6 226.15 L371.4 226.33 L372.2 226.5 L373 226.65 L373.8 226.78 L374.6 226.89 L375.4 226.98 L376.2 227.04 L377 227.09 L377.8 227.13 L378.6 227.15 L379.4 227.17 L380.2 227.18 L381 227.18 L381.8 227.19 L382.6 227.19 L383.4 227.19 L384.2 227.19 L385 227.19 L385.8 227.19" fill="none" stroke="#c83090" stroke-width="0.5" stroke-opacity="0.9" stroke-linejoin="round"/>
<path d="M264.6 221.07 L265.4 221.77 L266.2 222.01 L267 221.98 L267.8 221.74 L268.6 221.28 L269.4 220.53 L270.2 219.46 L271 218.02 L271.8 216.28 L272.6 214.4 L273.4 212.59 L274.2 211.04 L275 209.82 L275.8 208.93 L276.6 208.29 L277.4 207.83 L278.2 207.49 L279 207.23 L279.8 207 L280.6 206.81 L281.4 206.63 L282.2 206.46 L283 206.32 L283.8 206.18 L284.6 206.07 L285.4 205.97 L286.2 205.88 L287 205.81 L287.8 205.76 L288.6 205.71 L289.4 205.68 L290.2 205.65 L291 205.63 L291.8 205.61 L292.6 205.59 L293.4 205.58 L294.2 205.57 L295 205.56 L295.8 205.54 L296.6 205.52 L297 205.5 L297.4 205.48 L297.8 205.46 L298.2 205.43 L298.6 205.39 L299 205.34 L299.4 205.27 L299.8 205.19 L300.2 205.09 L300.6 204.97 L301 204.82 L301.4 204.63 L301.8 204.4 L302.2 204.12 L302.6 203.77 L303 203.36 L303.4 202.87 L303.8 202.28 L304.2 201.59 L304.6 200.76 L305 199.8 L305.4 198.68 L305.8 197.38 L306.2 195.89 L306.6 194.18 L307 192.23 L307.4 190.02 L307.8 187.54 L308.2 184.77 L308.6 181.69 L309 178.29 L309.4 174.55 L309.8 170.49 L310.2 166.09 L310.6 161.35 L311 156.3 L311.4 150.94 L311.8 145.29 L312.2 139.4 L312.6 133.29 L313 127 L313.4 120.6 L313.8 114.13 L314.2 107.66 L314.6 101.25 L315 94.97 L315.4 88.9 L315.8 83.11 L316.2 77.67 L316.6 72.65 L317 68.13 L317.4 64.16 L317.8 60.8 L318.2 58.1 L318.6 56.1 L319 54.83 L319.4 54.3 L319.8 54.67 L320.2 56.21 L320.6 58.89 L321 62.66 L321.4 67.42 L321.8 73.08 L322.2 79.52 L322.6 86.6 L323 94.2 L323.4 102.19 L323.8 110.43 L324.2 118.83 L324.6 127.27 L325 135.66 L325.4 143.92 L325.8 151.98 L326.2 159.79 L326.6 167.27 L327 174.38 L327.4 181.05 L327.8 187.24 L328.2 192.9 L328.6 198 L329 202.54 L329.4 206.53 L329.8 209.98 L330.2 212.93 L330.6 215.44 L331 217.54 L331.4 219.3 L331.8 220.75 L332.2 221.95 L332.6 222.94 L333 223.74 L333.4 224.4 L333.8 224.94 L334.2 225.37 L334.6 225.73 L335 226.02 L335.4 226.27 L335.8 226.47 L336.2 226.63 L336.6 226.77 L337 226.89 L337.4 227 L337.8 227.09 L338.2 227.17 L338.6 227.24 L339 227.3 L339.4 227.36 L339.8 227.41 L340.2 227.45 L341 227.53 L341.8 227.6 L342.6 227.66 L343.4 227.7 L344.2 227.74 L345 227.76 L345.8 227.79 L346.6 227.8 L347.4 227.82 L348.2 227.83 L349 227.84 L349.8 227.84 L350.6 227.85 L351.4 227.85 L352.2 227.84 L353 227.84 L353.8 227.83 L354.6 227.81 L355.4 227.79 L356.2 227.75 L357 227.71 L357.8 227.65 L358.6 227.57 L359.4 227.48 L360.2 227.38 L361 227.27 L361.8 227.16 L362.6 227.05 L363.4 226.96 L364.2 226.88 L365 226.82 L365.8 226.8 L366.6 226.81 L367.4 226.85 L368.2 226.91 L369 227 L369.8 227.11 L370.6 227.22 L371.4 227.33 L372.2 227.44 L373 227.53 L373.8 227.61 L374.6 227.68 L375.4 227.73 L376.2 227.78 L377 227.81 L377.8 227.83 L378.6 227.84 L379.4 227.85 L380.2 227.86 L381 227.86 L381.8 227.86 L382.6 227.87 L383.4 227.87 L384.2 227.87 L385 227.87 L385.8 227.87" fill="none" stroke="#c83090" stroke-width="0.5" stroke-opacity="0.9" stroke-linejoin="round"/>
<path d="M264.6 220.38 L265.4 221.58 L266.2 222.06 L267 222.15 L267.8 221.95 L268.6 221.48 L269.4 220.72 L270.2 219.6 L271 218.1 L271.8 216.28 L272.6 214.31 L273.4 212.42 L274.2 210.79 L275 209.52 L275.8 208.59 L276.6 207.93 L277.4 207.45 L278.2 207.1 L279 206.83 L279.8 206.6 L280.6 206.4 L281.4 206.22 L282.2 206.06 L283 205.91 L283.8 205.78 L284.6 205.66 L285.4 205.56 L286.2 205.48 L287 205.41 L287.8 205.35 L288.6 205.31 L289.4 205.27 L290.2 205.24 L291 205.22 L291.8 205.2 L292.6 205.19 L293.4 205.17 L294.2 205.16 L295 205.15 L295.8 205.13 L296.6 205.11 L297 205.09 L297.4 205.07 L297.8 205.05 L298.2 205.01 L298.6 204.97 L299 204.92 L299.4 204.85 L299.8 204.76 L300.2 204.66 L300.6 204.52 L301 204.36 L301.4 204.16 L301.8 203.91 L302.2 203.6 L302.6 203.23 L303 202.79 L303.4 202.25 L303.8 201.61 L304.2 200.86 L304.6 199.96 L305 198.92 L305.4 197.7 L305.8 196.29 L306.2 194.67 L306.6 192.81 L307 190.69 L307.4 188.31 L307.8 185.62 L308.2 182.63 L308.6 179.31 L309 175.65 L309.4 171.64 L309.8 167.28 L310.2 162.58 L310.6 157.54 L311 152.17 L311.4 146.5 L311.8 140.55 L312.2 134.37 L312.6 127.99 L313 121.47 L313.4 114.86 L313.8 108.22 L314.2 101.63 L314.6 95.16 L315 88.88 L315.4 82.87 L315.8 77.21 L316.2 71.98 L316.6 67.23 L317 63.06 L317.4 59.5 L317.8 56.63 L318.2 54.47 L318.6 53.07 L319 52.45 L319.4 52.75 L319.8 54.38 L320.2 57.33 L320.6 61.53 L321 66.85 L321.4 73.18 L321.8 80.35 L322.2 88.2 L322.6 96.57 L323 105.3 L323.4 114.23 L323.8 123.22 L324.2 132.16 L324.6 140.93 L325 149.47 L325.4 157.68 L325.8 165.53 L326.2 172.95 L326.6 179.91 L327 186.36 L327.4 192.27 L327.8 197.61 L328.2 202.36 L328.6 206.52 L329 210.13 L329.4 213.19 L329.8 215.78 L330.2 217.93 L330.6 219.7 L331 221.14 L331.4 222.32 L331.8 223.26 L332.2 224.02 L332.6 224.63 L333 225.11 L333.4 225.49 L333.8 225.79 L334.2 226.04 L334.6 226.23 L335 226.38 L335.4 226.51 L335.8 226.61 L336.2 226.69 L336.6 226.75 L337 226.81 L337.4 226.86 L337.8 226.89 L338.2 226.93 L338.6 226.96 L339 226.98 L339.4 227 L339.8 227.02 L340.2 227.04 L341 227.07 L341.8 227.09 L342.6 227.1 L343.4 227.12 L344.2 227.13 L345 227.14 L345.8 227.14 L346.6 227.15 L347.4 227.15 L348.2 227.15 L349 227.16 L349.8 227.16 L350.6 227.16 L351.4 227.16 L352.2 227.15 L353 227.15 L353.8 227.14 L354.6 227.13 L355.4 227.11 L356.2 227.08 L357 227.05 L357.8 227 L358.6 226.95 L359.4 226.88 L360.2 226.8 L361 226.72 L361.8 226.64 L362.6 226.56 L363.4 226.48 L364.2 226.43 L365 226.39 L365.8 226.37 L366.6 226.37 L367.4 226.4 L368.2 226.45 L369 226.52 L369.8 226.6 L370.6 226.68 L371.4 226.76 L372.2 226.84 L373 226.91 L373.8 226.97 L374.6 227.03 L375.4 227.07 L376.2 227.1 L377 227.12 L377.8 227.13 L378.6 227.14 L379.4 227.15 L380.2 227.16 L381 227.16 L381.8 227.16 L382.6 227.16 L383.4 227.16 L384.2 227.16 L385 227.16 L385.8 227.16" fill="none" stroke="#c83090" stroke-width="0.5" stroke-opacity="0.9" stroke-linejoin="round"/>
<path d="M264.6 220.27 L265.4 220.95 L266.2 221.19 L267 221.15 L267.8 220.89 L268.6 220.39 L269.4 219.6 L270.2 218.46 L271 216.93 L271.8 215.08 L272.6 213.08 L273.4 211.16 L274.2 209.51 L275 208.23 L275.8 207.28 L276.6 206.61 L277.4 206.13 L278.2 205.78 L279 205.5 L279.8 205.27 L280.6 205.07 L281.4 204.89 L282.2 204.72 L283 204.57 L283.8 204.44 L284.6 204.33 L285.4 204.23 L286.2 204.14 L287 204.07 L287.8 204.02 L288.6 203.97 L289.4 203.94 L290.2 203.91 L291 203.88 L291.8 203.87 L292.6 203.85 L293.4 203.84 L294.2 203.83 L295 203.83 L295.8 203.82 L296.6 203.81 L297 203.81 L297.4 203.81 L297.8 203.8 L298.2 203.79 L298.6 203.78 L299 203.77 L299.4 203.75 L299.8 203.73 L300.2 203.7 L300.6 203.66 L301 203.61 L301.4 203.55 L301.8 203.47 L302.2 203.36 L302.6 203.23 L303 203.06 L303.4 202.85 L303.8 202.58 L304.2 202.26 L304.6 201.85 L305 201.36 L305.4 200.77 L305.8 200.04 L306.2 199.18 L306.6 198.15 L307 196.93 L307.4 195.5 L307.8 193.83 L308.2 191.9 L308.6 189.67 L309 187.13 L309.4 184.25 L309.8 181 L310.2 177.37 L310.6 173.34 L311 168.9 L311.4 164.06 L311.8 158.8 L312.2 153.15 L312.6 147.13 L313 140.77 L313.4 134.1 L313.8 127.18 L314.2 120.07 L314.6 112.83 L315 105.56 L315.4 98.32 L315.8 91.22 L316.2 84.35 L316.6 77.8 L317 71.68 L317.4 66.07 L317.8 61.07 L318.2 56.77 L318.6 53.22 L319 50.5 L319.4 48.65 L319.8 47.71 L320.2 47.75 L320.6 49.25 L321 52.26 L321.4 56.68 L321.8 62.38 L322.2 69.22 L322.6 77 L323 85.52 L323.4 94.59 L323.8 104.02 L324.2 113.62 L324.6 123.22 L325 132.7 L325.4 141.93 L325.8 150.82 L326.2 159.32 L326.6 167.35 L327 174.89 L327.4 181.9 L327.8 188.35 L328.2 194.21 L328.6 199.47 L329 204.12 L329.4 208.17 L329.8 211.65 L330.2 214.58 L330.6 217.03 L331 219.05 L331.4 220.69 L331.8 222.02 L332.2 223.09 L332.6 223.94 L333 224.62 L333.4 225.15 L333.8 225.58 L334.2 225.92 L334.6 226.19 L335 226.41 L335.4 226.58 L335.8 226.73 L336.2 226.85 L336.6 226.95 L337 227.04 L337.4 227.12 L337.8 227.18 L338.2 227.24 L338.6 227.3 L339 227.34 L339.4 227.39 L339.8 227.43 L340.2 227.46 L341 227.53 L341.8 227.58 L342.6 227.63 L343.4 227.66 L344.2 227.69 L345 227.71 L345.8 227.73 L346.6 227.75 L347.4 227.76 L348.2 227.77 L349 227.77 L349.8 227.78 L350.6 227.78 L351.4 227.78 L352.2 227.77 L353 227.77 L353.8 227.75 L354.6 227.73 L355.4 227.7 L356.2 227.66 L357 227.6 L357.8 227.53 L358.6 227.43 L359.4 227.32 L360.2 227.2 L361 227.06 L361.8 226.92 L362.6 226.79 L363.4 226.67 L364.2 226.57 L365 226.5 L365.8 226.47 L366.6 226.48 L367.4 226.53 L368.2 226.62 L369 226.73 L369.8 226.86 L370.6 226.99 L371.4 227.13 L372.2 227.26 L373 227.38 L373.8 227.48 L374.6 227.57 L375.4 227.63 L376.2 227.68 L377 227.72 L377.8 227.75 L378.6 227.77 L379.4 227.78 L380.2 227.78 L381 227.79 L381.8 227.79 L382.6 227.79 L383.4 227.79 L384.2 227.8 L385 227.8 L385.8 227.8" fill="none" stroke="#c83090" stroke-width="0.5" stroke-opacity="0.9" stroke-linejoin="round"/>
<path d="M264.6 210.59 L265.4 212.44 L266.2 213.27 L267 213.58 L267.8 213.59 L268.6 213.37 L269.4 212.94 L270.2 212.27 L271 211.38 L271.8 210.29 L272.6 209.1 L273.4 207.96 L274.2 206.97 L275 206.19 L275.8 205.61 L276.6 205.18 L277.4 204.86 L278.2 204.6 L279 204.39 L279.8 204.2 L280.6 204.02 L281.4 203.85 L282.2 203.7 L283 203.55 L283.8 203.42 L284.6 203.31 L285.4 203.21 L286.2 203.13 L287 203.06 L287.8 203 L288.6 202.96 L289.4 202.92 L290.2 202.89 L291 202.87 L291.8 202.85 L292.6 202.84 L293.4 202.83 L294.2 202.82 L295 202.82 L295.8 202.81 L296.6 202.81 L297 202.81 L297.4 202.8 L297.8 202.8 L298.2 202.8 L298.6 202.8 L299 202.8 L299.4 202.79 L299.8 202.79 L300.2 202.79 L300.6 202.78 L301 202.77 L301.4 202.76 L301.8 202.74 L302.2 202.72 L302.6 202.7 L303 202.66 L303.4 202.61 L303.8 202.55 L304.2 202.46 L304.6 202.35 L305 202.21 L305.4 202.03 L305.8 201.8 L306.2 201.52 L306.6 201.16 L307 200.71 L307.4 200.16 L307.8 199.48 L308.2 198.65 L308.6 197.66 L309 196.47 L309.4 195.05 L309.8 193.37 L310.2 191.41 L310.6 189.13 L311 186.49 L311.4 183.48 L311.8 180.06 L312.2 176.2 L312.6 171.89 L313 167.12 L313.4 161.89 L313.8 156.18 L314.2 150.03 L314.6 143.45 L315 136.49 L315.4 129.19 L315.8 121.62 L316.2 113.85 L316.6 105.98 L317 98.09 L317.4 90.29 L317.8 82.7 L318.2 75.44 L318.6 68.61 L319 62.33 L319.4 56.72 L319.8 51.87 L320.2 47.88 L320.6 44.82 L321 42.75 L321.4 41.71 L321.8 41.71 L322.2 42.68 L322.6 44.58 L323 47.39 L323.4 51.06 L323.8 55.54 L324.2 60.74 L324.6 66.6 L325 73.03 L325.4 79.94 L325.8 87.27 L326.2 94.92 L326.6 102.81 L327 110.88 L327.4 119.06 L327.8 127.29 L328.2 135.49 L328.6 143.59 L329 151.52 L329.4 159.2 L329.8 166.55 L330.2 173.5 L330.6 179.97 L331 185.92 L331.4 191.32 L331.8 196.18 L332.2 200.5 L332.6 204.32 L333 207.66 L333.4 210.58 L333.8 213.1 L334.2 215.28 L334.6 217.15 L335 218.75 L335.4 220.12 L335.8 221.28 L336.2 222.27 L336.6 223.1 L337 223.81 L337.4 224.41 L337.8 224.91 L338.2 225.33 L338.6 225.69 L339 225.99 L339.4 226.24 L339.8 226.45 L340.2 226.63 L341 226.92 L341.8 227.12 L342.6 227.27 L343.4 227.38 L344.2 227.47 L345 227.53 L345.8 227.58 L346.6 227.62 L347.4 227.65 L348.2 227.67 L349 227.69 L349.8 227.7 L350.6 227.71 L351.4 227.71 L352.2 227.71 L353 227.71 L353.8 227.69 L354.6 227.66 L355.4 227.62 L356.2 227.57 L357 227.49 L357.8 227.39 L358.6 227.27 L359.4 227.12 L360.2 226.95 L361 226.77 L361.8 226.59 L362.6 226.41 L363.4 226.24 L364.2 226.11 L365 226.02 L365.8 225.98 L366.6 226 L367.4 226.06 L368.2 226.17 L369 226.32 L369.8 226.5 L370.6 226.68 L371.4 226.87 L372.2 227.04 L373 227.2 L373.8 227.34 L374.6 227.45 L375.4 227.54 L376.2 227.61 L377 227.66 L377.8 227.69 L378.6 227.72 L379.4 227.73 L380.2 227.74 L381 227.75 L381.8 227.75 L382.6 227.76 L383.4 227.76 L384.2 227.76 L385 227.76 L385.8 227.76" fill="none" stroke="#8a3cc8" stroke-width="0.5" stroke-opacity="0.9" stroke-linejoin="round"/>
<path d="M264.6 210.79 L265.4 212.39 L266.2 213.11 L267 213.36 L267.8 213.35 L268.6 213.14 L269.4 212.73 L270.2 212.11 L271 211.27 L271.8 210.24 L272.6 209.13 L273.4 208.06 L274.2 207.13 L275 206.39 L275.8 205.84 L276.6 205.44 L277.4 205.13 L278.2 204.88 L279 204.68 L279.8 204.49 L280.6 204.31 L281.4 204.15 L282.2 203.99 L283 203.85 L283.8 203.72 L284.6 203.6 L285.4 203.51 L286.2 203.42 L287 203.35 L287.8 203.3 L288.6 203.25 L289.4 203.22 L290.2 203.19 L291 203.17 L291.8 203.15 L292.6 203.14 L293.4 203.13 L294.2 203.12 L295 203.11 L295.8 203.1 L296.6 203.1 L297 203.1 L297.4 203.09 L297.8 203.09 L298.2 203.08 L298.6 203.08 L299 203.07 L299.4 203.06 L299.8 203.04 L300.2 203.02 L300.6 203 L301 202.97 L301.4 202.92 L301.8 202.87 L302.2 202.8 L302.6 202.71 L303 202.6 L303.4 202.46 L303.8 202.28 L304.2 202.06 L304.6 201.79 L305 201.45 L305.4 201.04 L305.8 200.53 L306.2 199.93 L306.6 199.2 L307 198.33 L307.4 197.3 L307.8 196.08 L308.2 194.66 L308.6 193 L309 191.09 L309.4 188.9 L309.8 186.4 L310.2 183.57 L310.6 180.39 L311 176.83 L311.4 172.89 L311.8 168.56 L312.2 163.82 L312.6 158.69 L313 153.17 L313.4 147.27 L313.8 141.03 L314.2 134.48 L314.6 127.67 L315 120.64 L315.4 113.46 L315.8 106.21 L316.2 98.95 L316.6 91.78 L317 84.79 L317.4 78.06 L317.8 71.7 L318.2 65.78 L318.6 60.41 L319 55.65 L319.4 51.6 L319.8 48.31 L320.2 45.84 L320.6 44.24 L321 43.52 L321.4 43.69 L321.8 44.68 L322.2 46.47 L322.6 49.05 L323 52.37 L323.4 56.39 L323.8 61.06 L324.2 66.32 L324.6 72.11 L325 78.36 L325.4 85.02 L325.8 92.02 L326.2 99.3 L326.6 106.8 L327 114.47 L327.4 122.25 L327.8 130.09 L328.2 137.9 L328.6 145.62 L329 153.16 L329.4 160.43 L329.8 167.37 L330.2 173.89 L330.6 179.96 L331 185.53 L331.4 190.59 L331.8 195.17 L332.2 199.26 L332.6 202.91 L333 206.14 L333.4 209 L333.8 211.5 L334.2 213.7 L334.6 215.62 L335 217.29 L335.4 218.74 L335.8 219.99 L336.2 221.07 L336.6 222 L337 222.8 L337.4 223.49 L337.8 224.07 L338.2 224.57 L338.6 225 L339 225.36 L339.4 225.67 L339.8 225.93 L340.2 226.16 L341 226.51 L341.8 226.76 L342.6 226.95 L343.4 227.09 L344.2 227.19 L345 227.27 L345.8 227.33 L346.6 227.37 L347.4 227.41 L348.2 227.43 L349 227.45 L349.8 227.47 L350.6 227.48 L351.4 227.48 L352.2 227.48 L353 227.48 L353.8 227.46 L354.6 227.43 L355.4 227.39 L356.2 227.33 L357 227.25 L357.8 227.14 L358.6 227.01 L359.4 226.85 L360.2 226.67 L361 226.47 L361.8 226.27 L362.6 226.08 L363.4 225.9 L364.2 225.76 L365 225.66 L365.8 225.62 L366.6 225.63 L367.4 225.7 L368.2 225.83 L369 225.99 L369.8 226.17 L370.6 226.38 L371.4 226.58 L372.2 226.77 L373 226.94 L373.8 227.09 L374.6 227.21 L375.4 227.3 L376.2 227.38 L377 227.43 L377.8 227.47 L378.6 227.5 L379.4 227.51 L380.2 227.53 L381 227.53 L381.8 227.54 L382.6 227.54 L383.4 227.54 L384.2 227.54 L385 227.54 L385.8 227.54" fill="none" stroke="#8a3cc8" stroke-width="0.5" stroke-opacity="0.9" stroke-linejoin="round"/>
<path d="M264.6 211.93 L265.4 213.59 L266.2 214.33 L267 214.59 L267.8 214.55 L268.6 214.3 L269.4 213.82 L270.2 213.1 L271 212.13 L271.8 210.94 L272.6 209.66 L273.4 208.42 L274.2 207.35 L275 206.51 L275.8 205.88 L276.6 205.43 L277.4 205.08 L278.2 204.82 L279 204.6 L279.8 204.4 L280.6 204.22 L281.4 204.05 L282.2 203.9 L283 203.75 L283.8 203.62 L284.6 203.51 L285.4 203.41 L286.2 203.32 L287 203.26 L287.8 203.2 L288.6 203.15 L289.4 203.12 L290.2 203.09 L291 203.07 L291.8 203.05 L292.6 203.04 L293.4 203.03 L294.2 203.02 L295 203.01 L295.8 203.01 L296.6 203 L297 203 L297.4 202.99 L297.8 202.99 L298.2 202.98 L298.6 202.98 L299 202.97 L299.4 202.95 L299.8 202.94 L300.2 202.92 L300.6 202.89 L301 202.86 L301.4 202.81 L301.8 202.75 L302.2 202.68 L302.6 202.58 L303 202.46 L303.4 202.31 L303.8 202.11 L304.2 201.87 L304.6 201.57 L305 201.2 L305.4 200.75 L305.8 200.2 L306.2 199.53 L306.6 198.74 L307 197.78 L307.4 196.65 L307.8 195.32 L308.2 193.76 L308.6 191.95 L309 189.86 L309.4 187.46 L309.8 184.73 L310.2 181.65 L310.6 178.18 L311 174.33 L311.4 170.06 L311.8 165.37 L312.2 160.26 L312.6 154.74 L313 148.82 L313.4 142.53 L313.8 135.88 L314.2 128.94 L314.6 121.74 L315 114.36 L315.4 106.87 L315.8 99.34 L316.2 91.86 L316.6 84.53 L317 77.44 L317.4 70.69 L317.8 64.38 L318.2 58.61 L318.6 53.46 L319 49.01 L319.4 45.35 L319.8 42.53 L320.2 40.6 L320.6 39.6 L321 39.54 L321.4 40.36 L321.8 42.04 L322.2 44.56 L322.6 47.88 L323 51.95 L323.4 56.71 L323.8 62.11 L324.2 68.08 L324.6 74.54 L325 81.42 L325.4 88.67 L325.8 96.2 L326.2 103.96 L326.6 111.89 L327 119.93 L327.4 128 L327.8 136.05 L328.2 144 L328.6 151.77 L329 159.27 L329.4 166.41 L329.8 173.14 L330.2 179.38 L330.6 185.12 L331 190.34 L331.4 195.03 L331.8 199.23 L332.2 202.96 L332.6 206.25 L333 209.14 L333.4 211.67 L333.8 213.87 L334.2 215.79 L334.6 217.45 L335 218.88 L335.4 220.1 L335.8 221.16 L336.2 222.06 L336.6 222.82 L337 223.48 L337.4 224.03 L337.8 224.5 L338.2 224.89 L338.6 225.22 L339 225.5 L339.4 225.74 L339.8 225.94 L340.2 226.1 L341 226.36 L341.8 226.55 L342.6 226.68 L343.4 226.77 L344.2 226.85 L345 226.9 L345.8 226.94 L346.6 226.97 L347.4 227 L348.2 227.02 L349 227.03 L349.8 227.04 L350.6 227.05 L351.4 227.05 L352.2 227.05 L353 227.04 L353.8 227.02 L354.6 226.99 L355.4 226.95 L356.2 226.89 L357 226.8 L357.8 226.7 L358.6 226.56 L359.4 226.4 L360.2 226.22 L361 226.02 L361.8 225.82 L362.6 225.63 L363.4 225.45 L364.2 225.31 L365 225.21 L365.8 225.17 L366.6 225.18 L367.4 225.25 L368.2 225.37 L369 225.54 L369.8 225.72 L370.6 225.93 L371.4 226.13 L372.2 226.32 L373 226.49 L373.8 226.64 L374.6 226.76 L375.4 226.86 L376.2 226.93 L377 226.98 L377.8 227.02 L378.6 227.05 L379.4 227.07 L380.2 227.08 L381 227.09 L381.8 227.09 L382.6 227.09 L383.4 227.09 L384.2 227.09 L385 227.09 L385.8 227.09" fill="none" stroke="#8a3cc8" stroke-width="0.5" stroke-opacity="0.9" stroke-linejoin="round"/>
<path d="M264.6 210.9 L265.4 212.52 L266.2 213.25 L267 213.52 L267.8 213.52 L268.6 213.32 L269.4 212.92 L270.2 212.32 L271 211.51 L271.8 210.52 L272.6 209.44 L273.4 208.4 L274.2 207.5 L275 206.79 L275.8 206.26 L276.6 205.86 L277.4 205.56 L278.2 205.32 L279 205.11 L279.8 204.93 L280.6 204.75 L281.4 204.59 L282.2 204.43 L283 204.29 L283.8 204.16 L284.6 204.05 L285.4 203.95 L286.2 203.87 L287 203.8 L287.8 203.74 L288.6 203.7 L289.4 203.66 L290.2 203.63 L291 203.61 L291.8 203.59 L292.6 203.58 L293.4 203.57 L294.2 203.56 L295 203.56 L295.8 203.55 L296.6 203.55 L297 203.54 L297.4 203.54 L297.8 203.54 L298.2 203.54 L298.6 203.54 L299 203.53 L299.4 203.53 L299.8 203.53 L300.2 203.52 L300.6 203.51 L301 203.5 L301.4 203.49 L301.8 203.47 L302.2 203.45 L302.6 203.41 L303 203.37 L303.4 203.3 L303.8 203.22 L304.2 203.12 L304.6 202.98 L305 202.81 L305.4 202.58 L305.8 202.29 L306.2 201.93 L306.6 201.47 L307 200.91 L307.4 200.21 L307.8 199.36 L308.2 198.33 L308.6 197.08 L309 195.59 L309.4 193.82 L309.8 191.74 L310.2 189.31 L310.6 186.5 L311 183.28 L311.4 179.61 L311.8 175.47 L312.2 170.84 L312.6 165.7 L313 160.07 L313.4 153.93 L313.8 147.32 L314.2 140.26 L314.6 132.81 L315 125.02 L315.4 116.97 L315.8 108.75 L316.2 100.46 L316.6 92.22 L317 84.14 L317.4 76.36 L317.8 69 L318.2 62.19 L318.6 56.06 L319 50.71 L319.4 46.27 L319.8 42.81 L320.2 40.4 L320.6 39.1 L321 38.95 L321.4 40.15 L321.8 42.74 L322.2 46.65 L322.6 51.79 L323 58.02 L323.4 65.21 L323.8 73.19 L324.2 81.79 L324.6 90.85 L325 100.21 L325.4 109.72 L325.8 119.25 L326.2 128.68 L326.6 137.93 L327 146.89 L327.4 155.52 L327.8 163.75 L328.2 171.52 L328.6 178.78 L329 185.49 L329.4 191.61 L329.8 197.11 L330.2 201.98 L330.6 206.23 L331 209.89 L331.4 213 L331.8 215.62 L332.2 217.79 L332.6 219.59 L333 221.06 L333.4 222.25 L333.8 223.22 L334.2 224 L334.6 224.63 L335 225.14 L335.4 225.55 L335.8 225.87 L336.2 226.14 L336.6 226.35 L337 226.53 L337.4 226.67 L337.8 226.79 L338.2 226.9 L338.6 226.98 L339 227.05 L339.4 227.12 L339.8 227.17 L340.2 227.22 L341 227.3 L341.8 227.36 L342.6 227.41 L343.4 227.44 L344.2 227.47 L345 227.5 L345.8 227.52 L346.6 227.53 L347.4 227.54 L348.2 227.55 L349 227.56 L349.8 227.56 L350.6 227.56 L351.4 227.56 L352.2 227.56 L353 227.56 L353.8 227.55 L354.6 227.53 L355.4 227.51 L356.2 227.48 L357 227.44 L357.8 227.39 L358.6 227.33 L359.4 227.25 L360.2 227.17 L361 227.08 L361.8 226.98 L362.6 226.89 L363.4 226.8 L364.2 226.74 L365 226.69 L365.8 226.67 L366.6 226.68 L367.4 226.71 L368.2 226.77 L369 226.84 L369.8 226.93 L370.6 227.03 L371.4 227.12 L372.2 227.21 L373 227.29 L373.8 227.36 L374.6 227.42 L375.4 227.47 L376.2 227.5 L377 227.53 L377.8 227.55 L378.6 227.56 L379.4 227.57 L380.2 227.57 L381 227.57 L381.8 227.58 L382.6 227.58 L383.4 227.58 L384.2 227.58 L385 227.58 L385.8 227.58" fill="none" stroke="#8a3cc8" stroke-width="0.5" stroke-opacity="0.9" stroke-linejoin="round"/>
<path d="M264.6 211.25 L265.4 212.16 L266.2 212.55 L267 212.68 L267.8 212.64 L268.6 212.47 L269.4 212.16 L270.2 211.69 L271 211.07 L271.8 210.3 L272.6 209.48 L273.4 208.68 L274.2 207.98 L275 207.43 L275.8 207 L276.6 206.68 L277.4 206.43 L278.2 206.22 L279 206.03 L279.8 205.86 L280.6 205.69 L281.4 205.53 L282.2 205.38 L283 205.24 L283.8 205.11 L284.6 204.99 L285.4 204.9 L286.2 204.81 L287 204.74 L287.8 204.69 L288.6 204.64 L289.4 204.61 L290.2 204.58 L291 204.56 L291.8 204.54 L292.6 204.53 L293.4 204.52 L294.2 204.51 L295 204.5 L295.8 204.5 L296.6 204.49 L297 204.49 L297.4 204.48 L297.8 204.48 L298.2 204.47 L298.6 204.47 L299 204.46 L299.4 204.45 L299.8 204.43 L300.2 204.42 L300.6 204.39 L301 204.36 L301.4 204.32 L301.8 204.27 L302.2 204.2 L302.6 204.12 L303 204.01 L303.4 203.87 L303.8 203.7 L304.2 203.49 L304.6 203.23 L305 202.9 L305.4 202.51 L305.8 202.02 L306.2 201.44 L306.6 200.74 L307 199.91 L307.4 198.92 L307.8 197.75 L308.2 196.38 L308.6 194.78 L309 192.94 L309.4 190.82 L309.8 188.41 L310.2 185.67 L310.6 182.58 L311 179.13 L311.4 175.29 L311.8 171.06 L312.2 166.42 L312.6 161.39 L313 155.95 L313.4 150.13 L313.8 143.94 L314.2 137.42 L314.6 130.61 L315 123.56 L315.4 116.31 L315.8 108.95 L316.2 101.55 L316.6 94.17 L317 86.93 L317.4 79.89 L317.8 73.16 L318.2 66.83 L318.6 60.99 L319 55.73 L319.4 51.12 L319.8 47.24 L320.2 44.15 L320.6 41.9 L321 40.53 L321.4 40.07 L321.8 40.57 L322.2 42.06 L322.6 44.53 L323 47.94 L323.4 52.22 L323.8 57.3 L324.2 63.1 L324.6 69.54 L325 76.52 L325.4 83.95 L325.8 91.73 L326.2 99.78 L326.6 108.02 L327 116.37 L327.4 124.76 L327.8 133.12 L328.2 141.37 L328.6 149.46 L329 157.3 L329.4 164.81 L329.8 171.93 L330.2 178.57 L330.6 184.71 L331 190.3 L331.4 195.33 L331.8 199.82 L332.2 203.78 L332.6 207.24 L333 210.26 L333.4 212.88 L333.8 215.13 L334.2 217.05 L334.6 218.7 L335 220.1 L335.4 221.28 L335.8 222.29 L336.2 223.14 L336.6 223.85 L337 224.45 L337.4 224.95 L337.8 225.37 L338.2 225.73 L338.6 226.03 L339 226.28 L339.4 226.49 L339.8 226.67 L340.2 226.82 L341 227.06 L341.8 227.24 L342.6 227.37 L343.4 227.47 L344.2 227.54 L345 227.6 L345.8 227.64 L346.6 227.68 L347.4 227.7 L348.2 227.72 L349 227.74 L349.8 227.75 L350.6 227.76 L351.4 227.77 L352.2 227.77 L353 227.77 L353.8 227.76 L354.6 227.74 L355.4 227.72 L356.2 227.69 L357 227.65 L357.8 227.59 L358.6 227.52 L359.4 227.44 L360.2 227.35 L361 227.24 L361.8 227.14 L362.6 227.04 L363.4 226.94 L364.2 226.87 L365 226.82 L365.8 226.8 L366.6 226.8 L367.4 226.84 L368.2 226.9 L369 226.99 L369.8 227.09 L370.6 227.19 L371.4 227.3 L372.2 227.4 L373 227.49 L373.8 227.56 L374.6 227.63 L375.4 227.68 L376.2 227.72 L377 227.74 L377.8 227.76 L378.6 227.78 L379.4 227.79 L380.2 227.79 L381 227.8 L381.8 227.8 L382.6 227.8 L383.4 227.8 L384.2 227.8 L385 227.8 L385.8 227.8" fill="none" stroke="#3040c0" stroke-width="0.5" stroke-opacity="0.9" stroke-linejoin="round"/>
<path d="M264.6 214.08 L265.4 214.8 L266.2 215.07 L267 215.1 L267.8 214.95 L268.6 214.62 L269.4 214.09 L270.2 213.3 L271 212.26 L271.8 210.99 L272.6 209.62 L273.4 208.3 L274.2 207.16 L275 206.27 L275.8 205.6 L276.6 205.12 L277.4 204.76 L278.2 204.48 L279 204.26 L279.8 204.06 L280.6 203.87 L281.4 203.7 L282.2 203.54 L283 203.4 L283.8 203.27 L284.6 203.15 L285.4 203.06 L286.2 202.97 L287 202.9 L287.8 202.85 L288.6 202.8 L289.4 202.77 L290.2 202.74 L291 202.72 L291.8 202.7 L292.6 202.68 L293.4 202.67 L294.2 202.67 L295 202.66 L295.8 202.65 L296.6 202.65 L297 202.65 L297.4 202.65 L297.8 202.64 L298.2 202.64 L298.6 202.64 L299 202.63 L299.4 202.63 L299.8 202.62 L300.2 202.61 L300.6 202.6 L301 202.58 L301.4 202.56 L301.8 202.53 L302.2 202.49 L302.6 202.44 L303 202.38 L303.4 202.29 L303.8 202.18 L304.2 202.04 L304.6 201.86 L305 201.63 L305.4 201.35 L305.8 200.99 L306.2 200.55 L306.6 200.01 L307 199.35 L307.4 198.55 L307.8 197.58 L308.2 196.43 L308.6 195.06 L309 193.45 L309.4 191.56 L309.8 189.36 L310.2 186.84 L310.6 183.94 L311 180.66 L311.4 176.96 L311.8 172.83 L312.2 168.24 L312.6 163.2 L313 157.71 L313.4 151.76 L313.8 145.39 L314.2 138.63 L314.6 131.51 L315 124.09 L315.4 116.44 L315.8 108.63 L316.2 100.75 L316.6 92.91 L317 85.2 L317.4 77.73 L317.8 70.62 L318.2 63.97 L318.6 57.9 L319 52.51 L319.4 47.88 L319.8 44.12 L320.2 41.27 L320.6 39.41 L321 38.56 L321.4 38.78 L321.8 40.21 L322.2 42.84 L322.6 46.59 L323 51.4 L323.4 57.17 L323.8 63.77 L324.2 71.09 L324.6 78.99 L325 87.35 L325.4 96.04 L325.8 104.94 L326.2 113.94 L326.6 122.95 L327 131.88 L327.4 140.66 L327.8 149.22 L328.2 157.49 L328.6 165.4 L329 172.89 L329.4 179.88 L329.8 186.32 L330.2 192.18 L330.6 197.43 L331 202.07 L331.4 206.12 L331.8 209.62 L332.2 212.61 L332.6 215.14 L333 217.26 L333.4 219.04 L333.8 220.52 L334.2 221.74 L334.6 222.74 L335 223.57 L335.4 224.25 L335.8 224.8 L336.2 225.25 L336.6 225.62 L337 225.93 L337.4 226.18 L337.8 226.38 L338.2 226.55 L338.6 226.69 L339 226.81 L339.4 226.91 L339.8 227 L340.2 227.07 L341 227.19 L341.8 227.27 L342.6 227.34 L343.4 227.39 L344.2 227.43 L345 227.47 L345.8 227.49 L346.6 227.51 L347.4 227.52 L348.2 227.53 L349 227.54 L349.8 227.55 L350.6 227.55 L351.4 227.55 L352.2 227.55 L353 227.54 L353.8 227.52 L354.6 227.5 L355.4 227.47 L356.2 227.42 L357 227.35 L357.8 227.27 L358.6 227.16 L359.4 227.04 L360.2 226.9 L361 226.75 L361.8 226.59 L362.6 226.44 L363.4 226.3 L364.2 226.19 L365 226.12 L365.8 226.08 L366.6 226.09 L367.4 226.15 L368.2 226.24 L369 226.37 L369.8 226.51 L370.6 226.67 L371.4 226.83 L372.2 226.97 L373 227.11 L373.8 227.22 L374.6 227.32 L375.4 227.39 L376.2 227.45 L377 227.49 L377.8 227.52 L378.6 227.54 L379.4 227.55 L380.2 227.56 L381 227.57 L381.8 227.57 L382.6 227.57 L383.4 227.57 L384.2 227.57 L385 227.57 L385.8 227.57" fill="none" stroke="#3040c0" stroke-width="0.5" stroke-opacity="0.9" stroke-linejoin="round"/>
<path d="M264.6 211.51 L265.4 212.31 L266.2 212.65 L267 212.74 L267.8 212.67 L268.6 212.47 L269.4 212.13 L270.2 211.61 L271 210.92 L271.8 210.08 L272.6 209.17 L273.4 208.29 L274.2 207.53 L275 206.92 L275.8 206.46 L276.6 206.11 L277.4 205.85 L278.2 205.63 L279 205.43 L279.8 205.25 L280.6 205.09 L281.4 204.92 L282.2 204.77 L283 204.63 L283.8 204.5 L284.6 204.39 L285.4 204.29 L286.2 204.2 L287 204.14 L287.8 204.08 L288.6 204.04 L289.4 204 L290.2 203.97 L291 203.95 L291.8 203.93 L292.6 203.92 L293.4 203.91 L294.2 203.9 L295 203.89 L295.8 203.89 L296.6 203.88 L297 203.88 L297.4 203.88 L297.8 203.87 L298.2 203.87 L298.6 203.87 L299 203.86 L299.4 203.85 L299.8 203.84 L300.2 203.83 L300.6 203.81 L301 203.79 L301.4 203.76 L301.8 203.72 L302.2 203.67 L302.6 203.61 L303 203.53 L303.4 203.42 L303.8 203.29 L304.2 203.12 L304.6 202.9 L305 202.64 L305.4 202.31 L305.8 201.9 L306.2 201.41 L306.6 200.8 L307 200.08 L307.4 199.2 L307.8 198.16 L308.2 196.92 L308.6 195.47 L309 193.77 L309.4 191.8 L309.8 189.52 L310.2 186.92 L310.6 183.96 L311 180.61 L311.4 176.86 L311.8 172.68 L312.2 168.07 L312.6 163.01 L313 157.51 L313.4 151.56 L313.8 145.2 L314.2 138.44 L314.6 131.32 L315 123.89 L315.4 116.2 L315.8 108.33 L316.2 100.35 L316.6 92.36 L317 84.43 L317.4 76.68 L317.8 69.21 L318.2 62.12 L318.6 55.52 L319 49.51 L319.4 44.17 L319.8 39.61 L320.2 35.89 L320.6 33.08 L321 31.23 L321.4 30.36 L321.8 30.55 L322.2 31.96 L322.6 34.57 L323 38.34 L323.4 43.18 L323.8 49.01 L324.2 55.7 L324.6 63.14 L325 71.19 L325.4 79.73 L325.8 88.63 L326.2 97.78 L326.6 107.05 L327 116.36 L327.4 125.61 L327.8 134.73 L328.2 143.63 L328.6 152.25 L329 160.51 L329.4 168.35 L329.8 175.7 L330.2 182.49 L330.6 188.69 L331 194.27 L331.4 199.23 L331.8 203.59 L332.2 207.37 L332.6 210.63 L333 213.41 L333.4 215.76 L333.8 217.75 L334.2 219.41 L334.6 220.8 L335 221.95 L335.4 222.9 L335.8 223.69 L336.2 224.34 L336.6 224.87 L337 225.31 L337.4 225.68 L337.8 225.97 L338.2 226.22 L338.6 226.42 L339 226.59 L339.4 226.74 L339.8 226.86 L340.2 226.96 L341 227.12 L341.8 227.23 L342.6 227.32 L343.4 227.39 L344.2 227.44 L345 227.48 L345.8 227.51 L346.6 227.53 L347.4 227.55 L348.2 227.56 L349 227.58 L349.8 227.58 L350.6 227.59 L351.4 227.59 L352.2 227.58 L353 227.57 L353.8 227.56 L354.6 227.53 L355.4 227.49 L356.2 227.43 L357 227.35 L357.8 227.25 L358.6 227.13 L359.4 226.98 L360.2 226.81 L361 226.63 L361.8 226.44 L362.6 226.26 L363.4 226.1 L364.2 225.97 L365 225.88 L365.8 225.84 L366.6 225.85 L367.4 225.92 L368.2 226.03 L369 226.18 L369.8 226.35 L370.6 226.54 L371.4 226.72 L372.2 226.9 L373 227.06 L373.8 227.19 L374.6 227.31 L375.4 227.4 L376.2 227.46 L377 227.51 L377.8 227.55 L378.6 227.57 L379.4 227.59 L380.2 227.6 L381 227.61 L381.8 227.61 L382.6 227.61 L383.4 227.61 L384.2 227.62 L385 227.62 L385.8 227.62" fill="none" stroke="#3040c0" stroke-width="0.5" stroke-opacity="0.9" stroke-linejoin="round"/>
<path d="M264.6 214.75 L265.4 215.46 L266.2 215.73 L267 215.75 L267.8 215.59 L268.6 215.24 L269.4 214.68 L270.2 213.86 L271 212.77 L271.8 211.45 L272.6 210.01 L273.4 208.63 L274.2 207.44 L275 206.51 L275.8 205.81 L276.6 205.31 L277.4 204.94 L278.2 204.65 L279 204.42 L279.8 204.22 L280.6 204.03 L281.4 203.86 L282.2 203.7 L283 203.56 L283.8 203.43 L284.6 203.31 L285.4 203.21 L286.2 203.13 L287 203.06 L287.8 203.01 L288.6 202.96 L289.4 202.92 L290.2 202.9 L291 202.87 L291.8 202.86 L292.6 202.84 L293.4 202.83 L294.2 202.82 L295 202.82 L295.8 202.81 L296.6 202.81 L297 202.81 L297.4 202.81 L297.8 202.8 L298.2 202.8 L298.6 202.8 L299 202.79 L299.4 202.79 L299.8 202.78 L300.2 202.77 L300.6 202.76 L301 202.75 L301.4 202.73 L301.8 202.7 L302.2 202.67 L302.6 202.62 L303 202.56 L303.4 202.49 L303.8 202.39 L304.2 202.26 L304.6 202.1 L305 201.9 L305.4 201.64 L305.8 201.33 L306.2 200.93 L306.6 200.45 L307 199.86 L307.4 199.14 L307.8 198.27 L308.2 197.24 L308.6 196 L309 194.55 L309.4 192.84 L309.8 190.85 L310.2 188.55 L310.6 185.92 L311 182.91 L311.4 179.52 L311.8 175.71 L312.2 171.47 L312.6 166.79 L313 161.65 L313.4 156.07 L313.8 150.06 L314.2 143.64 L314.6 136.83 L315 129.69 L315.4 122.27 L315.8 114.63 L316.2 106.86 L316.6 99.04 L317 91.26 L317.4 83.62 L317.8 76.24 L318.2 69.21 L318.6 62.66 L319 56.67 L319.4 51.36 L319.8 46.81 L320.2 43.1 L320.6 40.3 L321 38.46 L321.4 37.62 L321.8 37.77 L322.2 38.87 L322.6 40.91 L323 43.84 L323.4 47.61 L323.8 52.19 L324.2 57.48 L324.6 63.42 L325 69.94 L325.4 76.94 L325.8 84.34 L326.2 92.07 L326.6 100.05 L327 108.22 L327.4 116.5 L327.8 124.83 L328.2 133.13 L328.6 141.35 L329 149.4 L329.4 157.19 L329.8 164.65 L330.2 171.7 L330.6 178.27 L331 184.32 L331.4 189.82 L331.8 194.77 L332.2 199.19 L332.6 203.1 L333 206.53 L333.4 209.53 L333.8 212.14 L334.2 214.4 L334.6 216.34 L335 218.01 L335.4 219.45 L335.8 220.67 L336.2 221.71 L336.6 222.59 L337 223.33 L337.4 223.96 L337.8 224.49 L338.2 224.94 L338.6 225.31 L339 225.63 L339.4 225.89 L339.8 226.12 L340.2 226.3 L341 226.59 L341.8 226.8 L342.6 226.95 L343.4 227.06 L344.2 227.14 L345 227.2 L345.8 227.25 L346.6 227.29 L347.4 227.31 L348.2 227.34 L349 227.35 L349.8 227.37 L350.6 227.37 L351.4 227.38 L352.2 227.38 L353 227.38 L353.8 227.37 L354.6 227.36 L355.4 227.34 L356.2 227.3 L357 227.26 L357.8 227.2 L358.6 227.13 L359.4 227.05 L360.2 226.95 L361 226.84 L361.8 226.74 L362.6 226.63 L363.4 226.54 L364.2 226.46 L365 226.41 L365.8 226.38 L366.6 226.39 L367.4 226.43 L368.2 226.49 L369 226.58 L369.8 226.68 L370.6 226.79 L371.4 226.9 L372.2 227 L373 227.09 L373.8 227.17 L374.6 227.24 L375.4 227.29 L376.2 227.33 L377 227.36 L377.8 227.38 L378.6 227.4 L379.4 227.4 L380.2 227.41 L381 227.41 L381.8 227.42 L382.6 227.42 L383.4 227.42 L384.2 227.42 L385 227.42 L385.8 227.42" fill="none" stroke="#3040c0" stroke-width="0.5" stroke-opacity="0.9" stroke-linejoin="round"/>
<path d="M264.6 208.46 L265.4 209.45 L266.2 209.9 L267 210.05 L267.8 210.03 L268.6 209.88 L269.4 209.59 L270.2 209.16 L271 208.58 L271.8 207.87 L272.6 207.09 L273.4 206.35 L274.2 205.7 L275 205.17 L275.8 204.77 L276.6 204.47 L277.4 204.23 L278.2 204.03 L279 203.84 L279.8 203.67 L280.6 203.51 L281.4 203.35 L282.2 203.2 L283 203.05 L283.8 202.93 L284.6 202.81 L285.4 202.71 L286.2 202.63 L287 202.56 L287.8 202.51 L288.6 202.46 L289.4 202.43 L290.2 202.4 L291 202.38 L291.8 202.36 L292.6 202.35 L293.4 202.33 L294.2 202.33 L295 202.32 L295.8 202.32 L296.6 202.31 L297 202.31 L297.4 202.31 L297.8 202.31 L298.2 202.3 L298.6 202.3 L299 202.3 L299.4 202.3 L299.8 202.29 L300.2 202.29 L300.6 202.28 L301 202.27 L301.4 202.26 L301.8 202.24 L302.2 202.22 L302.6 202.18 L303 202.14 L303.4 202.09 L303.8 202.01 L304.2 201.92 L304.6 201.8 L305 201.64 L305.4 201.44 L305.8 201.19 L306.2 200.88 L306.6 200.48 L307 199.99 L307.4 199.39 L307.8 198.65 L308.2 197.76 L308.6 196.68 L309 195.4 L309.4 193.87 L309.8 192.07 L310.2 189.96 L310.6 187.51 L311 184.69 L311.4 181.47 L311.8 177.82 L312.2 173.71 L312.6 169.13 L313 164.05 L313.4 158.48 L313.8 152.41 L314.2 145.87 L314.6 138.88 L315 131.48 L315.4 123.71 L315.8 115.66 L316.2 107.39 L316.6 98.99 L317 90.56 L317.4 82.22 L317.8 74.08 L318.2 66.26 L318.6 58.89 L319 52.08 L319.4 45.96 L319.8 40.62 L320.2 36.18 L320.6 32.7 L321 30.25 L321.4 28.9 L321.8 28.65 L322.2 29.61 L322.6 31.8 L323 35.16 L323.4 39.63 L323.8 45.11 L324.2 51.51 L324.6 58.7 L325 66.56 L325.4 74.96 L325.8 83.77 L326.2 92.87 L326.6 102.15 L327 111.51 L327.4 120.85 L327.8 130.1 L328.2 139.17 L328.6 148 L329 156.5 L329.4 164.61 L329.8 172.26 L330.2 179.37 L330.6 185.9 L331 191.81 L331.4 197.09 L331.8 201.75 L332.2 205.81 L332.6 209.31 L333 212.31 L333.4 214.86 L333.8 217.02 L334.2 218.83 L334.6 220.34 L335 221.6 L335.4 222.64 L335.8 223.51 L336.2 224.22 L336.6 224.82 L337 225.31 L337.4 225.71 L337.8 226.05 L338.2 226.33 L338.6 226.56 L339 226.75 L339.4 226.92 L339.8 227.06 L340.2 227.18 L341 227.37 L341.8 227.51 L342.6 227.62 L343.4 227.7 L344.2 227.76 L345 227.81 L345.8 227.85 L346.6 227.88 L347.4 227.91 L348.2 227.93 L349 227.94 L349.8 227.95 L350.6 227.95 L351.4 227.96 L352.2 227.95 L353 227.94 L353.8 227.93 L354.6 227.9 L355.4 227.86 L356.2 227.8 L357 227.72 L357.8 227.62 L358.6 227.5 L359.4 227.35 L360.2 227.18 L361 227 L361.8 226.82 L362.6 226.63 L363.4 226.47 L364.2 226.34 L365 226.25 L365.8 226.21 L366.6 226.22 L367.4 226.29 L368.2 226.4 L369 226.55 L369.8 226.72 L370.6 226.91 L371.4 227.1 L372.2 227.27 L373 227.43 L373.8 227.57 L374.6 227.68 L375.4 227.77 L376.2 227.84 L377 227.89 L377.8 227.92 L378.6 227.95 L379.4 227.97 L380.2 227.98 L381 227.98 L381.8 227.99 L382.6 227.99 L383.4 227.99 L384.2 227.99 L385 227.99 L385.8 227.99" fill="none" stroke="#5048d8" stroke-width="0.5" stroke-opacity="0.9" stroke-linejoin="round"/>
<path d="M264.6 207.16 L265.4 208.32 L266.2 208.84 L267 209.04 L267.8 209.04 L268.6 208.91 L269.4 208.66 L270.2 208.26 L271 207.73 L271.8 207.08 L272.6 206.37 L273.4 205.68 L274.2 205.08 L275 204.6 L275.8 204.22 L276.6 203.94 L277.4 203.71 L278.2 203.51 L279 203.34 L279.8 203.17 L280.6 203 L281.4 202.85 L282.2 202.69 L283 202.55 L283.8 202.43 L284.6 202.31 L285.4 202.21 L286.2 202.13 L287 202.06 L287.8 202.01 L288.6 201.96 L289.4 201.93 L290.2 201.9 L291 201.88 L291.8 201.86 L292.6 201.85 L293.4 201.83 L294.2 201.83 L295 201.82 L295.8 201.82 L296.6 201.81 L297 201.81 L297.4 201.81 L297.8 201.81 L298.2 201.8 L298.6 201.8 L299 201.8 L299.4 201.8 L299.8 201.79 L300.2 201.78 L300.6 201.78 L301 201.77 L301.4 201.75 L301.8 201.73 L302.2 201.7 L302.6 201.67 L303 201.62 L303.4 201.56 L303.8 201.48 L304.2 201.38 L304.6 201.25 L305 201.08 L305.4 200.86 L305.8 200.59 L306.2 200.25 L306.6 199.82 L307 199.29 L307.4 198.65 L307.8 197.87 L308.2 196.92 L308.6 195.78 L309 194.42 L309.4 192.82 L309.8 190.93 L310.2 188.74 L310.6 186.2 L311 183.29 L311.4 179.97 L311.8 176.22 L312.2 172.02 L312.6 167.36 L313 162.21 L313.4 156.59 L313.8 150.5 L314.2 143.96 L314.6 137 L315 129.67 L315.4 122.02 L315.8 114.12 L316.2 106.06 L316.6 97.92 L317 89.81 L317.4 81.83 L317.8 74.11 L318.2 66.76 L318.6 59.89 L319 53.63 L319.4 48.09 L319.8 43.35 L320.2 39.51 L320.6 36.65 L321 34.81 L321.4 34.03 L321.8 34.34 L322.2 35.75 L322.6 38.24 L323 41.75 L323.4 46.23 L323.8 51.59 L324.2 57.75 L324.6 64.59 L325 72.02 L325.4 79.92 L325.8 88.19 L326.2 96.74 L326.6 105.47 L327 114.29 L327.4 123.14 L327.8 131.93 L328.2 140.59 L328.6 149.05 L329 157.23 L329.4 165.06 L329.8 172.45 L330.2 179.34 L330.6 185.67 L331 191.41 L331.4 196.55 L331.8 201.1 L332.2 205.09 L332.6 208.55 L333 211.54 L333.4 214.1 L333.8 216.27 L334.2 218.12 L334.6 219.68 L335 220.99 L335.4 222.09 L335.8 223.01 L336.2 223.78 L336.6 224.42 L337 224.96 L337.4 225.41 L337.8 225.78 L338.2 226.09 L338.6 226.35 L339 226.57 L339.4 226.76 L339.8 226.91 L340.2 227.05 L341 227.26 L341.8 227.41 L342.6 227.53 L343.4 227.62 L344.2 227.69 L345 227.75 L345.8 227.79 L346.6 227.82 L347.4 227.85 L348.2 227.86 L349 227.88 L349.8 227.89 L350.6 227.9 L351.4 227.9 L352.2 227.91 L353 227.9 L353.8 227.9 L354.6 227.89 L355.4 227.87 L356.2 227.84 L357 227.8 L357.8 227.75 L358.6 227.69 L359.4 227.62 L360.2 227.53 L361 227.44 L361.8 227.35 L362.6 227.26 L363.4 227.18 L364.2 227.11 L365 227.06 L365.8 227.04 L366.6 227.05 L367.4 227.08 L368.2 227.14 L369 227.22 L369.8 227.3 L370.6 227.4 L371.4 227.49 L372.2 227.58 L373 227.66 L373.8 227.72 L374.6 227.78 L375.4 227.83 L376.2 227.86 L377 227.88 L377.8 227.9 L378.6 227.92 L379.4 227.92 L380.2 227.93 L381 227.93 L381.8 227.93 L382.6 227.93 L383.4 227.94 L384.2 227.94 L385 227.94 L385.8 227.94" fill="none" stroke="#c8c0f4" stroke-width="0.5" stroke-opacity="0.9" stroke-linejoin="round"/>
<path d="M264.6 207.76 L265.4 208.86 L266.2 209.36 L267 209.54 L267.8 209.54 L268.6 209.4 L269.4 209.13 L270.2 208.72 L271 208.17 L271.8 207.49 L272.6 206.76 L273.4 206.05 L274.2 205.43 L275 204.93 L275.8 204.54 L276.6 204.25 L277.4 204.02 L278.2 203.82 L279 203.64 L279.8 203.47 L280.6 203.3 L281.4 203.15 L282.2 202.99 L283 202.85 L283.8 202.73 L284.6 202.61 L285.4 202.51 L286.2 202.43 L287 202.36 L287.8 202.31 L288.6 202.26 L289.4 202.23 L290.2 202.2 L291 202.18 L291.8 202.16 L292.6 202.15 L293.4 202.13 L294.2 202.13 L295 202.12 L295.8 202.12 L296.6 202.11 L297 202.11 L297.4 202.11 L297.8 202.11 L298.2 202.1 L298.6 202.1 L299 202.1 L299.4 202.09 L299.8 202.09 L300.2 202.08 L300.6 202.07 L301 202.06 L301.4 202.04 L301.8 202.01 L302.2 201.98 L302.6 201.94 L303 201.88 L303.4 201.81 L303.8 201.72 L304.2 201.59 L304.6 201.44 L305 201.24 L305.4 200.99 L305.8 200.67 L306.2 200.28 L306.6 199.79 L307 199.19 L307.4 198.46 L307.8 197.57 L308.2 196.51 L308.6 195.24 L309 193.73 L309.4 191.96 L309.8 189.89 L310.2 187.5 L310.6 184.74 L311 181.6 L311.4 178.04 L311.8 174.05 L312.2 169.6 L312.6 164.69 L313 159.31 L313.4 153.46 L313.8 147.17 L314.2 140.47 L314.6 133.38 L315 125.98 L315.4 118.31 L315.8 110.45 L316.2 102.5 L316.6 94.55 L317 86.71 L317.4 79.08 L317.8 71.79 L318.2 64.95 L318.6 58.67 L319 53.06 L319.4 48.22 L319.8 44.24 L320.2 41.2 L320.6 39.14 L321 38.12 L321.4 38.14 L321.8 39.17 L322.2 41.19 L322.6 44.15 L323 48.01 L323.4 52.71 L323.8 58.17 L324.2 64.3 L324.6 71.02 L325 78.23 L325.4 85.86 L325.8 93.8 L326.2 101.98 L326.6 110.32 L327 118.76 L327.4 127.22 L327.8 135.63 L328.2 143.92 L328.6 152.01 L329 159.83 L329.4 167.29 L329.8 174.32 L330.2 180.84 L330.6 186.83 L331 192.25 L331.4 197.1 L331.8 201.39 L332.2 205.17 L332.6 208.47 L333 211.32 L333.4 213.78 L333.8 215.89 L334.2 217.7 L334.6 219.23 L335 220.54 L335.4 221.64 L335.8 222.57 L336.2 223.35 L336.6 224.01 L337 224.56 L337.4 225.02 L337.8 225.41 L338.2 225.73 L338.6 226 L339 226.23 L339.4 226.42 L339.8 226.58 L340.2 226.71 L341 226.93 L341.8 227.08 L342.6 227.2 L343.4 227.28 L344.2 227.35 L345 227.4 L345.8 227.44 L346.6 227.47 L347.4 227.49 L348.2 227.51 L349 227.52 L349.8 227.53 L350.6 227.54 L351.4 227.54 L352.2 227.53 L353 227.52 L353.8 227.51 L354.6 227.48 L355.4 227.43 L356.2 227.37 L357 227.28 L357.8 227.17 L358.6 227.04 L359.4 226.88 L360.2 226.69 L361 226.49 L361.8 226.29 L362.6 226.09 L363.4 225.91 L364.2 225.76 L365 225.67 L365.8 225.62 L366.6 225.64 L367.4 225.71 L368.2 225.83 L369 226 L369.8 226.19 L370.6 226.39 L371.4 226.6 L372.2 226.79 L373 226.96 L373.8 227.11 L374.6 227.24 L375.4 227.34 L376.2 227.41 L377 227.47 L377.8 227.5 L378.6 227.53 L379.4 227.55 L380.2 227.56 L381 227.57 L381.8 227.57 L382.6 227.57 L383.4 227.58 L384.2 227.58 L385 227.58 L385.8 227.58" fill="none" stroke="#d8d4f8" stroke-width="0.5" stroke-opacity="0.9" stroke-linejoin="round"/>
<rect x="242" y="250.3" width="155.6" height="20.2" fill="#fff" stroke="#b0b8c4" stroke-width="0.9"/>
<text x="243.5" y="250.6" font-size="1.6" fill="#8a9ab0" text-anchor="start" font-weight="normal" font-family='"Liberation Sans", sans-serif' stroke="#8a9ab0" stroke-width="0.24" stroke-opacity="0.55">Legend</text>
<rect x="242.7" y="255.3" width="4" height="3.5" fill="#d04020" stroke="none" stroke-width="0.5"/>
<text x="248.1" y="258.9" font-size="4.5" fill="#333" text-anchor="start" font-weight="normal" font-family='"Liberation Sans", sans-serif' stroke="#333" stroke-width="0.24" stroke-opacity="0.55" textLength="2.7" lengthAdjust="spacingAndGlyphs">A</text>
<rect x="254.02" y="255.3" width="4" height="3.5" fill="#e0b020" stroke="none" stroke-width="0.5"/>
<text x="259.42" y="258.9" font-size="4.5" fill="#333" text-anchor="start" font-weight="normal" font-family='"Liberation Sans", sans-serif' stroke="#333" stroke-width="0.24" stroke-opacity="0.55" textLength="2.7" lengthAdjust="spacingAndGlyphs">B</text>
<rect x="265.34" y="255.3" width="4" height="3.5" fill="#70d040" stroke="none" stroke-width="0.5"/>
<text x="270.74" y="258.9" font-size="4.5" fill="#333" text-anchor="start" font-weight="normal" font-family='"Liberation Sans", sans-serif' stroke="#333" stroke-width="0.24" stroke-opacity="0.55" textLength="2.7" lengthAdjust="spacingAndGlyphs">C</text>
<rect x="276.66" y="255.3" width="4" height="3.5" fill="#30c080" stroke="none" stroke-width="0.5"/>
<text x="282.06" y="258.9" font-size="4.5" fill="#333" text-anchor="start" font-weight="normal" font-family='"Liberation Sans", sans-serif' stroke="#333" stroke-width="0.24" stroke-opacity="0.55" textLength="2.7" lengthAdjust="spacingAndGlyphs">D</text>
<rect x="287.98" y="255.3" width="4" height="3.5" fill="#30b0e0" stroke="none" stroke-width="0.5"/>
<text x="293.38" y="258.9" font-size="4.5" fill="#333" text-anchor="start" font-weight="normal" font-family='"Liberation Sans", sans-serif' stroke="#333" stroke-width="0.24" stroke-opacity="0.55" textLength="2.7" lengthAdjust="spacingAndGlyphs">E</text>
<rect x="299.3" y="255.3" width="4" height="3.5" fill="#1020c0" stroke="none" stroke-width="0.5"/>
<text x="304.7" y="258.9" font-size="4.5" fill="#333" text-anchor="start" font-weight="normal" font-family='"Liberation Sans", sans-serif' stroke="#333" stroke-width="0.24" stroke-opacity="0.55" textLength="2.7" lengthAdjust="spacingAndGlyphs">F</text>
<rect x="310.62" y="255.3" width="4" height="3.5" fill="#8020d0" stroke="none" stroke-width="0.5"/>
<text x="316.02" y="258.9" font-size="4.5" fill="#333" text-anchor="start" font-weight="normal" font-family='"Liberation Sans", sans-serif' stroke="#333" stroke-width="0.24" stroke-opacity="0.55" textLength="2.7" lengthAdjust="spacingAndGlyphs">G</text>
<rect x="321.94" y="255.3" width="4" height="3.5" fill="#d02090" stroke="none" stroke-width="0.5"/>
<text x="327.34" y="258.9" font-size="4.5" fill="#333" text-anchor="start" font-weight="normal" font-family='"Liberation Sans", sans-serif' stroke="#333" stroke-width="0.24" stroke-opacity="0.55" textLength="2.7" lengthAdjust="spacingAndGlyphs">H</text>
</svg>
</body></html>
